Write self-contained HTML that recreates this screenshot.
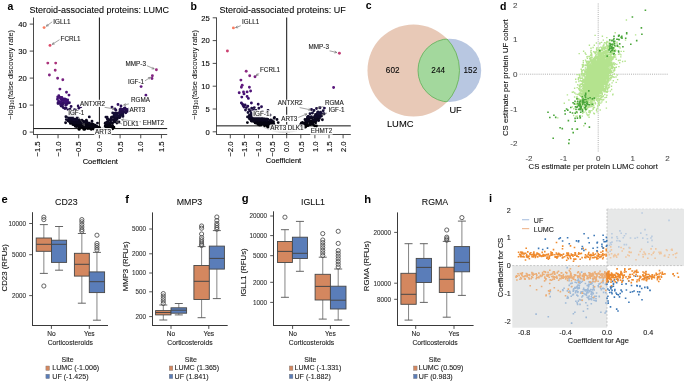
<!DOCTYPE html>
<html><head><meta charset="utf-8"><style>
html,body{margin:0;padding:0;background:#fff;}
body{width:685px;height:381px;overflow:hidden;}
svg{display:block;font-family:"Liberation Sans", sans-serif;will-change:transform;}
</style></head><body>
<svg width="685" height="381" viewBox="0 0 685 381">
<rect width="685" height="381" fill="#fff"/>
<text x="7.5" y="10" font-size="10.5" font-weight="bold" fill="#000">a</text>
<text x="190.5" y="9.5" font-size="10.5" font-weight="bold" fill="#000">b</text>
<text x="365.8" y="9.3" font-size="10.5" font-weight="bold" fill="#000">c</text>
<text x="500" y="9.6" font-size="10.5" font-weight="bold" fill="#000">d</text>
<text x="1.6" y="202.6" font-size="11.2" font-weight="bold" fill="#000">e</text>
<text x="125.2" y="203.1" font-size="11.2" font-weight="bold" fill="#000">f</text>
<text x="241.8" y="202.3" font-size="11.2" font-weight="bold" fill="#000">g</text>
<text x="364.2" y="203.1" font-size="11.2" font-weight="bold" fill="#000">h</text>
<text x="489" y="202" font-size="11.2" font-weight="bold" fill="#000">i</text>
<text x="29.4" y="12.6" font-size="9" stroke="#1a1a1a" stroke-width="0.08">Steroid-associated proteins: LUMC</text>
<line x1="33.5" y1="17.5" x2="33.5" y2="135" stroke="#4a4a4a" stroke-width="1"/>
<line x1="33" y1="134.5" x2="167.2" y2="134.5" stroke="#4a4a4a" stroke-width="1"/>
<line x1="29.7" y1="132.1" x2="33.5" y2="132.1" stroke="#3a3a3a" stroke-width="0.9"/>
<text x="26.9" y="134.8" font-size="7.7" stroke="#1a1a1a" stroke-width="0.12" text-anchor="end">0</text>
<line x1="29.7" y1="105.1" x2="33.5" y2="105.1" stroke="#3a3a3a" stroke-width="0.9"/>
<text x="26.9" y="107.8" font-size="7.7" stroke="#1a1a1a" stroke-width="0.12" text-anchor="end">10</text>
<line x1="29.7" y1="78.1" x2="33.5" y2="78.1" stroke="#3a3a3a" stroke-width="0.9"/>
<text x="26.9" y="80.8" font-size="7.7" stroke="#1a1a1a" stroke-width="0.12" text-anchor="end">20</text>
<line x1="29.7" y1="51.1" x2="33.5" y2="51.1" stroke="#3a3a3a" stroke-width="0.9"/>
<text x="26.9" y="53.8" font-size="7.7" stroke="#1a1a1a" stroke-width="0.12" text-anchor="end">30</text>
<line x1="29.7" y1="24.1" x2="33.5" y2="24.1" stroke="#3a3a3a" stroke-width="0.9"/>
<text x="26.9" y="26.8" font-size="7.7" stroke="#1a1a1a" stroke-width="0.12" text-anchor="end">40</text>
<line x1="37.38" y1="134.5" x2="37.38" y2="138.3" stroke="#3a3a3a" stroke-width="0.9"/>
<text x="40.08" y="141.5" font-size="7.6" stroke="#1a1a1a" stroke-width="0.12" text-anchor="end" transform="rotate(-90 40.08 141.5)">−1.5</text>
<line x1="58.05" y1="134.5" x2="58.05" y2="138.3" stroke="#3a3a3a" stroke-width="0.9"/>
<text x="60.75" y="141.5" font-size="7.6" stroke="#1a1a1a" stroke-width="0.12" text-anchor="end" transform="rotate(-90 60.75 141.5)">−1.0</text>
<line x1="78.73" y1="134.5" x2="78.73" y2="138.3" stroke="#3a3a3a" stroke-width="0.9"/>
<text x="81.43" y="141.5" font-size="7.6" stroke="#1a1a1a" stroke-width="0.12" text-anchor="end" transform="rotate(-90 81.43 141.5)">−0.5</text>
<line x1="99.4" y1="134.5" x2="99.4" y2="138.3" stroke="#3a3a3a" stroke-width="0.9"/>
<text x="102.1" y="141.5" font-size="7.6" stroke="#1a1a1a" stroke-width="0.12" text-anchor="end" transform="rotate(-90 102.1 141.5)">0.0</text>
<line x1="120.08" y1="134.5" x2="120.08" y2="138.3" stroke="#3a3a3a" stroke-width="0.9"/>
<text x="122.78" y="141.5" font-size="7.6" stroke="#1a1a1a" stroke-width="0.12" text-anchor="end" transform="rotate(-90 122.78 141.5)">0.5</text>
<line x1="140.75" y1="134.5" x2="140.75" y2="138.3" stroke="#3a3a3a" stroke-width="0.9"/>
<text x="143.45" y="141.5" font-size="7.6" stroke="#1a1a1a" stroke-width="0.12" text-anchor="end" transform="rotate(-90 143.45 141.5)">1.0</text>
<line x1="161.43" y1="134.5" x2="161.43" y2="138.3" stroke="#3a3a3a" stroke-width="0.9"/>
<text x="164.12" y="141.5" font-size="7.6" stroke="#1a1a1a" stroke-width="0.12" text-anchor="end" transform="rotate(-90 164.12 141.5)">1.5</text>
<text x="100.3" y="164.3" font-size="7.5" stroke="#1a1a1a" stroke-width="0.12" text-anchor="middle">Coefficient</text>
<text x="12.7" y="74.8" font-size="7.5" text-anchor="middle" transform="rotate(-90 12.7 74.8)">−log<tspan font-size="5.2" dy="1.6">10</tspan><tspan dy="-1.6">(false discovery rate)</tspan></text>
<line x1="99.4" y1="17.5" x2="99.4" y2="134.5" stroke="#111" stroke-width="1"/>
<line x1="33.5" y1="128.59" x2="167.2" y2="128.59" stroke="#111" stroke-width="1"/>
<path d="M100.9 128.8h0M109 129.1h0M106.7 130.3h0M94.5 129.2h0M93.4 129h0M103.7 129.4h0M108.7 129.6h0M108.1 129.4h0M103.7 130.4h0M107.8 129.9h0M92.5 128.6h0M104.4 129.5h0M94.6 129.8h0M103.7 129.4h0M104.4 129.9h0M104.3 131.3h0M100.6 130.9h0M105.8 129.9h0M105.5 129.5h0M108.8 128.8h0M93.3 128.8h0M99.2 131.5h0M101.1 129.1h0M106.9 130.6h0M96.1 129.3h0M110 129h0M94 128.9h0M103.6 129.2h0M96 129.7h0M106.9 130h0M99.6 131.8h0M106.9 129.8h0M99.2 129.7h0M107.9 128.8h0M98.6 129.8h0M99.4 129.1h0M106.8 129.4h0M107.4 129.6h0M102.8 131.5h0M105.3 130.7h0M102.6 132h0M99.6 129.9h0M103.8 130h0M97 129.5h0M104.4 129.9h0M99.2 131.4h0M102.5 131.9h0M109 129.3h0M97.5 130.2h0M94.3 128.7h0M110.2 128.6h0M102.8 128.8h0M98.4 130.3h0M95.5 129.7h0M109.2 128.9h0M102.3 130.2h0M103.9 129.9h0M100.6 130.3h0M94.2 129.3h0M104.6 131h0M97.4 129.1h0M94.8 129.9h0M107.3 130.4h0M97.8 128.9h0M99.9 129.2h0M106.3 131.1h0M96.4 128.8h0M98.2 130.4h0M109.4 129.4h0M110 128.7h0M103.8 131.9h0M103.8 129.2h0M99.5 131.7h0M94.8 130.1h0M99.9 129.2h0M93.4 129.1h0M99.7 130.6h0M102 130.2h0M96.1 129.1h0M101.8 130.9h0M109.9 128.7h0M95.3 128.6h0M102.9 130.8h0M96.7 131h0M96.8 130.4h0M98.6 128.6h0M103.1 131.3h0M99.1 130.4h0M93.9 129.2h0M101.6 128.9h0M100.3 129.7h0M104.7 131.1h0M102.7 130.5h0M95.3 130.5h0M110.5 128.6h0M108.5 129.5h0M93.9 128.6h0M104.4 130.5h0M107.6 129.1h0M99.9 129.6h0M105.8 130.8h0M105.4 128.8h0M104.9 129.2h0M110.4 128.6h0M100.9 130.1h0M106.3 129.5h0M93.7 129.5h0M97.3 129.1h0M96.4 130.2h0M107.3 130.4h0M97.5 130.7h0M93.2 128.8h0M98.2 130.4h0M98.4 131.5h0M107.7 130.2h0M97.6 129.4h0M98.7 130.2h0M98.4 130h0M98.1 130.2h0M92.5 128.7h0M101.6 129.2h0M110.5 128.6h0M101.9 129.8h0M104.6 129.4h0M110.4 128.7h0M100.5 129.4h0M96.3 130.7h0M108.7 129.8h0M108.6 128.7h0M95.4 129.1h0M97.6 130.7h0M110.3 128.6h0M106.3 130h0M110.3 128.7h0M110.2 128.7h0M93.2 128.7h0M107.6 128.8h0M103.7 131.8h0M108.2 129.5h0M95.9 130.3h0M96 129h0M93.7 128.7h0M92.7 128.7h0M96.6 129.8h0M95.6 128.8h0M95.2 129.6h0M103.4 130.4h0M96.3 130.3h0M109.4 129.3h0M92.7 128.6h0M108.5 129h0M101 128.8h0M99.9 131.9h0M100.3 130.2h0M102.3 129h0M93.6 128.7h0M101.9 129.5h0M99.9 131h0M98.5 130.9h0M100.6 130h0M107.5 130.2h0M100.6 130.2h0M107.3 129.2h0M103.7 129.7h0M100.5 129.3h0M107.6 129.4h0M94.5 129.4h0M97.2 130.8h0M97.8 129.1h0M98.7 130.4h0M99.3 131.3h0M102.8 130.6h0M109.4 128.9h0M110.2 128.6h0M101.3 132h0M96.2 130.7h0M105.8 130.9h0M104.1 130.8h0M101.1 129.4h0M97.8 131h0M97.6 128.8h0M102.4 131.1h0M95 130.2h0M98.4 129.8h0M100.7 129.2h0M110.5 128.6h0M98.6 129.2h0M94 128.9h0M108.4 128.9h0M94.2 129.1h0M107 129.9h0M107.7 130.1h0M102 130.1h0M106.7 130h0M97.1 129.4h0M94.4 129.5h0M100.9 129.3h0M100.1 130.1h0M104.7 129.6h0M109.9 128.9h0M102.8 132h0M95.9 130.2h0M96.2 129.7h0M96 129.6h0M107.4 130.5h0M96.8 129.9h0M93.2 129.1h0M102.8 130.7h0M108.8 129.1h0M106.1 130.3h0M99.2 129.1h0M103.6 128.9h0M97 130.9h0M104.7 131.3h0M93.8 129.2h0M104.9 130.5h0M106.1 130h0M97.6 129.9h0M103.4 131.4h0M103.1 131.4h0M110 128.8h0M96.1 130.8h0M96.3 130.2h0M102.8 129.7h0M105.3 130.2h0M103.8 130.1h0M97.8 130.9h0M99.6 129.6h0M94.8 129.2h0M92.7 128.8h0M104.6 129.2h0M106.3 129.4h0M97 128.6h0M103.3 128.9h0M109.4 129.2h0M110 129h0M104 131h0M94.1 129.1h0M96.2 129.1h0M100.8 131.1h0M92.6 128.6h0M104 129.2h0M99.3 128.9h0M92.8 128.6h0M106.3 130.9h0M110.3 128.8h0M106 130.6h0M104.9 129.1h0M94.5 129.6h0M108.7 129.3h0M95.2 130.3h0M94.6 129.9h0M98.9 129.3h0M100.6 131.7h0M98.8 130.2h0M100.5 129.8h0M104.8 129.4h0M102.1 132h0M106.4 129.1h0M105.6 130.1h0M108.5 129.9h0M105.8 129.7h0M105.1 131.3h0M110 129h0M95.6 129.6h0M102.8 131.4h0M97.6 128.8h0M98.2 130.3h0M94.4 129.2h0M105.1 129.4h0M96.6 130.2h0M104.3 128.7h0M106.4 130.5h0M93.6 129.2h0M102 131.1h0M106.7 130.3h0M94.6 129.2h0M106.2 130.6h0M98.4 130.9h0M92.9 128.7h0M93.3 128.9h0M103.8 130.1h0M93.1 129.1h0M101.7 130.4h0M92.7 128.8h0M106.4 130.3h0M105.4 130.9h0M97.2 128.9h0M96 129.9h0M101.4 129.6h0M98.2 129.7h0M96.4 129.4h0M92.8 128.8h0M93.5 129.3h0M106 130h0M106.6 128.6h0M95.8 129.1h0M110.1 128.9h0M93.8 129.1h0M102.2 129.7h0M102.8 131h0M95.3 129.9h0M100.9 131.4h0M97.8 128.9h0M100.1 131.6h0M104.5 130.6h0M101.7 130.7h0M94.5 129h0M102.7 128.6h0M92.5 128.6h0M100.1 130.5h0M105.5 130.7h0M99.6 131.5h0M102.7 130.5h0M93.1 129h0M99.6 130.2h0M94.1 129h0M107.2 130h0M93.6 129.3h0M106.3 129.8h0M94.8 130h0M107.5 129.2h0M105 131.1h0M110.4 128.7h0M98.8 131h0M109.5 128.9h0M102.4 130.6h0M105.4 130.1h0M100.8 131.5h0M107.4 130.5h0M108.9 128.7h0M101.9 131.5h0M96.3 130.6h0M105.1 130.5h0M110.2 128.8h0M98.4 129.6h0M108.3 129.3h0M94.6 129.8h0M105.4 129.3h0M110.4 128.6h0M106.6 129.4h0M102.4 129.3h0M96.1 130.5h0M98 130.4h0M109.6 128.7h0M105.9 128.9h0M99.3 128.6h0M108.9 129.5h0M99.2 130.9h0M95.9 128.7h0M99.5 129h0M103.2 131.8h0M100.3 129.3h0M98.2 130.7h0M94.1 129.2h0M109.5 129.3h0M108.5 129.2h0M97.5 128.9h0M109.2 128.6h0M100.8 130.6h0M104.5 128.9h0M98.7 130.7h0M99.8 131.9h0M107.7 129.6h0M100.9 129.9h0M107.1 129.2h0M98.4 130.8h0M98.4 130h0M107.1 130.7h0M103.4 129.1h0M102.6 130.7h0M101 130.3h0M103.8 131.6h0M106.8 129.6h0M97.4 128.8h0M99.6 129.3h0M97.8 129.9h0M95.8 130.2h0M98.4 131.2h0M106.2 130h0M98.7 129.9h0M96.6 130h0M102.7 129.9h0M100.1 129.5h0M108.1 128.6h0M102.6 128.7h0M109.4 128.9h0M94.8 129.2h0M102 129.6h0M97.3 128.6h0M98.7 128.6h0M97.4 130.1h0M104.8 130.8h0M99.8 129.7h0M106.1 128.8h0M102.4 128.7h0M97.5 129.7h0M106.2 131h0M106.7 129h0M102.6 128.9h0" stroke="#d9d9d9" stroke-width="2.8" stroke-linecap="round"/>
<path d="M97.8 129.3h0M91.4 129.3h0M91.1 129.3h0M83.7 129.3h0M78.9 129.3h0M84.1 129.3h0M84.8 129.3h0M96.8 129.3h0M96.5 129.3h0M79.1 129.3h0M79.4 129.2h0M109.3 128.8h0M109 128.8h0M95 128.8h0M112.7 128.7h0M97.2 128.7h0M93.7 128.7h0M87.8 128.6h0M90.1 128.5h0M96.4 128.5h0M94.2 128.5h0M92.1 128.5h0M84.7 128.5h0M93.8 128.4h0M89.9 128.4h0M95.1 128.3h0M90 128.3h0M95.8 128.2h0M93.9 128.2h0M95.6 128.1h0M96.1 128.1h0M93.1 128.1h0M88.9 128.1h0M91.8 128h0M87.1 127.9h0M94.5 127.9h0M107.2 127.8h0M108.9 127.8h0M83.3 127.8h0M90 127.8h0M96.5 127.7h0M94.1 127.7h0M99.6 127.7h0M107.2 127.6h0M112.3 127.6h0M92.9 127.6h0M89.9 127.6h0M91.9 127.5h0M88.8 127.5h0M82.2 127.4h0M107 127.4h0M89.1 127.4h0M87.6 127.4h0M108.4 127.3h0M106.5 127.3h0M94.7 127.2h0M83.3 127.2h0M113.9 127.2h0M82.4 127.2h0M106.1 127.1h0M98.3 127.1h0M83.1 127.1h0M92.3 127.1h0M79 127h0M93.6 127h0M86.7 127h0M87 126.9h0M106.2 126.9h0M80.7 126.9h0M93.1 126.9h0M111.3 126.8h0M85.3 126.8h0" stroke="#000004" stroke-width="2.9" stroke-linecap="round"/>
<path d="M85.6 126.8h0M96.9 126.7h0M91.1 126.7h0M95.3 126.7h0M77 126.6h0M93.7 126.6h0M87.5 126.6h0M76.5 126.6h0M79.5 126.5h0M96.4 126.4h0M84.8 126.4h0M85.5 126.4h0M110.5 126.3h0M91.1 126.3h0M84.4 126.3h0M75.3 126.3h0M94.6 126.2h0M93.5 126.2h0M96.7 126.2h0M105.2 126.2h0M94 126.2h0M92.7 126.2h0M86.9 126.2h0M106 126.1h0M95.4 126.1h0M82.2 126.1h0M94.6 126.1h0M90 126h0M83.3 126h0M112.7 126h0M93 125.9h0M88.5 125.9h0M82.3 125.9h0M94 125.9h0M106.7 125.9h0M95.4 125.9h0M88.2 125.9h0M95.8 125.9h0M79.1 125.8h0M92.1 125.8h0M75.2 125.8h0M106.6 125.8h0M85 125.8h0M91.7 125.7h0M92.9 125.7h0M86.7 125.7h0M95.8 125.7h0M88.2 125.7h0M108.6 125.6h0M105.6 125.6h0M83.1 125.6h0M90.6 125.4h0M108.2 125.4h0M78 125.4h0M90.4 125.2h0M88.8 125.2h0M90.9 125.2h0M80.9 125.1h0M108.8 125.1h0M109.5 125.1h0M83.8 125.1h0M74.5 125.1h0M89.2 125.1h0M94 125.1h0M88.3 125h0M84.1 125h0M107.2 125h0M94.4 125h0M90.7 124.9h0M84.8 124.9h0M109.1 124.9h0M78.8 124.8h0M77.6 124.7h0M75.3 124.6h0M78.7 124.6h0M80.2 124.5h0M75.6 124.5h0M90.3 124.5h0M72.8 124.5h0M91.2 124.4h0M90.2 124.4h0M88.4 124.4h0M74.9 124.4h0M109.5 124.3h0M108.3 124.3h0M80.9 124.3h0M89.7 124.3h0M91.9 124.3h0M92.9 124.2h0M77.5 124.2h0M92.2 124.2h0M105.5 124.2h0M86.3 124.1h0M82.2 124.1h0M74.5 124.1h0M89.9 124.1h0M92.3 124h0M82.5 124h0M109.1 124h0M77.6 124h0M79 123.9h0M86.8 123.9h0M81.7 123.9h0M74 123.8h0M72.5 123.8h0M78.7 123.8h0M83.5 123.7h0M92 123.7h0M74 123.7h0M109.2 123.6h0M81.4 123.6h0M108.4 123.6h0M85.6 123.5h0M108.6 123.5h0M72.3 123.5h0M79.4 123.5h0M72.5 123.5h0M86.7 123.5h0M74.7 123.5h0M76.4 123.4h0M111 123.4h0M112.4 123.4h0M105.1 123.4h0M70.4 123.4h0" stroke="#050410" stroke-width="2.9" stroke-linecap="round"/>
<path d="M74.1 123.3h0M83.5 123.3h0M89.4 123.2h0M82.3 123.1h0M97.5 123.1h0M78 123.1h0M83.1 123.1h0M116.9 123.1h0M106.7 123h0M108.1 123h0M78.2 123h0M75.1 123h0M106.7 123h0M79.4 122.9h0M105.5 122.9h0M81.2 122.9h0M106 122.8h0M111 122.7h0M65.6 122.7h0M83.3 122.6h0M86.4 122.6h0M79.4 122.5h0M108.6 122.4h0M79.4 122.3h0M86.6 122.3h0M82.1 122.3h0M74.3 122.2h0M76.9 122.1h0M113.7 122.1h0M80 122.1h0M110.7 122.1h0M79.4 122.1h0M80.8 122.1h0M73.2 122h0M119 122h0M73.8 122h0M80.4 122h0M117.7 121.9h0M76.4 121.9h0M84.8 121.9h0M114.2 121.9h0M73.9 121.8h0M70 121.8h0M107.5 121.7h0M87 121.7h0M72.1 121.7h0M83.8 121.6h0M81.2 121.5h0M83.8 121.5h0M115 121.5h0M83.7 121.5h0M74.8 121.5h0M71.4 121.4h0M114.1 121.4h0M92 121.3h0M70.3 121.3h0M81.2 121.2h0M75.3 121.2h0M79.9 121.2h0M68.7 121.2h0M75.5 121.2h0M70.6 121h0M73 121h0M80.6 121h0M80.7 121h0M78.4 121h0M75.9 121h0M68.2 120.9h0M81.2 120.9h0M77 120.8h0M80.4 120.8h0M72.9 120.7h0M77.7 120.7h0M71.8 120.7h0M72.9 120.6h0M71.2 120.5h0M76.5 120.5h0M69.7 120.5h0M72.2 120.4h0M69.2 120.3h0M86.4 120.2h0M74.6 120.2h0M82 120.2h0M69.5 120h0M79 120h0M72.1 120h0M70.7 119.9h0M114.2 119.9h0M110.8 119.8h0M108.8 119.8h0M73.4 119.8h0" stroke="#0a071d" stroke-width="2.9" stroke-linecap="round"/>
<path d="M74.1 119.8h0M111.9 119.7h0M116.3 119.7h0M66.3 119.6h0M73.5 119.6h0M77.2 119.5h0M68.2 119.4h0M75 119.4h0M75.7 119.4h0M107.7 119.4h0M72.6 119.4h0M116.7 119.3h0M75.5 119.3h0M115.7 119.3h0M117.1 119.1h0M70.1 119.1h0M70.8 119.1h0M107.3 119h0M107.9 118.9h0M73.3 118.8h0M71.5 118.8h0M69.7 118.7h0M116.4 118.7h0M115.9 118.7h0M116.4 118.6h0M71.3 118.3h0M68.9 118.3h0M115.4 118.3h0M114.5 118.2h0M111.2 117.9h0M119.8 117.6h0M70.1 117.6h0M71.4 117.5h0M119.1 117.5h0M68.8 117.5h0M68.8 117.4h0M111.5 117.3h0M71.2 117.3h0M114.2 117.3h0M77.3 117.2h0M119.8 117.2h0M107.1 117.1h0M112.2 117.1h0M105.9 117.1h0M117.4 116.9h0M89.3 116.9h0M68.3 116.9h0M116 116.9h0M117.2 116.8h0M119.9 116.8h0M65.9 116.7h0M68.5 116.7h0M113.6 116.7h0M71.9 116.6h0M71.4 116.6h0M72.6 116.5h0M116 116.4h0M122.9 116.4h0" stroke="#0f0a29" stroke-width="2.9" stroke-linecap="round"/>
<path d="M119.6 116.2h0M115.8 116.2h0M70 116.1h0M115.6 116h0M118.8 115.9h0M119.9 115.8h0M117.5 115.6h0M119.5 115.5h0M122.8 115.4h0M119.7 115.3h0M121.9 115.1h0M114.2 114.9h0M75.4 114.8h0M115.8 114.6h0M120.2 114.5h0M116.7 114.5h0M122.9 113.9h0M116.8 113.7h0M69.9 113.6h0M73.4 113.6h0M122.3 113.6h0M120 113.5h0M70.2 113.3h0M117.3 113.2h0M115 113.1h0M119.9 113h0M112.7 112.9h0M122.7 112.9h0" stroke="#140e36" stroke-width="2.9" stroke-linecap="round"/>
<path d="M119.4 112.7h0M125.8 112.7h0M120.6 112.5h0M72.2 112.4h0M123 112.1h0M71.8 112h0M119.8 111.8h0M121.3 111.7h0M124 111.7h0M122.2 111.7h0M75.9 111.5h0M127.4 111.4h0M124.3 111.4h0M74.1 111h0M128 111h0M122.5 110.9h0M129.9 110.8h0M127 110.7h0M115.9 110.3h0M122.6 110.1h0M129 110.1h0M75.5 110h0M123 110h0M68.2 109.9h0M120 109.8h0M74.5 109.8h0M123 109.7h0M125.9 109.6h0M70 109.3h0" stroke="#1e0e44" stroke-width="2.9" stroke-linecap="round"/>
<path d="M126.3 109.3h0M123.2 109.2h0M128.8 109.1h0M120.7 109h0M115 109h0M64.9 108.6h0M124.8 108.6h0M66.1 108.3h0M78.8 108.2h0M124.6 108.1h0M125 108h0M63.2 107.6h0M112 107.1h0M80.8 106.7h0M71.1 106.5h0M61.2 106.1h0M78.2 106h0M121 106h0M62.4 106h0" stroke="#280e53" stroke-width="2.9" stroke-linecap="round"/>
<path d="M65.7 105.3h0M60.7 105h0M66.5 104.8h0M118 104.5h0M62.9 104.1h0M67.5 103.6h0M59.8 103.6h0M60.6 103.6h0M60.8 103.5h0M58 103.5h0M65.6 103.1h0M58 102.8h0M69.4 102.7h0M63.7 102.4h0M61.2 102.4h0M67.5 102.3h0" stroke="#310f61" stroke-width="2.9" stroke-linecap="round"/>
<path d="M65.4 102.2h0M60.6 102h0M59.7 102h0M58.8 101.4h0M67.5 100.9h0M62.3 100.5h0M65.8 100.4h0M63.6 100.1h0M67.7 100h0M64.4 99.9h0M63.4 99.5h0M65.6 99.2h0M57.5 99.2h0M60.7 99.1h0M63 99h0M64.8 98.9h0" stroke="#3b0f70" stroke-width="2.9" stroke-linecap="round"/>
<path d="M59.9 97.5h0M61.9 97.4h0M60.5 97.4h0M58.4 97.4h0M57.7 97h0M58.8 95.7h0" stroke="#451274" stroke-width="2.9" stroke-linecap="round"/>
<path d="M145.9 95.2h0M69 95.1h0M66.5 92.3h0" stroke="#501478" stroke-width="2.9" stroke-linecap="round"/>
<path d="M59.9 89.1h0" stroke="#5a177c" stroke-width="2.9" stroke-linecap="round"/>
<path d="M141.1 86.6h0" stroke="#641a80" stroke-width="2.9" stroke-linecap="round"/>
<path d="M62.8 79.8h0M152 78.5h0M57.6 78.3h0" stroke="#782180" stroke-width="2.9" stroke-linecap="round"/>
<path d="M152.4 75.8h0M49.4 75h0" stroke="#822581" stroke-width="2.9" stroke-linecap="round"/>
<path d="M55.2 70.2h0M156.4 69.7h0" stroke="#972c7f" stroke-width="2.9" stroke-linecap="round"/>
<path d="M47.8 63.1h0M55.7 63.1h0" stroke="#ac337b" stroke-width="2.9" stroke-linecap="round"/>
<path d="M50 45.4h0" stroke="#de4968" stroke-width="2.9" stroke-linecap="round"/>
<path d="M44.1 27.6h0" stroke="#f97c60" stroke-width="2.9" stroke-linecap="round"/>
<line x1="52.5" y1="21.6" x2="46.3" y2="26.2" stroke="#666" stroke-width="0.6"/>
<line x1="48.85" y1="25.71" x2="46.3" y2="26.2" stroke="#666" stroke-width="0.6"/>
<line x1="47.51" y1="23.9" x2="46.3" y2="26.2" stroke="#666" stroke-width="0.6"/>
<rect x="52.3" y="17.83" width="19.16" height="7.12" fill="#ffffff" stroke="none" stroke-width="1" rx="1.5" fill-opacity="0.92"/>
<text x="53.3" y="23.5" font-size="6.3" stroke="#222" stroke-width="0.12" fill="#222">IGLL1</text>
<line x1="59.8" y1="39.5" x2="52.2" y2="44.4" stroke="#666" stroke-width="0.6"/>
<line x1="54.78" y1="44.08" x2="52.2" y2="44.4" stroke="#666" stroke-width="0.6"/>
<line x1="53.55" y1="42.18" x2="52.2" y2="44.4" stroke="#666" stroke-width="0.6"/>
<rect x="59.6" y="35.73" width="21.95" height="7.12" fill="#ffffff" stroke="none" stroke-width="1" rx="1.5" fill-opacity="0.92"/>
<text x="60.6" y="41.4" font-size="6.3" stroke="#222" stroke-width="0.12" fill="#222">FCRL1</text>
<line x1="146.5" y1="65.5" x2="154.2" y2="68.9" stroke="#666" stroke-width="0.6"/>
<line x1="152.52" y1="66.92" x2="154.2" y2="68.9" stroke="#666" stroke-width="0.6"/>
<line x1="151.6" y1="68.99" x2="154.2" y2="68.9" stroke="#666" stroke-width="0.6"/>
<rect x="124.6" y="60.03" width="22.3" height="7.12" fill="#ffffff" stroke="none" stroke-width="1" rx="1.5" fill-opacity="0.92"/>
<text x="125.6" y="65.7" font-size="6.3" stroke="#222" stroke-width="0.12" fill="#222">MMP-3</text>
<line x1="144" y1="81.4" x2="150.5" y2="77.3" stroke="#666" stroke-width="0.6"/>
<line x1="147.92" y1="77.59" x2="150.5" y2="77.3" stroke="#666" stroke-width="0.6"/>
<line x1="149.12" y1="79.51" x2="150.5" y2="77.3" stroke="#666" stroke-width="0.6"/>
<rect x="126.9" y="77.93" width="18.1" height="7.12" fill="#ffffff" stroke="none" stroke-width="1" rx="1.5" fill-opacity="0.92"/>
<text x="127.9" y="83.6" font-size="6.3" stroke="#222" stroke-width="0.12" fill="#222">IGF-1</text>
<line x1="104.6" y1="107.3" x2="114.5" y2="109" stroke="#666" stroke-width="0.6"/>
<line x1="112.38" y1="107.49" x2="114.5" y2="109" stroke="#666" stroke-width="0.6"/>
<line x1="112" y1="109.72" x2="114.5" y2="109" stroke="#666" stroke-width="0.6"/>
<rect x="79.1" y="99.83" width="26.86" height="7.12" fill="#ffffff" stroke="none" stroke-width="1" rx="1.5" fill-opacity="0.92"/>
<text x="80.1" y="105.5" font-size="6.3" stroke="#222" stroke-width="0.12" fill="#222">ANTXR2</text>
<line x1="128.9" y1="103.9" x2="123.6" y2="105" stroke="#666" stroke-width="0.6"/>
<line x1="126.12" y1="105.63" x2="123.6" y2="105" stroke="#666" stroke-width="0.6"/>
<line x1="125.66" y1="103.42" x2="123.6" y2="105" stroke="#666" stroke-width="0.6"/>
<rect x="130" y="96.43" width="20.9" height="7.12" fill="#ffffff" stroke="none" stroke-width="1" rx="1.5" fill-opacity="0.92"/>
<text x="131" y="102.1" font-size="6.3" stroke="#222" stroke-width="0.12" fill="#222">RGMA</text>
<rect x="128.4" y="106.63" width="17.99" height="7.12" fill="#ffffff" stroke="none" stroke-width="1" rx="1.5" fill-opacity="0.92"/>
<text x="129.4" y="112.3" font-size="6.3" stroke="#222" stroke-width="0.12" fill="#222">ART3</text>
<line x1="78.7" y1="117.2" x2="84.6" y2="125.7" stroke="#666" stroke-width="0.6"/>
<line x1="84.19" y1="123.13" x2="84.6" y2="125.7" stroke="#666" stroke-width="0.6"/>
<line x1="82.34" y1="124.42" x2="84.6" y2="125.7" stroke="#666" stroke-width="0.6"/>
<rect x="67.2" y="109.63" width="18.1" height="7.12" fill="#ffffff" stroke="none" stroke-width="1" rx="1.5" fill-opacity="0.92"/>
<text x="68.2" y="115.3" font-size="6.3" stroke="#222" stroke-width="0.12" fill="#222">IGF-1</text>
<line x1="141" y1="121.8" x2="121.5" y2="119.7" stroke="#666" stroke-width="0.6"/>
<line x1="123.71" y1="121.08" x2="121.5" y2="119.7" stroke="#666" stroke-width="0.6"/>
<line x1="123.95" y1="118.83" x2="121.5" y2="119.7" stroke="#666" stroke-width="0.6"/>
<rect x="141.7" y="118.93" width="23.35" height="7.12" fill="#ffffff" stroke="none" stroke-width="1" rx="1.5" fill-opacity="0.92"/>
<text x="142.7" y="124.6" font-size="6.3" stroke="#222" stroke-width="0.12" fill="#222">EHMT2</text>
<line x1="122" y1="124" x2="116.3" y2="121.8" stroke="#666" stroke-width="0.6"/>
<line x1="118.08" y1="123.7" x2="116.3" y2="121.8" stroke="#666" stroke-width="0.6"/>
<line x1="118.89" y1="121.59" x2="116.3" y2="121.8" stroke="#666" stroke-width="0.6"/>
<rect x="122.1" y="120.63" width="17.76" height="7.12" fill="#ffffff" stroke="none" stroke-width="1" rx="1.5" fill-opacity="0.92"/>
<text x="123.1" y="126.3" font-size="6.3" stroke="#222" stroke-width="0.12" fill="#222">DLK1</text>
<rect x="94" y="127.93" width="17.99" height="7.12" fill="#ffffff" stroke="none" stroke-width="1" rx="1.5" fill-opacity="0.92"/>
<text x="95" y="133.6" font-size="6.3" stroke="#222" stroke-width="0.12" fill="#222">ART3</text>
<text x="219.6" y="12.9" font-size="9" stroke="#1a1a1a" stroke-width="0.08">Steroid-associated proteins: UF</text>
<line x1="216.5" y1="17.5" x2="216.5" y2="135" stroke="#4a4a4a" stroke-width="1"/>
<line x1="216" y1="134.5" x2="350.8" y2="134.5" stroke="#4a4a4a" stroke-width="1"/>
<line x1="212.7" y1="131.8" x2="216.5" y2="131.8" stroke="#3a3a3a" stroke-width="0.9"/>
<text x="209.9" y="134.5" font-size="7.7" stroke="#1a1a1a" stroke-width="0.12" text-anchor="end">0</text>
<line x1="212.7" y1="109" x2="216.5" y2="109" stroke="#3a3a3a" stroke-width="0.9"/>
<text x="209.9" y="111.7" font-size="7.7" stroke="#1a1a1a" stroke-width="0.12" text-anchor="end">5</text>
<line x1="212.7" y1="86.2" x2="216.5" y2="86.2" stroke="#3a3a3a" stroke-width="0.9"/>
<text x="209.9" y="88.9" font-size="7.7" stroke="#1a1a1a" stroke-width="0.12" text-anchor="end">10</text>
<line x1="212.7" y1="63.4" x2="216.5" y2="63.4" stroke="#3a3a3a" stroke-width="0.9"/>
<text x="209.9" y="66.1" font-size="7.7" stroke="#1a1a1a" stroke-width="0.12" text-anchor="end">15</text>
<line x1="212.7" y1="40.6" x2="216.5" y2="40.6" stroke="#3a3a3a" stroke-width="0.9"/>
<text x="209.9" y="43.3" font-size="7.7" stroke="#1a1a1a" stroke-width="0.12" text-anchor="end">20</text>
<line x1="212.7" y1="17.8" x2="216.5" y2="17.8" stroke="#3a3a3a" stroke-width="0.9"/>
<text x="209.9" y="20.5" font-size="7.7" stroke="#1a1a1a" stroke-width="0.12" text-anchor="end">25</text>
<line x1="230.3" y1="134.5" x2="230.3" y2="138.3" stroke="#3a3a3a" stroke-width="0.9"/>
<text x="233" y="141.5" font-size="7.6" stroke="#1a1a1a" stroke-width="0.12" text-anchor="end" transform="rotate(-90 233 141.5)">−2.0</text>
<line x1="244.4" y1="134.5" x2="244.4" y2="138.3" stroke="#3a3a3a" stroke-width="0.9"/>
<text x="247.1" y="141.5" font-size="7.6" stroke="#1a1a1a" stroke-width="0.12" text-anchor="end" transform="rotate(-90 247.1 141.5)">−1.5</text>
<line x1="258.5" y1="134.5" x2="258.5" y2="138.3" stroke="#3a3a3a" stroke-width="0.9"/>
<text x="261.2" y="141.5" font-size="7.6" stroke="#1a1a1a" stroke-width="0.12" text-anchor="end" transform="rotate(-90 261.2 141.5)">−1.0</text>
<line x1="272.6" y1="134.5" x2="272.6" y2="138.3" stroke="#3a3a3a" stroke-width="0.9"/>
<text x="275.3" y="141.5" font-size="7.6" stroke="#1a1a1a" stroke-width="0.12" text-anchor="end" transform="rotate(-90 275.3 141.5)">−0.5</text>
<line x1="286.7" y1="134.5" x2="286.7" y2="138.3" stroke="#3a3a3a" stroke-width="0.9"/>
<text x="289.4" y="141.5" font-size="7.6" stroke="#1a1a1a" stroke-width="0.12" text-anchor="end" transform="rotate(-90 289.4 141.5)">0.0</text>
<line x1="300.8" y1="134.5" x2="300.8" y2="138.3" stroke="#3a3a3a" stroke-width="0.9"/>
<text x="303.5" y="141.5" font-size="7.6" stroke="#1a1a1a" stroke-width="0.12" text-anchor="end" transform="rotate(-90 303.5 141.5)">0.5</text>
<line x1="314.9" y1="134.5" x2="314.9" y2="138.3" stroke="#3a3a3a" stroke-width="0.9"/>
<text x="317.6" y="141.5" font-size="7.6" stroke="#1a1a1a" stroke-width="0.12" text-anchor="end" transform="rotate(-90 317.6 141.5)">1.0</text>
<line x1="329" y1="134.5" x2="329" y2="138.3" stroke="#3a3a3a" stroke-width="0.9"/>
<text x="331.7" y="141.5" font-size="7.6" stroke="#1a1a1a" stroke-width="0.12" text-anchor="end" transform="rotate(-90 331.7 141.5)">1.5</text>
<line x1="343.1" y1="134.5" x2="343.1" y2="138.3" stroke="#3a3a3a" stroke-width="0.9"/>
<text x="345.8" y="141.5" font-size="7.6" stroke="#1a1a1a" stroke-width="0.12" text-anchor="end" transform="rotate(-90 345.8 141.5)">2.0</text>
<text x="283.5" y="163.2" font-size="7.5" stroke="#1a1a1a" stroke-width="0.12" text-anchor="middle">Coefficient</text>
<text x="196.7" y="74.8" font-size="7.5" text-anchor="middle" transform="rotate(-90 196.7 74.8)">−log<tspan font-size="5.2" dy="1.6">10</tspan><tspan dy="-1.6">(false discovery rate)</tspan></text>
<line x1="286.7" y1="17.5" x2="286.7" y2="134.5" stroke="#111" stroke-width="1"/>
<line x1="216.5" y1="125.87" x2="350.8" y2="125.87" stroke="#111" stroke-width="1"/>
<path d="M303 126.9h0M277.7 126.8h0M274.2 128.6h0M298.9 128h0M291.4 130.4h0M271.9 125.9h0M271.2 128.9h0M263.4 126.2h0M280.2 128.1h0M301.3 125.9h0M278.3 128.6h0M280.3 128.9h0M300.1 127.7h0M295.2 126.5h0M280.6 129.6h0M266.7 126.5h0M297.7 127.3h0M274.8 127.3h0M272.5 126.7h0M303.9 126.8h0M289.1 129h0M277.3 126.4h0M276.5 126.9h0M295.7 129.8h0M298.9 128h0M278.8 128.9h0M280.2 129.2h0M295.7 128.9h0M269.7 126.6h0M281.5 128.6h0M270.3 127h0M289.6 127.9h0M303.4 127.4h0M285.4 131.5h0M278.8 127.8h0M298.3 128.5h0M301.9 126.1h0M303 126.9h0M290.1 128.8h0M265.7 127h0M299.3 128.6h0M282.2 127.8h0M280.8 128.3h0M287.4 131h0M264.4 126.3h0M290.4 128.3h0M305.4 126.5h0M266.5 126.2h0M301.7 125.9h0M301.8 127.3h0M287.5 128h0M287.7 129.2h0M298.9 126.7h0M264.1 125.9h0M281.1 127.4h0M305.1 126.2h0M274.3 127.7h0M281.6 130.6h0M269.4 126.6h0M281.5 129.1h0M278.3 128h0M290.1 127h0M276 127.9h0M284.9 131.2h0M300.4 127h0M283.9 128.7h0M285.6 129.4h0M285.2 126.9h0M279.2 127.2h0M263.3 126.1h0M295.2 127.5h0M266.9 127.2h0M282 127h0M267.5 127.8h0M275.9 128.8h0M293.6 128.9h0M294.1 129.6h0M278.6 127.1h0M281.7 128.7h0M281.3 131.1h0M284.9 131.5h0M269.6 126.7h0M295.2 126h0M295.5 128.6h0M271.7 128.9h0M273.9 126.3h0M281.5 128.6h0M285.3 131.1h0M289.2 131.5h0M290.6 130.1h0M304.7 126.3h0M284.4 131.1h0M274.7 129.3h0M303.4 126.7h0M285.1 129h0M278.2 127.7h0M283.1 128.5h0M293.9 127.6h0M270.5 126.2h0M270.2 127.3h0M302.8 125.9h0M278.3 128.3h0M291.1 130h0M280.8 128.2h0M271.8 126.8h0M306.3 126.1h0M306.3 126h0M297.3 127.9h0M283.1 131.3h0M274.6 130.4h0M286.4 127.9h0M280.3 126.5h0M304.4 126.8h0M277.1 130h0M272.2 127.2h0M296.2 126h0M285.4 129.4h0M304.1 127.1h0M285.6 130h0M294.7 129h0M268.4 126h0M304.7 125.9h0M269.8 128h0M279.3 129.2h0M285.7 126.9h0M306.3 125.9h0M296.2 128.2h0M275.8 126h0M280 126.1h0M295.3 128.9h0M271.7 127h0M291.9 128.1h0M286.4 130.1h0M302.7 126.8h0M302.8 126.2h0M295.4 129.7h0M268.9 127.7h0M304.3 126.9h0M265.3 126.9h0M273.8 127.7h0M268.1 126.5h0M288.2 128.2h0M298.8 128.2h0M304.2 126.6h0M291.5 127h0M279.1 126.9h0M264.6 126.3h0M285.6 131.3h0M287.6 126h0M293 129.3h0M289.2 127.1h0M295.6 127h0M297.9 128.1h0M295.4 128.2h0M278.1 128.9h0M305.3 126.1h0M284.3 126h0M291.1 128.2h0M291.2 129h0M264.6 126.4h0M273.6 126.1h0M294.5 130.1h0M270.6 129.2h0M297.3 126.9h0M277.2 130.2h0M274.1 127.7h0M268.6 128.5h0M275.3 125.9h0M268.8 126.8h0M303.6 126h0M291 128.8h0M294.9 126.5h0M279.5 128.3h0M286.1 131.7h0M300.6 126.3h0M300.9 128.1h0M273.1 128h0M275.8 130h0M263 126h0M270.1 127.5h0M301.8 128.1h0M264.7 125.9h0M263.2 126.1h0M295.3 127.7h0M280.9 126.1h0M267.5 126.8h0M299.5 126.2h0M266.9 126.7h0M273.2 128.6h0M267.8 128.1h0M305.6 126.2h0M283.2 127.7h0M302.2 126.2h0M289.8 126.1h0M274.4 126.7h0M266.3 126.3h0M295.8 127.2h0M291.3 126h0M271 127.7h0M276 128.5h0M296.1 126.8h0M282.5 131.2h0M270.9 127.2h0M291.5 127h0M279.4 128.1h0M275.4 127.1h0M268.1 127.4h0M301.5 126.7h0M285.1 128.9h0M267.7 128.1h0M301.3 127.9h0M288.6 130.4h0M304.4 126.4h0M274.7 127.6h0M277.9 130.1h0M268.5 127.7h0M305.5 126.2h0M280.9 129.1h0M266.2 126.1h0M290.7 129.4h0M280.7 126.7h0M289 129.7h0M269 125.9h0M287.1 127.7h0M280.8 129.5h0M272.8 128h0M299.3 129.1h0M286.8 128.4h0M269.7 128.9h0M286.8 129.2h0M295.4 127.8h0M279.6 128h0M290 129.8h0M273.3 126.4h0M286.3 130.1h0M301.3 127.5h0M270 128.5h0M275.1 127.1h0M274.7 126.2h0M268.1 127.3h0M293.8 126h0M298.8 128.1h0M276.7 130.9h0M270.4 128.9h0M291.7 130.9h0M264.7 126.1h0M264.8 126.3h0M264.6 126.4h0M306.2 126.1h0M305.8 126.1h0M297 128.8h0M287.2 129.7h0M269.7 126.2h0M306.2 126h0M275.1 127.3h0M265.7 127.2h0M264.6 126.2h0M303.7 126.6h0M264.6 126.3h0M298 129.1h0M278.8 128.9h0M279.5 125.9h0M293.8 127.8h0M266.7 127.3h0M279.2 128.6h0M285.1 129h0M293.2 128.6h0M281 131h0M302.9 126.6h0M266.9 127.4h0M289.3 128.1h0M263.4 125.9h0M275.7 126.4h0M299.7 126.1h0M270.7 127.3h0M272 127.1h0M298.6 127.9h0M274.4 130.4h0M304.2 127.1h0M292 126.6h0M277.9 130.2h0M278.3 127.6h0M302.3 127.4h0M283.3 128.9h0M270.5 129h0M293.4 129.3h0M264.8 126.6h0M270.6 128.5h0M271.5 127.3h0M277.6 129.4h0M294.5 128.6h0M290.6 127.2h0M264.7 126.1h0M294.8 126.4h0M284.5 127.9h0M271.8 128.6h0M266 127.5h0M272.4 128.9h0M273.3 130.2h0M263.2 125.9h0M294.8 129.1h0M270.2 128.4h0M275.3 130.7h0M289.7 129.6h0M268.4 126.2h0M297.7 127.6h0M296.6 127.9h0M271.8 126h0M286.5 131.4h0M268.4 127.5h0M296.4 126.4h0M306.2 126h0M301.2 126.8h0M303.2 125.9h0M283.5 130.1h0M283.1 129h0M272.4 126.4h0M301.5 127.9h0M279 128.7h0M265.7 127.3h0M288.3 130h0M296.4 127h0M277.5 128.3h0M282.8 127.3h0M276.9 126.8h0M292.8 128.6h0M276.7 128h0M300.2 128.6h0M302.7 126.3h0M272.7 130h0M286.2 131.4h0M303.8 126.7h0M279.5 131.4h0M285 127.7h0M287.4 126.1h0M295.4 127.3h0M282.3 128.8h0M287.1 126.1h0M300.1 128.5h0M268.4 126.6h0M275.6 129h0M270.3 129.1h0M271.8 126.8h0M289.3 129h0M294.4 127.5h0M271.5 129.5h0M263.8 126.4h0M287.5 130.7h0M292.5 130.8h0M289.7 129.4h0M276.7 126.7h0M296.1 127.6h0M305.7 126h0M262.7 125.9h0M285.8 128.7h0M297.4 128.8h0M291.6 126h0M268.1 126.6h0M291.7 129h0M302.8 127.6h0M275.2 126.9h0M301.3 126.4h0M277.3 128.7h0M273.9 126.7h0M303 126.5h0M269.7 127h0M299.8 126.3h0M284.1 127.6h0M294.7 129.1h0M293.1 128.2h0M285.4 129.5h0M281.8 129.4h0M291.6 128.3h0M287.6 130.4h0M293.1 128.7h0M266.8 127.1h0M272 127h0M268.1 128.3h0M278.1 130.8h0M289.4 131.3h0M265.8 126.9h0M277 130.4h0M294.8 126.7h0M282.1 128.2h0M271.4 126.5h0M265.3 126.8h0M288.4 131.2h0M286.7 128h0M280.4 126.7h0M278.9 129.3h0M298.3 126.6h0M304.4 127h0M287.6 131.7h0M282 127.6h0M297.2 129.1h0M283.6 131h0M286.6 128.8h0M306.3 126h0M294.3 130.3h0M288.4 129.6h0M287.9 130h0M275.3 127.5h0M281.4 128.3h0M296.5 129.9h0M270 128.1h0M264.7 126.8h0M299.2 128.8h0M284.4 129.1h0M285.7 131h0M276 127.3h0M270.3 127.8h0M294.1 129.5h0M267.3 128.1h0M305.9 126.3h0M272.1 126.8h0M268.3 128.3h0M296.1 126h0M305.8 126h0M287 128.2h0M295.6 129.1h0M293.2 127.7h0M265.3 126.1h0M288.3 130.2h0M295.9 129.1h0M283 127.7h0M280.4 128.5h0M301.7 126.4h0M281.3 128h0M286.7 126.8h0M264.9 126.3h0M300 125.9h0M270.8 129.4h0M300.1 128.2h0M274.3 128h0M291.1 127.1h0M279.3 129.5h0M303.1 126.9h0M265.4 126.5h0M283.6 131.6h0M276.2 129.4h0M298 127h0M303.6 126.1h0M302.8 126.6h0M271.2 127.9h0M284.9 126.2h0M300.1 126.8h0M299.6 128.8h0M280.8 128.8h0M285.1 131h0M278.2 127h0M294.6 126.9h0M282.1 130.4h0M282.8 126.2h0M276.6 129.5h0M294.4 128.3h0M271.1 127.8h0M299.5 126.7h0M283.2 131.3h0M297.8 127.6h0M272.9 130h0M268.5 128.3h0M284 129.9h0M296.9 127.6h0M294.4 128.4h0M286.1 126.9h0M303.1 127.6h0M295.3 129.7h0M291.2 128.1h0M270 127h0M276 127.1h0M300.9 127.3h0M265.5 126.3h0M300.4 127.9h0M295.5 127.3h0M279 130.4h0M277.8 129.7h0M293.8 128h0M295.2 126.1h0M299.2 126.7h0M285.5 127.8h0M278 128.8h0M268.5 127.9h0M286.7 130.7h0M302.7 127h0M289.8 129.5h0M290.5 126.1h0M286.8 129.9h0M306.3 125.9h0M288.3 130.8h0M264.9 126.8h0M289.3 128.9h0M290.5 128.2h0M289.6 128.9h0M262.8 125.9h0M300.9 126.9h0M273.3 128.8h0M279.2 130h0M265.7 126h0M299.2 128.4h0M293.1 130.4h0M270.2 127.5h0M296.4 130h0M302.3 127.6h0M271.5 126.3h0M272 128.8h0M304.9 126.7h0M272.2 128.7h0M282.7 129.1h0M273.9 128.1h0M273.2 128h0M289.5 126.7h0M265.6 126.8h0M287.6 126.4h0M266.1 126.5h0M282.7 129h0M264.4 126.4h0M275.2 128.5h0M274.9 126.5h0M296.7 126.2h0M275.8 128h0M289.6 131h0M269.4 127.6h0M284.6 131.2h0M281.2 131.4h0M268.4 126.6h0M292.1 126.6h0M295.8 127.1h0M288.4 131h0M293.8 130.1h0M293.2 126h0M300.1 126.1h0M277.5 128.4h0M285.1 128.1h0M306.1 126.2h0M279.6 128.7h0M287.9 130.4h0M284.8 126.3h0M273.6 130h0M285 128.2h0M304.1 126.1h0M284.8 127.4h0M273.1 126.2h0M306 126.1h0M298.6 128.7h0M267.3 126.6h0M306.4 126h0M294.2 129.2h0M303.8 127.2h0M273.5 126.8h0M303.5 126.1h0M295 129.5h0M277.9 128.2h0M289.8 128.5h0M295.1 129.4h0M276.5 130.9h0M264 126.1h0M283.3 130.7h0M266.2 126.7h0M305.8 125.9h0M295.1 126.7h0M276.9 130.5h0M281 125.9h0M278.3 126.3h0M291.8 127h0M274.4 128.9h0M270.5 127.6h0M267.6 126.1h0M274.1 129.2h0M264.8 126h0M272.3 129h0M295.9 128.1h0M274.9 126.6h0M263.7 126h0M293.8 127.2h0M272.7 128h0M289.3 131.1h0M303.8 126.5h0M267.3 127h0M304.1 126h0M288.8 130.3h0M290.5 129.2h0M286.5 127h0M294.7 128.4h0M304.1 126.2h0M274.8 126.3h0M264.9 126.9h0M294.4 128.5h0M294 130.6h0M265 126.5h0M273.7 127.8h0M283.9 128.9h0M303.5 127.2h0M294.3 127.6h0M290.3 130.1h0M298 126.2h0M300 127.1h0M304.6 126h0M283.3 128.1h0M306.3 126.1h0M302.3 127.3h0M295.3 128.1h0M269 128.5h0M298.1 126h0M300.6 126.8h0M275 126.9h0M306.4 125.9h0M298.6 128.8h0M292 126.9h0M301.3 126.2h0M285.4 131.1h0M269.9 125.9h0M278.4 130.6h0M288.9 126.4h0M264.9 127h0M270.7 127.4h0M279.9 131.1h0M282.8 127.5h0M270.3 127.7h0M265.6 126h0M285.2 128.3h0M290.9 127.3h0M271 126.8h0M286 129.9h0M290.5 129.5h0M275 127.9h0M274.9 125.9h0M287.2 129.2h0M278.2 131.1h0M277.9 126.9h0M271.7 128h0M289.9 129h0M284 129.4h0M290.6 128h0M284.1 126.7h0M278.8 127.2h0M277.4 130.5h0M282.8 131h0M303.6 126h0M268.5 126.4h0M266.3 127h0M274 130h0M267.7 126h0M266.9 126h0M273 127.5h0M264.5 126.1h0M263.8 126h0M267.3 126.7h0M280.5 126h0M268.8 128.2h0M297 126.3h0M263.6 126.2h0M265.2 126.6h0M267.9 126.1h0M296 126.2h0M290.5 130.8h0M266.4 127h0M263.1 126.1h0M288.3 127.7h0M286.9 128.3h0M278.3 129.2h0M289.8 128.2h0M276.6 127.4h0M269.4 126.6h0M270.4 126.2h0M283.6 129.6h0M286.4 126.2h0M306.3 126.1h0M298.2 127h0M290.8 130.8h0M278.1 130.2h0M289.8 130.7h0M272.9 126.2h0M276 130.7h0M301.1 127h0M268.2 126.7h0M299.7 129h0M292.1 129.8h0M271.2 129.3h0M296.6 128.7h0M284.7 131.1h0M290.8 126.3h0M290 129.7h0M297.1 127.4h0M287.5 130.4h0M278.3 130.7h0M295.7 128.1h0M297.5 127.4h0M267.6 127.8h0M273.1 126.1h0M267.9 127.6h0M281 128.3h0M264.9 126.4h0M271.8 125.9h0M277.8 130.3h0M282.5 129.9h0M295 127.5h0M288.6 127.6h0M292.3 128.1h0M266.6 127.7h0M302.4 127.5h0M304.7 126.6h0M266.2 126.6h0M276.8 129.3h0M293.3 126.9h0M267 125.9h0M304.6 126.9h0M278.4 128.2h0M272.7 126.5h0M278.8 129.4h0M277 129.4h0M274 129.5h0M306.3 126.1h0M273 128.5h0M282.3 128h0M267.5 126.5h0M288.5 127.8h0M270.5 128.7h0M298.7 128.1h0M292.9 126.4h0M288.8 130.1h0M300.4 128.6h0M275.4 126.6h0M302.5 127.7h0M267.2 127.8h0M292 130h0M283.5 128h0M301.2 127h0M269.1 126h0M302.4 127.3h0M270.6 127.8h0M283.2 129.9h0M275.6 128.1h0M304.9 126.2h0M287.5 126.3h0M302 127h0M298.2 128.5h0M298.2 126.5h0M286.7 128.5h0M288.5 125.9h0M297.3 128.7h0M294.7 126.4h0M279.8 126h0M282.5 128.7h0M291.2 130.6h0M285.3 129.4h0M305 126.4h0M286.8 128.8h0M263.4 126.2h0M304 127.1h0M281.3 128.5h0M265.1 125.9h0M294 126.4h0M284.3 126h0M275.8 129h0M274.3 127.5h0M294.8 126.5h0M273.8 126h0M281.9 130.8h0M284 131.2h0M285.7 131.7h0M297.9 126.4h0M263.7 126h0M298.9 126.5h0M285.3 126.9h0M306.2 125.9h0M273.5 129.8h0M298 128.7h0M288.9 129.1h0M284.6 126.6h0M267.7 126.6h0M299.8 127.4h0M299.8 127.5h0M264.2 126.6h0M265 127h0M294.3 130.4h0M305.4 126.5h0M287.3 129.3h0M282.8 131.7h0M285.2 127.5h0M281.4 129.3h0M284 131h0M266.6 126.2h0M280.5 126.3h0M302.9 127.3h0M267.1 126.3h0M282.9 131.5h0M291.5 130.2h0M291.1 126.4h0M297.6 126.4h0M263.2 125.9h0M285.1 127.5h0M289.1 126.2h0M263.4 126h0M301.1 127.3h0M300.3 125.9h0M306.1 125.9h0M305.4 126.4h0M285.9 128.1h0M279.7 128.4h0M270.9 128.8h0M304.6 126.9h0M293.1 127.2h0M293.3 126.8h0M275.3 126h0M292.3 126.3h0M300.7 126.3h0M278.4 129.1h0M283 128.4h0M284.2 130.8h0M276.6 130.3h0M303.5 127.4h0M271.4 127.1h0M304.4 127h0M288.3 127.9h0M276.9 128.7h0M269.7 126h0M284.3 126.6h0M278.5 129.2h0M287.9 128.2h0M273.7 128.7h0M269.2 125.9h0M295 130.3h0M298.6 126.7h0M278.2 127.6h0M292 127h0M297.9 126.6h0M282.3 130.8h0M287.4 129.7h0M264.4 126.6h0M271.7 127.3h0M305.8 126h0M298.2 129.2h0M299.3 129.1h0M274 127.7h0M279.1 130.1h0M298.2 129.3h0M268.3 128.3h0M266.5 127.4h0M295.4 127.1h0M293.1 128.3h0M270.5 129h0M296.9 126h0M303.9 126.6h0M296.9 128.2h0M264.7 126.8h0M267.7 126.2h0M303.5 126.1h0M289.5 128.2h0M296.2 128.7h0M305.2 126.6h0M305.1 126.1h0M294.9 127.5h0M296.4 128.4h0M277.1 128.8h0M285.9 127.3h0M274.5 129h0M271.7 125.9h0M297.3 126.8h0M303.9 126.5h0M284.7 129.4h0M280.8 130.3h0M269.2 127.1h0M304.7 126.7h0M289.7 127.3h0M267.4 128h0M289.2 126.4h0M277.5 130.2h0M289.3 130.8h0M277.9 130.8h0M265.7 126.4h0M265.9 126.8h0M276.6 128.6h0M282.1 126h0M285.3 127.9h0M304.4 126.2h0M286.2 130.1h0M296.5 126.6h0M286 127h0M265.7 126.5h0M298.3 129.5h0M286.1 131.1h0M291.5 128.5h0M271.1 128.7h0M289.1 128.6h0M277.4 128.7h0M278.6 130.4h0M292 127.5h0M297.1 126.2h0M302.6 126.7h0M299.8 128h0M305.9 126h0M290.6 130h0M305.3 126.6h0M291.1 129.4h0M277.6 130.8h0M303.8 126.8h0M266.3 126.8h0M284.9 129.9h0M296 129.6h0M273.9 129h0" stroke="#d9d9d9" stroke-width="2.8" stroke-linecap="round"/>
<path d="M274.7 127h0M270.8 127h0M267.9 127h0M305.6 127h0M304.4 127h0M304.9 127h0M267.4 126.6h0M273.5 126.5h0M303 126.4h0M303.8 126.3h0M274 126.1h0M274.9 126.1h0M316.4 126h0M306.1 125.9h0M273.1 125.9h0M314.6 125.8h0M269.4 125.8h0M305.9 125.8h0M273.4 125.8h0M306.9 125.7h0M264.6 125.7h0M272.3 125.6h0M270.7 125.6h0M308.2 125.5h0M307.1 125.5h0M269.3 125.5h0M307.3 125.4h0M273.7 125.2h0M269.9 125.1h0M269.3 125.1h0M267.9 125.1h0M300.5 125h0M259.3 125h0M261 125h0M304.3 124.9h0M266.5 124.7h0M313.3 124.6h0M269.6 124.6h0M270.7 124.5h0M310.4 124.5h0M273.9 124.5h0M306.4 124.4h0M268.1 124.4h0M311 124.3h0M305.8 124.3h0M257.8 124.3h0M262.5 124.2h0" stroke="#000004" stroke-width="2.9" stroke-linecap="round"/>
<path d="M301 124.1h0M263.4 124h0M263.3 123.9h0M273.5 123.9h0M258.5 123.9h0M304 123.9h0M264.4 123.8h0M312.4 123.8h0M260.7 123.7h0M310.9 123.7h0M269.4 123.7h0M265.4 123.7h0M266.5 123.7h0M303.3 123.7h0M273.7 123.6h0M303.5 123.6h0M273.5 123.6h0M270.2 123.5h0M303.2 123.5h0M273.6 123.5h0M269.5 123.5h0M273.5 123.4h0M310.2 123.4h0M267.3 123.3h0M307.3 123.3h0M272.5 123.3h0M268 123.3h0M268.6 123.2h0M304.4 123.2h0M258.5 123.2h0M271 123.2h0M312.8 123.1h0M259.7 123h0M255.9 123h0M273 123h0M270.4 123h0M301.4 122.9h0M255.2 122.9h0M260.1 122.8h0M272 122.7h0M315.7 122.7h0M269.9 122.7h0M269.4 122.7h0M271 122.7h0M259.5 122.6h0M258.2 122.6h0M278.2 122.6h0M305.9 122.6h0M263.5 122.6h0M312.9 122.6h0M247.4 122.6h0M268.9 122.5h0M302.5 122.5h0M262.4 122.5h0M260.8 122.5h0M257.8 122.5h0M312.5 122.4h0M264.6 122.4h0M255.5 122.4h0M268 122.4h0M258.9 122.4h0M264.6 122.3h0M312.6 122.3h0M259.8 122.3h0M266.3 122.2h0M258.9 122.2h0M261.8 122.2h0M262.6 122.1h0M256.2 122.1h0M264 122h0M266.7 122h0M267.4 121.9h0M306.4 121.9h0M259.9 121.9h0M262 121.9h0M264.5 121.9h0M271.6 121.8h0M255.1 121.8h0M273.5 121.8h0M307.4 121.8h0M313.9 121.8h0M306.7 121.8h0M261.1 121.7h0M260.9 121.7h0M269.3 121.6h0M311.9 121.6h0M270.4 121.6h0M308.2 121.6h0M253.9 121.6h0M316 121.4h0M271.9 121.4h0M266.3 121.4h0M256.8 121.3h0M253.4 121.3h0M269.7 121.3h0M253.5 121.3h0M258.3 121.3h0M258.7 121.2h0M305.6 121.2h0M313.2 121.2h0M261.8 121.2h0M270.2 121.1h0M251.4 121.1h0M257.7 121h0M270.1 121h0M309 121h0M271.9 121h0M252.7 121h0M311.3 120.9h0M257.6 120.9h0M254.2 120.9h0M308.6 120.9h0M269.9 120.8h0M263.2 120.8h0M260.6 120.8h0M261 120.8h0" stroke="#050410" stroke-width="2.9" stroke-linecap="round"/>
<path d="M252.6 120.7h0M254.1 120.7h0M251.6 120.7h0M266.8 120.6h0M318.7 120.6h0M271.7 120.6h0M270 120.6h0M253.1 120.6h0M262.4 120.5h0M259.3 120.5h0M306.8 120.5h0M251.2 120.4h0M258.4 120.4h0M253.5 120.4h0M255.3 120.4h0M252.9 120.3h0M306.3 120.3h0M256.6 120.3h0M259.7 120.3h0M267 120.2h0M254.1 120.2h0M315.8 120.1h0M265 120.1h0M313.3 120.1h0M263.2 120.1h0M261.6 120.1h0M260.1 120.1h0M266.5 120h0M306.8 120h0M270.7 120h0M316.8 120h0M264.3 120h0M266.1 119.9h0M259.9 119.9h0M264 119.9h0M256.7 119.9h0M307.2 119.8h0M251.3 119.8h0M308.5 119.8h0M259.9 119.8h0M263.5 119.7h0M256.1 119.7h0M322.4 119.7h0M265.4 119.7h0M260.8 119.6h0M316.8 119.5h0M262.5 119.5h0M277 119.5h0M305 119.5h0M251.3 119.5h0M315 119.5h0M317.9 119.4h0M253.7 119.3h0M262 119.3h0M266.9 119.3h0M252.1 119.2h0M261.4 119.1h0M255.1 119.1h0M267.7 119.1h0M249.6 119h0M255.3 119h0M307.4 118.9h0M266.8 118.9h0M251.7 118.8h0M264.5 118.8h0M254.6 118.8h0M260 118.7h0M319.4 118.6h0M255.5 118.5h0M307.4 118.5h0M317.7 118.5h0M262.2 118.4h0M252.1 118.4h0M255.8 118.3h0M310 118.3h0M257.5 118.3h0M274.1 118.3h0M318.5 118.2h0M251.3 118.1h0M256.1 118.1h0M249.3 118.1h0M250.7 118.1h0M311.5 118.1h0M250.1 118.1h0M254.3 118.1h0M317.2 118h0M253.6 118h0M312.2 117.9h0M318.2 117.9h0M262.2 117.8h0M311.4 117.7h0M257.2 117.6h0M249 117.5h0M309.7 117.5h0M315.6 117.5h0M274.5 117.5h0M258.3 117.5h0M311.5 117.5h0M257.7 117.4h0M314.2 117.4h0M255.3 117.4h0M251.5 117.4h0M252.9 117.4h0M256.8 117.3h0" stroke="#0a071d" stroke-width="2.9" stroke-linecap="round"/>
<path d="M315.8 117.3h0M259.4 117.3h0M249.3 117.2h0M250.7 117.1h0M255.1 117.1h0M259.5 117.1h0M315.4 117.1h0M307.5 117h0M309.3 116.9h0M247.5 116.9h0M319.4 116.8h0M319.9 116.7h0M311.4 116.7h0M251.9 116.7h0M252.3 116.7h0M249.3 116.7h0M256.4 116.7h0M259.6 116.6h0M251.7 116.6h0M249 116.5h0M318.4 116.5h0M320.6 116.4h0M308.1 116.4h0M319.4 116.3h0M251.8 116.2h0M316.2 116.2h0M320 116.2h0M314.8 116.1h0M321.5 116h0M315.8 116h0M251.9 115.9h0M321 115.9h0M320.2 115.9h0M250.7 115.8h0M250 115.8h0M317 115.7h0M319.3 115.7h0M320.9 115.6h0M317.4 115.6h0M249.8 115.5h0M319.5 115.5h0M250.8 115.5h0M250.5 115.4h0M251 115.3h0M320.2 115.1h0M249.5 115h0M316.5 115h0M270 115h0M316.7 114.6h0M315.5 114.5h0M319.3 114.4h0M318.7 114.2h0M317.1 114.2h0M253.7 114.1h0" stroke="#0f0a29" stroke-width="2.9" stroke-linecap="round"/>
<path d="M324.1 113.7h0M310 113.7h0M319.8 113.6h0M319.4 113.6h0M321.5 113.5h0M318.5 113.3h0M318.6 113.3h0M251.3 113.3h0M319.6 113.2h0M266 113h0M312.5 113h0M317.5 112.5h0M248 112.5h0M320.6 112.3h0M318 112h0M262.5 111.5h0M250.4 110.9h0M323.2 110.8h0M256 110.5h0M268 110.5h0M314 110.5h0" stroke="#140e36" stroke-width="2.9" stroke-linecap="round"/>
<path d="M253.6 110.2h0M245.5 110h0M249 109.6h0M311.5 109.5h0M316.5 108.5h0M251.7 108.3h0M258.9 108.3h0M324.4 108.1h0M320 107.8h0M246.4 107.6h0M254.3 107.6h0" stroke="#1e0e44" stroke-width="2.9" stroke-linecap="round"/>
<path d="M244 107h0M261.5 106.7h0M247.8 106.2h0M243.2 105.8h0M245.1 105h0M242.5 104.3h0M258.2 104.3h0" stroke="#280e53" stroke-width="2.9" stroke-linecap="round"/>
<path d="M241.4 103h0M251.4 103h0" stroke="#310f61" stroke-width="2.9" stroke-linecap="round"/>
<path d="M248.4 98.4h0M241.8 97.1h0" stroke="#3b0f70" stroke-width="2.9" stroke-linecap="round"/>
<path d="M247.1 96.5h0M244 93.9h0" stroke="#451274" stroke-width="2.9" stroke-linecap="round"/>
<path d="M239.2 92.8h0M243.5 91.9h0M247.1 91.9h0M250.6 91h0" stroke="#501478" stroke-width="2.9" stroke-linecap="round"/>
<path d="M333.6 87.5h0M241.4 87.3h0M249.4 87.3h0" stroke="#5a177c" stroke-width="2.9" stroke-linecap="round"/>
<path d="M242.2 85.3h0" stroke="#641a80" stroke-width="2.9" stroke-linecap="round"/>
<path d="M240.9 80.1h0" stroke="#6e1e80" stroke-width="2.9" stroke-linecap="round"/>
<path d="M255 76.8h0" stroke="#782180" stroke-width="2.9" stroke-linecap="round"/>
<path d="M249.7 75.8h0" stroke="#822581" stroke-width="2.9" stroke-linecap="round"/>
<path d="M246.2 71.3h0" stroke="#8c2981" stroke-width="2.9" stroke-linecap="round"/>
<path d="M339.4 53.3h0" stroke="#c13c75" stroke-width="2.9" stroke-linecap="round"/>
<path d="M227.4 51h0" stroke="#cb4070" stroke-width="2.9" stroke-linecap="round"/>
<path d="M233.4 27.9h0" stroke="#f97c60" stroke-width="2.9" stroke-linecap="round"/>
<line x1="240.8" y1="25.7" x2="235.6" y2="27.6" stroke="#666" stroke-width="0.6"/>
<line x1="238.19" y1="27.86" x2="235.6" y2="27.6" stroke="#666" stroke-width="0.6"/>
<line x1="237.41" y1="25.73" x2="235.6" y2="27.6" stroke="#666" stroke-width="0.6"/>
<rect x="241" y="18.23" width="19.16" height="7.12" fill="#ffffff" stroke="none" stroke-width="1" rx="1.5" fill-opacity="0.92"/>
<text x="242" y="23.9" font-size="6.3" stroke="#222" stroke-width="0.12" fill="#222">IGLL1</text>
<line x1="259.2" y1="73.5" x2="256" y2="75.5" stroke="#666" stroke-width="0.6"/>
<line x1="258.58" y1="75.22" x2="256" y2="75.5" stroke="#666" stroke-width="0.6"/>
<line x1="257.39" y1="73.3" x2="256" y2="75.5" stroke="#666" stroke-width="0.6"/>
<rect x="259" y="66.13" width="21.95" height="7.12" fill="#ffffff" stroke="none" stroke-width="1" rx="1.5" fill-opacity="0.92"/>
<text x="260" y="71.8" font-size="6.3" stroke="#222" stroke-width="0.12" fill="#222">FCRL1</text>
<line x1="329.5" y1="50.8" x2="336.8" y2="52.5" stroke="#666" stroke-width="0.6"/>
<line x1="334.78" y1="50.87" x2="336.8" y2="52.5" stroke="#666" stroke-width="0.6"/>
<line x1="334.26" y1="53.07" x2="336.8" y2="52.5" stroke="#666" stroke-width="0.6"/>
<rect x="307.6" y="43.53" width="22.3" height="7.12" fill="#ffffff" stroke="none" stroke-width="1" rx="1.5" fill-opacity="0.92"/>
<text x="308.6" y="49.2" font-size="6.3" stroke="#222" stroke-width="0.12" fill="#222">MMP-3</text>
<line x1="299.7" y1="107.6" x2="310.8" y2="109.9" stroke="#666" stroke-width="0.6"/>
<line x1="308.74" y1="108.32" x2="310.8" y2="109.9" stroke="#666" stroke-width="0.6"/>
<line x1="308.28" y1="110.53" x2="310.8" y2="109.9" stroke="#666" stroke-width="0.6"/>
<rect x="276.7" y="99.73" width="26.86" height="7.12" fill="#ffffff" stroke="none" stroke-width="1" rx="1.5" fill-opacity="0.92"/>
<text x="277.7" y="105.4" font-size="6.3" stroke="#222" stroke-width="0.12" fill="#222">ANTXR2</text>
<line x1="323.5" y1="106.5" x2="317" y2="108.1" stroke="#666" stroke-width="0.6"/>
<line x1="319.54" y1="108.64" x2="317" y2="108.1" stroke="#666" stroke-width="0.6"/>
<line x1="319" y1="106.44" x2="317" y2="108.1" stroke="#666" stroke-width="0.6"/>
<rect x="323.9" y="99.33" width="20.9" height="7.12" fill="#ffffff" stroke="none" stroke-width="1" rx="1.5" fill-opacity="0.92"/>
<text x="324.9" y="105" font-size="6.3" stroke="#222" stroke-width="0.12" fill="#222">RGMA</text>
<line x1="327" y1="113" x2="321.8" y2="115" stroke="#666" stroke-width="0.6"/>
<line x1="324.39" y1="115.22" x2="321.8" y2="115" stroke="#666" stroke-width="0.6"/>
<line x1="323.58" y1="113.1" x2="321.8" y2="115" stroke="#666" stroke-width="0.6"/>
<rect x="327.4" y="106.13" width="18.1" height="7.12" fill="#ffffff" stroke="none" stroke-width="1" rx="1.5" fill-opacity="0.92"/>
<text x="328.4" y="111.8" font-size="6.3" stroke="#222" stroke-width="0.12" fill="#222">IGF-1</text>
<line x1="297" y1="118" x2="307" y2="113.9" stroke="#666" stroke-width="0.6"/>
<line x1="304.4" y1="113.74" x2="307" y2="113.9" stroke="#666" stroke-width="0.6"/>
<line x1="305.26" y1="115.83" x2="307" y2="113.9" stroke="#666" stroke-width="0.6"/>
<rect x="280.3" y="114.83" width="17.99" height="7.12" fill="#ffffff" stroke="none" stroke-width="1" rx="1.5" fill-opacity="0.92"/>
<text x="281.3" y="120.5" font-size="6.3" stroke="#222" stroke-width="0.12" fill="#222">ART3</text>
<rect x="252.3" y="110.13" width="18.1" height="7.12" fill="#ffffff" stroke="none" stroke-width="1" rx="1.5" fill-opacity="0.92"/>
<text x="253.3" y="115.8" font-size="6.3" stroke="#222" stroke-width="0.12" fill="#222">IGF-1</text>
<rect x="269.3" y="124.43" width="17.99" height="7.12" fill="#ffffff" stroke="none" stroke-width="1" rx="1.5" fill-opacity="0.92"/>
<text x="270.3" y="130.1" font-size="6.3" stroke="#222" stroke-width="0.12" fill="#222">ART3</text>
<rect x="286.8" y="124.43" width="17.76" height="7.12" fill="#ffffff" stroke="none" stroke-width="1" rx="1.5" fill-opacity="0.92"/>
<text x="287.8" y="130.1" font-size="6.3" stroke="#222" stroke-width="0.12" fill="#222">DLK1</text>
<rect x="309.8" y="127.73" width="23.35" height="7.12" fill="#ffffff" stroke="none" stroke-width="1" rx="1.5" fill-opacity="0.92"/>
<text x="310.8" y="133.4" font-size="6.3" stroke="#222" stroke-width="0.12" fill="#222">EHMT2</text>
<circle cx="413.5" cy="70.4" r="46" fill="#e8c9b7" stroke="none" stroke-width="1"/>
<circle cx="449.6" cy="70.4" r="31.6" fill="#b8c7e1" stroke="none" stroke-width="1"/>
<clipPath id="cl1"><circle cx="413.5" cy="70.4" r="46"/></clipPath>
<circle cx="449.6" cy="70.4" r="31.6" fill="#a3d89d" clip-path="url(#cl1)"/>
<clipPath id="cl2"><circle cx="449.6" cy="70.4" r="31.6"/></clipPath>
<circle cx="449.6" cy="70.4" r="31.6" fill="none" stroke="#6cb35e" stroke-width="0.9" clip-path="url(#cl1)"/>
<circle cx="413.5" cy="70.4" r="46" fill="none" stroke="#6cb35e" stroke-width="0.9" clip-path="url(#cl2)"/>
<text x="392.7" y="73.2" font-size="8.2" stroke="#1a1a1a" stroke-width="0.1" text-anchor="middle">602</text>
<text x="438.2" y="73.2" font-size="8.2" stroke="#1a1a1a" stroke-width="0.1" text-anchor="middle">244</text>
<text x="470.4" y="73.2" font-size="8.2" stroke="#1a1a1a" stroke-width="0.1" text-anchor="middle">152</text>
<text x="400.2" y="126.8" font-size="9.4" stroke="#1a1a1a" stroke-width="0.08" text-anchor="middle">LUMC</text>
<text x="455.6" y="112.8" font-size="9.2" stroke="#1a1a1a" stroke-width="0.08" text-anchor="middle">UF</text>
<line x1="598.2" y1="3.5" x2="598.2" y2="152" stroke="#9a9a9a" stroke-width="0.8" stroke-dasharray="1 1.1"/>
<line x1="519.7" y1="74.2" x2="668.6" y2="74.2" stroke="#9a9a9a" stroke-width="0.8" stroke-dasharray="1 1.1"/>
<text x="517.4" y="7.8" font-size="8" stroke="#4d4d4d" stroke-width="0.1" text-anchor="end" fill="#4d4d4d">2</text>
<text x="667.4" y="160.8" font-size="8" stroke="#4d4d4d" stroke-width="0.1" text-anchor="middle" fill="#4d4d4d">2</text>
<text x="517.4" y="42.4" font-size="8" stroke="#4d4d4d" stroke-width="0.1" text-anchor="end" fill="#4d4d4d">1</text>
<text x="632.8" y="160.8" font-size="8" stroke="#4d4d4d" stroke-width="0.1" text-anchor="middle" fill="#4d4d4d">1</text>
<text x="517.4" y="77" font-size="8" stroke="#4d4d4d" stroke-width="0.1" text-anchor="end" fill="#4d4d4d">0</text>
<text x="598.2" y="160.8" font-size="8" stroke="#4d4d4d" stroke-width="0.1" text-anchor="middle" fill="#4d4d4d">0</text>
<text x="517.4" y="111.6" font-size="8" stroke="#4d4d4d" stroke-width="0.1" text-anchor="end" fill="#4d4d4d">-1</text>
<text x="563.6" y="160.8" font-size="8" stroke="#4d4d4d" stroke-width="0.1" text-anchor="middle" fill="#4d4d4d">-1</text>
<text x="517.4" y="146.2" font-size="8" stroke="#4d4d4d" stroke-width="0.1" text-anchor="end" fill="#4d4d4d">-2</text>
<text x="529" y="160.8" font-size="8" stroke="#4d4d4d" stroke-width="0.1" text-anchor="middle" fill="#4d4d4d">-2</text>
<text x="593.2" y="169.2" font-size="7.75" stroke="#111" stroke-width="0.1" text-anchor="middle" fill="#111">CS estimate per protein LUMC cohort</text>
<text x="507.6" y="77.6" font-size="7.7" stroke="#111" stroke-width="0.1" text-anchor="middle" fill="#111" transform="rotate(-90 507.6 77.6)">CS estimate per protein UF cohort</text>
<path d="M610.9 56.6h0M579.1 88.7h0M599.7 75.1h0M592.9 60.1h0M593.7 72.9h0M595.3 78.2h0M582.8 80.6h0M595.2 79.2h0M590.8 74.9h0M619.8 54h0M598.4 70h0M594.4 78.4h0M594.9 83.4h0M592.2 75.7h0M589.5 71.6h0M594.1 88.8h0M600.2 79.5h0M595.2 89.7h0M603.4 61.9h0M595.4 80.3h0M597 67.4h0M607.5 75.7h0M600.6 64.9h0M593.3 85.8h0M595.6 82.7h0M600.6 67.9h0M610.2 69.1h0M595 84.6h0M595.1 68.9h0M603.8 71.3h0M590.7 69.2h0M594.8 52.2h0M602.9 77.2h0M600.8 76.7h0M597.4 92h0M601.5 84.9h0M577.2 87.6h0M603.9 67.4h0M590.2 79.6h0M585.3 82h0M598.7 83.8h0M601.7 89.9h0M593.7 68.1h0M589.4 80.6h0M597 64.7h0M596.5 77.3h0M606.5 60.3h0M602 77.6h0M598.2 75.5h0M604.5 71.6h0M595.4 74h0M590.4 67.7h0M600.9 66.4h0M600.8 103.1h0M595.3 79h0M591.4 81.3h0M598.4 66.9h0M579.6 90.2h0M601.6 79.7h0M600.2 81.8h0M585.5 90h0M597.2 83.6h0M590.1 67.7h0M602.1 65.7h0M582.7 88.3h0M590.5 72.1h0M601.7 49.9h0M604.8 71.7h0M581.9 89.9h0M593.4 82.7h0M599.1 87.3h0M592.6 86.8h0M607.8 76.6h0M588.6 78.8h0M599.3 69.7h0M589.6 73.8h0M606.5 76h0M596.7 66.4h0M594.2 88.9h0M584.9 88.8h0M608.5 52.9h0M602 59.1h0M602 60.6h0M604.7 47.7h0M599.2 63.5h0M592.4 82.9h0M591.3 83.5h0M591.3 89.3h0M606.3 65.6h0M586.7 93h0M592.7 86.4h0M594.6 88.5h0M598.4 92.5h0M600.8 47.1h0M588.2 74.7h0M584.8 108.3h0M596.8 71.7h0M605.2 74.8h0M602.1 93.9h0M598.3 77.2h0M594.6 76h0M598.8 68.5h0M595.1 66.3h0M602.5 80.2h0M591.3 81.6h0M597.7 68.6h0M596 71.3h0M600.6 69h0M598.4 73.9h0M614.5 48h0M607.2 80.3h0M607.2 82.7h0M582.7 70.6h0M594.5 73.9h0M592.6 68.4h0M600.5 70.6h0M581 93.8h0M604.9 73.8h0M604.2 68.2h0M587.8 88.9h0M590 82.7h0M591.3 81.8h0M597.1 67.3h0M601.3 63.9h0M611 47h0M595.4 84.5h0M602.1 71.7h0M597.9 65h0M609 61.6h0M602 96.7h0M606.3 63.8h0M589.4 82.4h0M595.5 81.9h0M591.2 85h0M607.2 74.1h0M601.4 59.7h0M594.7 70.4h0M593.7 76.2h0M600.2 61.1h0M592 70.2h0M590.4 89.7h0M600.1 83.5h0M613.9 71h0M595.1 69.2h0M593 79h0M588.7 70h0M587.6 78h0M600.4 74.2h0M602.7 83.2h0M596.9 78h0M599.1 50.2h0M597.6 81.7h0M597.8 82.9h0M586.3 86.7h0M593.6 64h0M597.6 75h0M591.4 91.4h0M593.5 84.4h0M591.1 81.6h0M594.5 76.4h0M602.7 59.5h0M594 51.9h0M595.8 62.1h0M602.4 63.7h0M601.3 71.5h0M608.5 73.2h0M582.3 81.9h0M602.7 56.8h0M593.5 69.6h0M597.7 75.7h0M602.6 63.2h0M604.3 70.9h0M604 70.6h0M597.9 76.7h0M608 64.7h0M594.9 77.8h0M595.8 65.7h0M602.3 70.4h0M593 79.6h0M611.8 51.5h0M603.9 62.1h0M611.9 50.6h0M596.6 83.4h0M594.2 64.2h0M598 74.5h0M601.9 81.8h0M592.8 80.6h0M599.4 85.9h0M596.7 85.8h0M608 70h0M592.2 69.8h0M604.1 83h0M592.4 76.6h0M590.2 84.2h0M591.9 64h0M588.6 80.9h0M597.8 68.6h0M604 55.1h0M598 85.9h0M601.1 75.5h0M608.1 81.1h0M598.7 82.7h0M598.2 71.3h0M594.9 79.2h0M585.7 81.5h0M602.1 75.4h0M584.7 93.6h0M601.3 73.4h0M596.7 85.1h0M604.6 80.6h0M596.3 92.7h0M591.1 82.4h0M599.3 69.6h0M592.9 92.2h0M595.6 82.2h0M597.1 99.6h0M595.9 89.5h0M595.5 77.1h0M591.1 95h0M595.5 73.4h0M582 93.8h0M595.7 74h0M588.5 89.7h0M604.6 84.5h0M605.6 69.4h0M583.3 81.4h0M597.8 81.3h0M595.9 73.7h0M589.6 90.4h0M600.5 77.2h0M593.6 67h0M584.6 87.8h0M595 88.1h0M595.8 72.2h0M597.6 75.8h0M588.3 89.8h0M601.1 66.2h0M601.9 101.9h0M588.9 78h0M592.3 61.6h0M596.3 74.4h0M592.9 99.5h0M608.9 52.5h0M598.3 50h0M589.8 77.1h0M591.4 92.4h0M596.4 84h0M612.7 64.2h0M595.6 75.9h0M597.7 64h0M600.4 67.9h0M596.5 99.8h0M612.6 66h0M593.1 81.4h0M602 53.3h0M597.9 81.6h0M601.1 87h0M588.7 86.9h0M609.1 63.2h0M596 96.1h0M597.1 65.4h0M590.3 83.7h0M591.8 72.7h0M600.7 66.3h0M603.6 65.3h0M602 57.9h0M605.2 52.4h0M601.8 76.4h0M597 77.2h0M602.6 61h0M600.9 71.4h0M596.1 83.3h0M601.8 71.2h0M605.7 77.5h0M598.4 80.3h0M594.4 113.7h0M601.8 70.8h0M610 46.3h0M595.4 70.4h0M596.2 70h0M595.9 75.5h0M605.3 76.8h0M584.1 82.5h0M599.3 73.6h0M605.1 70.6h0M591.2 78.9h0M607.1 73.2h0M600.5 71.8h0M593 73.1h0M598.2 65h0M586.2 84.2h0M592.9 71.5h0M609.5 63.5h0M590.6 104.9h0M609.6 84.9h0M596.3 78.9h0M603.7 81.7h0M597.1 70.3h0M581.3 103.4h0M592.9 84h0M598.1 80.8h0M588.9 90.9h0M587.5 90.5h0M599.4 74.4h0M592.3 79.4h0M585.1 92h0M592.1 78.8h0M602.8 65.7h0M593.5 81.2h0M603.3 77.7h0M607.4 74h0M597 81h0M589 88.6h0M587.8 83.4h0M596.6 49h0M602.9 59.5h0M598.7 74.3h0M600.6 66.9h0M593.7 72.9h0M598.9 61.5h0M593.6 64.5h0M594.6 88h0M587.9 61.1h0M585.9 94.4h0M593.5 78.1h0M589.2 91.3h0M590.2 99.2h0M601.5 90.2h0M596.1 56.5h0M617 43.2h0M603.2 80.4h0M592.4 91.2h0M602.2 56h0M599.3 83.6h0M592.1 75.4h0M604.4 48.4h0M591.5 72.8h0M575.7 79.2h0M602.3 68.8h0M592.5 97h0M607.1 75.3h0M592.3 98.2h0M588.6 79.8h0M607.5 80h0M589.4 81.2h0M598.2 79.9h0M606.8 74.4h0M597.6 70.1h0M596.3 81.4h0M597.5 84h0M602.6 60.8h0M591.2 81.4h0M601 87.6h0M600.8 60.4h0M613 76.6h0M594.5 75.8h0M590.5 76.3h0M601.9 74.4h0M594.1 87.1h0M598.8 77.8h0M597.7 79h0M604.9 80.5h0M592.3 71.4h0M596.2 83h0M579.2 99.2h0M590.7 67.5h0M607.4 74.6h0M592.1 96.2h0M592 81.2h0M588.4 83.6h0M600.8 72.5h0M598 53.7h0M588.6 89.2h0M601.4 58.4h0M598.6 65.6h0M602 56.7h0M592.4 81.1h0M608.8 68.9h0M599.7 75.8h0M596 73.6h0M593.2 69.3h0M595.1 60.5h0M602.8 89.1h0M595 66.6h0M604.3 65.6h0M600.8 72h0M606.1 78.5h0M602.4 67.5h0M596.4 95.1h0M583.6 74.7h0M598.9 83.8h0M602.3 72.4h0M597.9 76.7h0M600.7 66.6h0M593.6 92.6h0M594.2 69.7h0M590.3 77.4h0M606.2 51.7h0M597.9 71.9h0M593.4 80.3h0M587.6 103.6h0M595.8 80.7h0M606.8 50.2h0M600 77.9h0M591.8 85.5h0M606.7 68.8h0M606.7 58.5h0M603.6 88.3h0M602.3 52.5h0M604.8 62.9h0M600.6 65.2h0M602.2 71.4h0M591.4 60.3h0M607.2 71.4h0M598.4 66.1h0M610.8 62.6h0M582.7 101.4h0M601.7 73.1h0M603.6 62.6h0M594.4 80.9h0M599.9 77.4h0M602 71.6h0M600.8 81.4h0M593.1 90.7h0M595.8 76.1h0M603.9 79.5h0M605.7 62.3h0M597.5 68h0M597.3 62.1h0M598.2 64.6h0M604 72.5h0M589.5 78h0M587.6 95.9h0M597.7 70.7h0M589.2 87.8h0M592.8 65.5h0M597.4 82.6h0M600.2 71.2h0M589.4 90.4h0M602.4 64.6h0M584.5 80.1h0M600.6 83h0M585.9 65.2h0M588 78.5h0M601.3 86.8h0M594 87.8h0M591.3 99.7h0M593.7 99.4h0M600 74.7h0M596.4 97.9h0M596.6 72.2h0M604.1 86.5h0M591.9 84.3h0M593.6 61.2h0M593.2 82.9h0M604.9 69.3h0M603.7 57.2h0M605.7 71.5h0M596.6 70.7h0M595.7 85.4h0M602.7 74.8h0M594.1 77.1h0M602.6 70.9h0M601.8 79.6h0M592 78h0M596.2 70.4h0M596 70.2h0M608.8 65.2h0M614.7 70.2h0M596.1 69.6h0M596.9 67.2h0M581 100.2h0M598.3 98.7h0M596.8 78.2h0M589.4 72.2h0M602.3 62.4h0M586 97.9h0M595.3 63.8h0M597.8 84.7h0M588.2 74.3h0M602.7 75.5h0M604.1 59.9h0M587.2 79.5h0M587.1 87.2h0M601 65.4h0M596.6 83.4h0M588.4 87.7h0M594.8 81.5h0M596.1 85.9h0M595.8 67.7h0M602.5 61.8h0M599.5 74.1h0M609.1 75.8h0M606.3 63.4h0M601.5 69.5h0M604.3 63.4h0M606 68.6h0M601.7 74.6h0M588.3 69.5h0M602.8 77.7h0M597.3 78.1h0M608 85.3h0M597.5 79.9h0M600.5 78.4h0M599.1 78.2h0M608.5 60.4h0M598 81.9h0M595 74h0M599 78.8h0M593.8 84h0M597.9 95h0M596.8 72.6h0M598.7 68.7h0M610.1 75.4h0M594 85.5h0M597.1 95.5h0M595.4 82h0M601.5 84.4h0M588.6 80.4h0M592 82.7h0M596.5 71.3h0M600.6 82.6h0M596.5 95.2h0M593.4 81.2h0M590.8 88.7h0M600.4 55.4h0M606.8 66.2h0M599.1 60.6h0M598.1 70.8h0M599.9 78h0M590.3 98.9h0M594.7 81.7h0M595 72.6h0M598.9 74.7h0M596.6 74.1h0M588.4 81.6h0M604.6 84.3h0M608.5 63.9h0M595 87.2h0M599.6 75.4h0M598.7 61.6h0M602.2 93h0M586.6 89h0M608 64h0M593.6 69h0M605.6 68.9h0M597.4 85.4h0M594.1 71.6h0M595.8 72.2h0M603 90.1h0M590.8 81.8h0M594.2 97.2h0M593.5 107.4h0M584.9 97.9h0M605.8 79h0M600.8 95.7h0M596.7 57.9h0M604.9 83.6h0M590.2 79h0M596.3 70h0M608.8 43.9h0M603.6 74.5h0M581.4 73.6h0M573.8 108.7h0M589.6 83.4h0M604.2 74.4h0M593.5 89.9h0M595.3 74.4h0M601 53h0M590.7 59.9h0M598.3 68.2h0M602.3 83.5h0M600 82.1h0M599.6 67.8h0M592.6 74.1h0M600.4 67.5h0M593.9 81.9h0M605.8 78h0M614.6 56.2h0M591.7 81.2h0M581.8 74.9h0M593.9 86.3h0M599.4 65.3h0M604.1 55.9h0M604.3 49.2h0M591.4 60.7h0M591.3 91.9h0M605.6 81h0M589.3 81.4h0M604.4 78.8h0M595.2 102.6h0M602.1 56.3h0M601.7 66.8h0M602.2 60.8h0M602.5 69.4h0M590 70h0M598.9 71.7h0M596.9 74.7h0M599 54.3h0M605.4 80.9h0M594.9 72.2h0M591.9 97.1h0M591.8 65h0M594.7 80.5h0M602 84.3h0M591.2 100.2h0M604.8 71.6h0M598.8 53.9h0M595.3 72.5h0M587.6 100.7h0M598.5 96.2h0M601.6 42.4h0M584.6 93.1h0M605.1 84.6h0M608.2 64.9h0M599.2 68.2h0M600.2 56.8h0M613.5 63.9h0M605.3 76.5h0M590.6 74.7h0M596.7 85h0M595.7 73.6h0M595.8 75.5h0M580.5 80.4h0M602.1 79.3h0M592.4 87.5h0M597.9 72.4h0M595.9 72.4h0M602.8 86.7h0M594.8 86.8h0M591.3 79.5h0M600.5 77.2h0M606.5 43.9h0M594.6 70.9h0M606.3 55h0M598.6 75.7h0M593.1 78.8h0M607.4 66h0M591.2 70.2h0M603.8 73.8h0M593.4 62.9h0M599.9 81.5h0M588.3 73.4h0M591 78.7h0M604.2 73.9h0M598.1 58.6h0M597.1 65.9h0M593.8 81h0M599.9 81.9h0M587.1 76.1h0M589.1 91.7h0M595.7 71.6h0M591 91h0M592 79.6h0M596.3 86h0M595.9 79.3h0M595.3 60.3h0M608.3 48h0M603.8 75.3h0M605.3 71.9h0M596.6 94.3h0M593.3 76.4h0M586.8 73.3h0M594.4 87.5h0M582.4 98.7h0M592.8 76.2h0M602.1 77.8h0M608 64.6h0M603.5 54.2h0M590.9 76.7h0M600.2 66.3h0M591.4 61.3h0M602.5 68.8h0M596 69.7h0M602.8 70.5h0M614.6 68.7h0M603.2 53.8h0M613 76.9h0M598 74.4h0M594.5 90.6h0M606 77h0M608.7 79.5h0M593 82.4h0M597.3 71h0M586.9 71.3h0M595.4 97.4h0M603 68.6h0M596.2 81.1h0M592.9 86.3h0M587.1 86.1h0M599.4 72h0M602.3 72.6h0M600.9 72.7h0M598.6 51.7h0M588 82.9h0M609 62h0M596.4 88.7h0M595.8 65.7h0M601.9 77.3h0M581.8 90.4h0M596.4 84.8h0M595.9 78.1h0M599.4 83.8h0M606.1 81.7h0M600.1 88.1h0M584.1 91.4h0M594.5 78.2h0M598.2 67.5h0M597.8 58h0M587.9 64.5h0M585.3 93h0M600.6 80.4h0M599.2 66.2h0M596.7 85.6h0M584.9 74.8h0M609.1 54.5h0M576.7 103.7h0M594.3 70.4h0M611.3 48.3h0M595.7 72.2h0M598.4 77.6h0M588.7 84.8h0M606.2 62.7h0M587.9 91.5h0M598.6 70.8h0M597.7 77.5h0M589.5 90h0M603 80.7h0M587 78.6h0M592.1 89.4h0M596.6 73.7h0M594 97.6h0M600.1 75.1h0M603.2 69.1h0M594.8 73.9h0M593.1 69.3h0M593.2 73.5h0M594.3 72.2h0M602.4 73.7h0M595.3 87.9h0M599.6 85.5h0M596.2 84.3h0M591 78.4h0M602.8 60h0M589.6 78.4h0M596.9 73.6h0M607.1 58.9h0M589.3 85.8h0M596.4 74.3h0M585.8 86.5h0M593.3 76.7h0M586.5 87.1h0M594.3 91.4h0M593.1 83h0M597.7 83.5h0M607.8 48.2h0M598.8 59.2h0M601.4 78.3h0M596.5 85.1h0M595.1 77.1h0M591 96.5h0M584.4 73.8h0M597.3 76.1h0M608.1 71h0M600.1 62.2h0M593.1 65.9h0M608.2 64.4h0M593.8 68.2h0M592.5 97.1h0M588.4 91.3h0M590.2 90.6h0M595.1 94.4h0M610.6 55h0M595.4 52.4h0M589.7 96.1h0M592.6 85.7h0M595.3 66.4h0M585 89.6h0M597.7 75.5h0M601.7 80.3h0M599 70.8h0M601 82.7h0M587.9 76.2h0M585.1 81.1h0M605.7 64.6h0M604.4 77.6h0M586.2 87.8h0M598.2 70.1h0M597 85.4h0M600.6 83.1h0M598.3 98.6h0M593.3 84.9h0M598.2 76.7h0M597.9 65.5h0M596.5 89.1h0M584 102.6h0M576.1 82h0M591.3 69.8h0M585.5 98h0M598.6 80h0M601.8 90.9h0M598.6 75.5h0M594.3 65.2h0M597.3 67.7h0M604.9 80.2h0M591.8 77.9h0M603.2 78.2h0M601.7 68.8h0M598.6 80.4h0M606.9 61h0M591.8 67.6h0M603.3 67.3h0M590.4 78.2h0M591.5 76.9h0M589.5 73.6h0M599.9 77.9h0M590.3 83.7h0M597.2 77.5h0M588.9 69.5h0M604.2 68.1h0M609.5 59.2h0M598.4 78.7h0M608.2 80.3h0M600.7 76h0M611.8 58.1h0M597.5 78.8h0M585.9 91.6h0M607.1 71h0M595.9 71.6h0M589.6 78h0M592.3 80.2h0M585.6 95.8h0M595.7 84.2h0M589.4 45.3h0M607.1 69h0M601.4 65.8h0M585.3 83.1h0M586.4 99.6h0M592.9 65.9h0M583.5 87h0M596.1 86.1h0M596.5 68.6h0M591.5 86.7h0M593 76.2h0M600.3 86.9h0M606.7 69.5h0M607.2 60.3h0M597.1 81.1h0M602.7 85.6h0M591.7 89.2h0M599.7 66.8h0M590.2 98.5h0M601.9 86.2h0M588.2 75.8h0M590.1 81h0M596.8 76.9h0M600.7 77.6h0M586.9 81h0M593.1 71h0M597.8 70.9h0M598.4 93.1h0M591 74.9h0M597.5 92.9h0M595 60.2h0M606.5 72.5h0M600.7 66.7h0M587.7 81h0M581.6 96.3h0M597.5 63.4h0M605 66.8h0M598 53.3h0M602.9 64h0M593.5 75.6h0M587.4 58.4h0M602 57.1h0M597.5 75.2h0M601.5 80.1h0M587.3 64.4h0M598.1 62.1h0M592.5 67h0M602.4 74.3h0M592.8 85.6h0M592.6 88.7h0M592.8 67.5h0M605.6 69.8h0M597 68.8h0M591.6 102.9h0M589.7 71.3h0M589.6 89.6h0M606.9 95.3h0M584.3 100.2h0M590.9 76.9h0M601.2 56.4h0M605 97.6h0M595.8 91.3h0M602.3 70.1h0M602.1 87.8h0M603.6 74.8h0M597.1 86.8h0M608.3 65.4h0M598.3 90.6h0M607.5 70.7h0M589.3 91.9h0M603.5 69.4h0M588.3 84.8h0M586.6 75h0M600.5 70.9h0M591.3 63h0M600.1 90.4h0M589.6 85.5h0M608.2 58.5h0M597.1 75.1h0M589.2 110.7h0M598.3 71.8h0M603.2 76h0M591.8 55.1h0M600.7 74.1h0M611.3 56.6h0M603.2 80.8h0M597.1 68.9h0M593.2 108.7h0M601.2 83.3h0M586.7 89.2h0M576.1 111.3h0M592.6 69.8h0M589.7 82.4h0M609.3 48.1h0M598.2 90h0M590.4 90.7h0M589.2 76.1h0M600.7 78.3h0M591.5 72.2h0M593.2 72.7h0M596.6 84.4h0M597.9 74.1h0M597.9 69.6h0M598.1 72.6h0M606.3 70.1h0M609.1 70.6h0M585.8 88.2h0M615.1 49.8h0M598.2 53.2h0M605.9 83.2h0M592.2 90.9h0M599.6 75.5h0M598.8 59.1h0M598.1 84.1h0M603.2 46h0M601.7 47.8h0M590.4 106.9h0M596.5 69.2h0M602.4 64.8h0M602.1 75.9h0M595 97.2h0M595.4 74.4h0M596.3 80.6h0M589.7 69.7h0M588.4 77.2h0M608.2 75.9h0M594.6 57.1h0M598 55.4h0M592.2 64.1h0M606.3 66.8h0M609.5 54.8h0M595.8 75.4h0M600.9 77.8h0M592.1 99.5h0M609.6 61.5h0M603.7 90.5h0M591.5 72.7h0M606 82h0M599.8 70.7h0M600.2 75.6h0M599.8 85.1h0M592.7 90.1h0M593.6 84.5h0M601.6 55.5h0M597 71.4h0M590.8 83.8h0M611.4 54.2h0M595.9 88.9h0M593.4 94.8h0M592.5 89h0M602.1 60.2h0M604 72.6h0M599 72.8h0M603.3 69h0M586.9 89.1h0M594.7 64.6h0M594 70.9h0M597.3 84.7h0M600.7 83.7h0M583.2 88.5h0M618.9 66.6h0M591.3 81.1h0M599.6 65.9h0M603 70.2h0M603.1 68.7h0M598.9 79.7h0M577.1 102.1h0M589.7 93.4h0M602.5 57.5h0M590.8 89.7h0M589.9 81.5h0M580.9 89.1h0M605.6 63.9h0M600.7 76.5h0M590.9 98.6h0M596.2 54.6h0M596.4 88.1h0M589.3 76.4h0M595.2 89.3h0M598.8 67.5h0M600.9 84.2h0M605.8 50.3h0M597.2 71h0M593.8 95.9h0M599.8 55.7h0M592.6 100.2h0M588.3 87.4h0M604.9 57.4h0M594.3 82.7h0M597.8 61.7h0M601.5 71.8h0M589.3 89.3h0M601.4 58.9h0M600.1 73h0M596.3 82h0M599.7 63.7h0M591.7 83.6h0M581.7 104.4h0M595 85.9h0M590.6 55.3h0M603 46.5h0M598.8 91.5h0M593.3 71h0M597.3 62.7h0M606.3 71.2h0M604.8 62.2h0M599.5 85.1h0M599.9 77.4h0M595 66.8h0M596 77.9h0M601 74.6h0M596.1 79.9h0M599 89.2h0M589.2 94.2h0M585.4 92.4h0M585.2 88.3h0M593.9 88.6h0M606.1 48.2h0M605.1 88.4h0M590 94.3h0M586.2 93h0M602.4 66.1h0M600.1 89.4h0M587.5 82.2h0M604.2 79.4h0M598.1 84.1h0M606.1 64h0M599.3 65.6h0M603.1 60.1h0M599.1 87.3h0M590.3 71.2h0M595.3 66.7h0M592.2 77.1h0M602.7 66.6h0M590 82.1h0M586.3 87.3h0M601.6 63h0M604.8 51.3h0M606.9 70.3h0M604.5 65.8h0M586.5 75.3h0M592.1 95.5h0M593.1 61.8h0M596.7 72.3h0M582 73.5h0M596.8 79.2h0M598.8 83.9h0M590.3 83.4h0M597.7 72.1h0M605.1 78.9h0M597.2 65.9h0M604.2 66.7h0M603.9 81.3h0M599.7 68.4h0M599.5 75.3h0M594.3 77.8h0M605.5 72.7h0M593.6 86.5h0M592.1 93.2h0M601.8 70.3h0M591.9 79.7h0M599.8 68h0M604.2 77h0M597.5 70.5h0M597.6 66h0M603.3 82.8h0M602.1 69.1h0M586.2 61.2h0M587.8 89.2h0M606.1 71.2h0M599.6 74h0M582.5 94.2h0M587.6 74.8h0M597.1 76.7h0M590.1 83.1h0M600.2 81.6h0M597.5 69.7h0M600.3 74.1h0M588.9 87.5h0M601.2 75.7h0M610.5 47.1h0M591.4 80.9h0M606 65.2h0M603.8 55.6h0M601.4 73.3h0M596.5 66.1h0M588.9 93.9h0M590.9 74.3h0M602.3 94.2h0M603.7 68.5h0M605.4 73.3h0M603.6 77.9h0M603.2 59h0M594 70.8h0M588.6 74.2h0M598.4 58.7h0M600.4 67.4h0M597.6 69.4h0M586.5 85.9h0M593.4 59h0M586.8 75.5h0M598 83.6h0M589.7 91.7h0M595.8 85.1h0M599.2 82.1h0M597.9 61.5h0M606.5 64.6h0M589.3 71.5h0M581.9 97.5h0M603.5 78.6h0M606.7 54.6h0M606.9 89h0M599 87.3h0M600.7 95.5h0M597.9 82.7h0M588.1 56.5h0M593.1 87.9h0M600.5 62h0M593 62.2h0M610.2 71.8h0M586.4 93.2h0M594 75.3h0M604.7 62.3h0M592.8 96.7h0M589.2 91.8h0M587.6 66.9h0M592 89.3h0M607.5 63.1h0M599.9 62.7h0M600.6 76.7h0M593.4 81.2h0M602.9 77h0M597.8 82.6h0M590.7 88.3h0M593.9 96.4h0M598.4 80.4h0M605.1 71.5h0M596.6 69h0M600.5 77.7h0M611 71h0M591.5 60.9h0M588.5 83.9h0M603.9 72.7h0M600.1 79.1h0M596.4 76.9h0M598.9 83.8h0M594.8 83.7h0M600.6 82.2h0M594.7 91.2h0M602.6 76.1h0M589 98h0M591.4 62.8h0M597.9 87.8h0M593.8 60.3h0M601.9 68.6h0M596.8 67h0M593.3 64h0M598.5 92.4h0M593.4 61.9h0M586.3 80.3h0M589.2 88.1h0M591.5 88.9h0M593.8 75.1h0M597.8 92.4h0M603.4 51.4h0M600.9 74.3h0M609.4 56.7h0M605.9 66.8h0M595.8 81.3h0M608.5 69.7h0M605.3 77.6h0M594 65h0M599.3 73.8h0M604.7 63.4h0M598.8 69h0M604.2 62.1h0M599.9 68.2h0M602 57.7h0M594.9 84.1h0M599.8 83.6h0M594.6 78.7h0M601.8 74.7h0M585.5 84.9h0M599.5 60.8h0M605.8 57.4h0M601.2 65.7h0M597 83.6h0M600.9 66.5h0M591.3 78.4h0M591.4 72.2h0M594.7 77.4h0M596.1 80.2h0M603.8 67.9h0M591 88.2h0M604.1 78.4h0M586.3 82.2h0M591.7 79.8h0M596.9 64.9h0M605.2 66.5h0M592.9 91.2h0M582.3 73.7h0M600 55.5h0M596.9 86.9h0M589.6 88.1h0M589.9 71.2h0M592.3 77.5h0M597.8 90.1h0M601.7 59.3h0M586.9 83.3h0M613 58h0M596.9 63.3h0M594.6 84.6h0M601.8 78.9h0M597.9 67.8h0M613.3 51.5h0M604.7 67.6h0M594.6 65.6h0M594.4 73.4h0M593.7 67.1h0M594.8 86.1h0M601.8 73.6h0M592.7 68.3h0M608.3 74.7h0M596.6 84.4h0M596.1 75.1h0M603.7 72.7h0M583.4 97.5h0M590.6 98.4h0M601.3 57.9h0M597.2 75h0M597 60.9h0M599.9 82.6h0M593 78.6h0M595.9 78.4h0M587.7 83h0M584.1 103.5h0M605.9 55.4h0M590.6 84.4h0M592.1 77.9h0M606.8 77.7h0M604.4 53.5h0M593.5 94.9h0M593.4 59.4h0M596.5 80.7h0M590.5 85.4h0M600.9 79.8h0M598.1 60.6h0M598 84.2h0M602.3 80.6h0M602.1 81.6h0M609.8 59.9h0M607.6 61.3h0M585.3 94h0M603.3 65.3h0M589.3 66.9h0M587.2 77.5h0M602 67.8h0M592.2 90.9h0M594.9 61.9h0M604.5 62.6h0M592.5 95h0M590.9 89.3h0M599.3 102.9h0M605.5 63.5h0M600.7 85.9h0M586.3 88.4h0M592.6 65.8h0M596 92.1h0M610.4 55.7h0M603.3 74.2h0M603 82.6h0M605.4 55.8h0M594.9 74.1h0M600.4 80.8h0M600.5 68.1h0M590.3 88.7h0M597 85.7h0M601 77.1h0M589.6 72.8h0M602.7 88.3h0M602.3 85.6h0M604.2 61.2h0M591.7 95.9h0M597.8 78.1h0M607.1 71.1h0M602.6 85.4h0M591.6 89.3h0M598.6 76.7h0M606.9 69h0M596.6 70.6h0M599.7 72.1h0M614.9 51.6h0M596.8 74.8h0M596.3 81.9h0M590.1 76.2h0M592.5 76.1h0M607.3 58.7h0M596.1 79.1h0M588.8 85.2h0M590.6 83.6h0M597.1 92.1h0M602.3 67.3h0M591.9 88.1h0M602 80.3h0M593.6 83.4h0M599.5 52.8h0M600.6 81.8h0M601.2 57.3h0M594 101.1h0M595.8 80.7h0M600.5 53.6h0M588 82.6h0M598.1 71.6h0M600.5 79.4h0M604.1 90.7h0M596.7 71.5h0M595.6 68h0M597.9 64.6h0M591.8 61h0M595.4 78.6h0M599.7 68.5h0M598.8 97h0M589.6 86.3h0M594.6 76.9h0M582.2 76h0M602.4 52.3h0M593.1 62.8h0M598.5 70.2h0M589.2 84.5h0M596.2 77.7h0M599.9 74.2h0M603.6 69h0M587.3 72.3h0M602.6 73.3h0M595.6 94.7h0M591.4 93.6h0M600 42.9h0M594.7 64.2h0M594.7 83.4h0M591.8 83.5h0M598.2 67.5h0M597 73h0M595.5 74.1h0M590.1 102.8h0M593.1 93.9h0M599.5 72.4h0M605.5 61.4h0M596.5 73.3h0M606.5 51.4h0M596.6 75.9h0M589.1 80.3h0M601 71.9h0M590 72h0M599.5 80.3h0M604.1 48.5h0M594.5 89.4h0M596.1 68.7h0M613.7 53.8h0M598.3 58.3h0M598.5 86.5h0M602.1 81.1h0M596 79.9h0M596.1 69.3h0M599.3 65h0M580.1 117.8h0M606.5 71.1h0M589.3 80.2h0M589.2 79.3h0M600.4 69.4h0M596.9 77.7h0M588.1 82.8h0M598.2 94.8h0M588.8 74.2h0M591.9 106h0M586.3 87.5h0M591 91.2h0M599.4 70.8h0M597.5 86.2h0M598.8 65.7h0M603.1 67.5h0M596.4 70.5h0M592.1 69.4h0M594.8 66.5h0M608.1 68.8h0M596.9 68.1h0M598.9 69.8h0M596 69.4h0M598.4 73.7h0M599.7 100.7h0M596.6 79.6h0M595.6 78h0M591.3 86.8h0M590.8 89.4h0M599.5 72.9h0M601.9 79.6h0M603.1 64.6h0M597.1 63.6h0M591 81.8h0M601 64.3h0M600.9 85.6h0M586.3 96.4h0M602.2 75.4h0M600.7 83.4h0M608.2 66.4h0M588.9 82.9h0M587.9 68.1h0M602.1 77.6h0M584.3 74.6h0M591.7 91.8h0M589.2 85.9h0M589.7 74.3h0M583.5 84.9h0M595.1 103.5h0M603.4 71.4h0M599.8 69.3h0M599.8 89.7h0M594.3 83.6h0M606.7 71.2h0M600.4 69.4h0M604 57.2h0M586 100.1h0M599.1 83.9h0M588.9 67.4h0M599.2 62.2h0M598.1 57.7h0M589 83.7h0M598 64.9h0M604.8 94.5h0M600.2 68.9h0M600.9 82.9h0M590.8 96.3h0M592.1 91.9h0M589.1 72.9h0M597.7 60.3h0M605 74.4h0M599.8 77.6h0M596.8 64.3h0M589.1 90.3h0M599.9 71.2h0M595.2 71.5h0M583.7 75.6h0M584.9 89.7h0M594.5 107.5h0M590.7 83.9h0M608.2 59.3h0M597.1 81.1h0M589.7 88.7h0M593.5 89.3h0M607.8 62.4h0M590.3 80.5h0M602.1 69h0M599.9 73.8h0M607 54.4h0M600.5 69.8h0M594.1 79.5h0M600.5 84.8h0M597.3 80.2h0M603.6 70.6h0M596.4 61.5h0M610.5 59.5h0M596.2 80.4h0M599.9 65.9h0M592.3 73.8h0M597.7 80.2h0M597.1 71.3h0M598.1 86.5h0M603.1 69.8h0M593.2 58.7h0M591.1 71.3h0M604.5 63.1h0M594.9 68.9h0M592.3 72.9h0M604.9 81.3h0M602.3 76.2h0M578.7 99.2h0M594.3 73.6h0M602.3 62h0M602.7 50.1h0M593.4 80.7h0M607.7 78.3h0M591.5 77.9h0M595.3 77.8h0M597.8 72.6h0M596.9 75.9h0M602.5 66h0M604 75.8h0M596.7 73.2h0M606.6 57.4h0M592.3 78.3h0M595.5 71.6h0M608.8 72.2h0M597.7 66.5h0M604.3 70.6h0M594 85.3h0M595.2 79.8h0M596.3 80.5h0M598.2 76.6h0M594.7 83.6h0M597.1 58.3h0M601.6 62.6h0M605.3 63.8h0M597.8 70.5h0M601.5 73h0M603.3 62.1h0M589.6 84.8h0M586.2 86.2h0M608.2 74.2h0M606.1 55.6h0M597.4 63.6h0M599.5 62.7h0M590.6 70.3h0M587.5 108.7h0M599.2 73.2h0M586.8 74.6h0M603.3 65.4h0M592.4 96.3h0M599 71.3h0M610.4 57.5h0M610 70.4h0M595.2 89.7h0M604.4 76h0M589.9 112.9h0M593 77.3h0M599.6 82.9h0M606.6 71.4h0M593.1 81.7h0M600.8 74.2h0M597.7 59.8h0M588.3 92.9h0M596.1 79.9h0M607.3 89.5h0M596.4 84.3h0M600.5 93.6h0M602.7 64.1h0M591.9 81.6h0M605.5 75.8h0M607.4 58.9h0M608 77.9h0M606.1 70.9h0M593.8 88.2h0M593 90.1h0M591.6 84.1h0M590.7 88.7h0M591.5 83.2h0M603.8 82.3h0M607.1 84.2h0M592.6 66.8h0M602.6 68.1h0M588.2 88.3h0M594.7 76.6h0M590.1 93.1h0M585.7 82.8h0M597.3 91.5h0M597.5 71.5h0M594.1 75.4h0M593.3 80.6h0M590.1 75.3h0M596 78.3h0M592.8 63h0M598.6 68.7h0M588.6 99.6h0M598.5 85.5h0M600.4 56.5h0M605.5 74.7h0M604.2 66.6h0M598.2 81h0M592.2 65.1h0M584.2 76.3h0M596.8 68.2h0M606.6 72.1h0M608.3 69.5h0M579.3 77.5h0M591.6 86.6h0M594.4 100.5h0M589.7 66.5h0M598.2 65.1h0M597.1 89.5h0M593.3 76.5h0M596.6 70.2h0M585.9 83.6h0M590.1 64.9h0M590.7 68.7h0M603.1 78.7h0M585.6 87.4h0M595.4 67.8h0M602.2 61.6h0M596.5 79.9h0M602.5 59.4h0M592.3 88.5h0M599.9 64.8h0M603.1 88.8h0M612.3 57.6h0M601.9 50.4h0M606.7 51.7h0M597 84.4h0M597.6 106h0M607.7 63.7h0M600.9 61.4h0M606.7 66.3h0M601.8 69.3h0M611.6 77.5h0M613.4 67.3h0M591.1 94.5h0M609.8 78.4h0M599.9 79.4h0M600.2 58.8h0M596.1 73.2h0M601.9 80.1h0M589.3 84.8h0M591.9 90.7h0M591.7 87.1h0M599 72.8h0M603.4 86.6h0M602.1 69.1h0M599.5 80.9h0M592.9 69h0M584.8 97h0M599.8 72h0M598 84.7h0M599.5 69.2h0M606.9 86.2h0M595.8 83.3h0M595.6 86.9h0M581 107.2h0M600.9 77.2h0M596.7 79h0M591.9 87.4h0M599.7 85h0M589.8 90.2h0M593.3 87.5h0M610.6 54h0M602.2 66.7h0M603.4 57.4h0M602.2 62.3h0M601.5 53.8h0M598.3 74.6h0M612.8 59.4h0M596.5 75.5h0M602.1 75.5h0M595.5 70.3h0M594.6 73.9h0M580.1 85.4h0M583.7 84.6h0M607.7 55.5h0M607.3 81h0M593.9 72.2h0M596.7 76.1h0M601.2 78.2h0M590.1 84.9h0M609.2 59.6h0M589.8 73.3h0M592 82.1h0M577.8 84.8h0M607.4 62.4h0M597.3 64.5h0M608.2 55.1h0M590 73.5h0M599.3 76.9h0M597.4 86.3h0M598.3 59.9h0M611.3 71.1h0M612.6 53.1h0M606.5 66.2h0M594.1 60.9h0M603.1 71h0M606.2 70.3h0M600.8 93h0M600.8 65.5h0M600.2 72.5h0M590.7 86.9h0M598.6 77.8h0M608 52.5h0M590 77.2h0M597.5 66.1h0M602.7 72.6h0M587.4 80.2h0M595.9 66.3h0M585.1 88.2h0M592.7 65.6h0M587.1 86h0M590.7 60.7h0M593.5 83.6h0M594.9 81.2h0M595.4 74.8h0M580.2 92.9h0M607.8 66.2h0M594.9 76.7h0M589.2 68.9h0M592.5 83.5h0M599 60.9h0M589.9 71.9h0M594 75.8h0M593.6 79.6h0M600.6 52.1h0M591.6 105.1h0M600 76.7h0M599.2 73.9h0M595.8 70.2h0M605.4 66.8h0M597 65.2h0M588.7 76.2h0M598.9 61.8h0M597.7 80.1h0M596.5 70.1h0M598.4 56.3h0M613.1 67.1h0M598.4 71.2h0M600 86.3h0M595.1 72.1h0M605.9 74.8h0M596.4 68.7h0M591.3 91.4h0M588.4 81.9h0M600.5 82.2h0M602 70.8h0M585.8 80.3h0M591.8 55.9h0M601.3 66.8h0M603.9 63.9h0M587.7 64.1h0M594 66.5h0M602.6 80.8h0M593.1 72.8h0M593.7 76.6h0M593.1 70h0M587.8 77.7h0M597.1 93.1h0M598.9 79.3h0M587.1 65.3h0M597.5 66h0M604.5 77.7h0M598.2 79.4h0M603.4 72.8h0M593 93.1h0M606.3 102h0M591.4 75.6h0M609.8 75.8h0M593.7 86.4h0M591.8 88.9h0M590.6 86.2h0M593.9 83.9h0M593.4 63.7h0M592 84.2h0M594.5 72.6h0M601.4 73h0M602.9 58h0M594.5 77.6h0M605.3 90.3h0M589.9 63.9h0M589.7 65.5h0M589 76.5h0M601 89.8h0M586.1 72.3h0M587.1 81.6h0M605.6 77.7h0M608.6 72.4h0M606.1 56.5h0M586.5 92.6h0M596.9 78.6h0M602.5 79.8h0M597.4 70.8h0M585.6 96h0M594.4 72.9h0M585 90.4h0M588.2 62.8h0M611.7 68.6h0M601.5 71.8h0M586.6 75.5h0M586.4 76.7h0M599.9 90h0M592.5 78.5h0M600.8 68.9h0M592.3 73.3h0M595.4 79.5h0M598.4 59.4h0M589.6 68.2h0M583.5 91.9h0M588.5 95h0M591.9 81.3h0M595.3 71.4h0M596.3 65h0M596.3 88.6h0M600.3 79.7h0M590.6 101.9h0M606.4 77.6h0M610.6 51.9h0M599.3 51.3h0M598 66.5h0M605.4 69.2h0M601.2 74.1h0M598 53.5h0M595.6 63.4h0M591.6 77.3h0M588.6 87.7h0M601.3 79h0M604.9 67.8h0M589.4 62.3h0M596.2 77.8h0M598.2 77.3h0M593.8 74.7h0M591.4 82.4h0M594 67.5h0M583.1 97.7h0M596.3 74.6h0M594.7 84.3h0M611.3 53.6h0M603.2 68.1h0M594.3 85.5h0M596.6 81.3h0M608.6 65.9h0M607.8 50.8h0M598 69.1h0M595.8 73.7h0M586.7 95.3h0M594.4 94.2h0M595.5 93.7h0M591.6 87.4h0M608.7 61.9h0M583.7 87.4h0M595.8 65.5h0M599.5 85.7h0M599.7 76.2h0M608.4 69.2h0M587 95.6h0M591.5 104.1h0M597.4 84.7h0M597.6 66.3h0M594 97.4h0M591.4 72.4h0M604.1 61h0M589.4 84.8h0M592.7 77.3h0M606.6 69.5h0M608.7 66.1h0M602.7 56.3h0M590.7 69.9h0M590.8 71.4h0M590.5 79.4h0M588.8 84.8h0M593.8 76.5h0M605.5 82.4h0M598.2 84.5h0M591.5 80.5h0M591.3 100.2h0M588.5 83.8h0M605 70.9h0M582.7 91h0M598.6 76.6h0M586.7 92.6h0M589.3 61.5h0M586.3 106.3h0M603.3 79h0M596.1 96.3h0M615.6 57.1h0M589.4 74.1h0M589 65.1h0M600.7 81.4h0M600.5 67h0M594.7 88.5h0M582.6 90.4h0M606.6 61.8h0M600.5 89.6h0M599.3 76.9h0M592.5 87.8h0M601 69.8h0M592.7 72.4h0M596.8 92.8h0M595.2 80h0M605.2 84.5h0M593.3 104.7h0M594.1 91.4h0M604.1 77.9h0M598.1 89.1h0M596.3 89.5h0M594.8 65.6h0M603.1 70.7h0M592 70.2h0M599.7 59.7h0M610.5 63.4h0M599.2 47.9h0M591 77.3h0M588.1 83h0M597.4 84.8h0M587.9 88.2h0M585.4 82.9h0M591.2 80.8h0M588.8 81.2h0M602.5 68.2h0M586.3 100.3h0M607.3 75.9h0M591.2 86h0M597.2 82.2h0M601 87.3h0M597.9 76.9h0M601.4 82.2h0M589.5 72.9h0M580.6 99.7h0M594.9 76.2h0M584.7 108.6h0M592.3 82.8h0M602.9 61.4h0M594.9 78.3h0M592.2 74.4h0M588.5 82.3h0M594.3 82.6h0M595.1 73.5h0M585.3 82.9h0M598.3 71.8h0M588.8 90.4h0M597.8 81.5h0M593.1 109.3h0M603.1 70.8h0M602.2 83.7h0M596.3 85.7h0M595.5 69.9h0M599.3 73.2h0M605.9 65.3h0M603.7 79h0M597.4 71.8h0M598.5 75.6h0M607.3 66.1h0M585.1 88.8h0M600.2 57.1h0M590.2 94.9h0M605.8 66.9h0M593.1 77.6h0M595.7 68.3h0M589 78.6h0M596.6 82.3h0M602.1 70.8h0M608.2 51.1h0M587.9 73.6h0M593.6 83.9h0M623.7 51.4h0M603.2 72.6h0M596.6 63.1h0M600.3 78.1h0M578.3 79.2h0M607.9 49.7h0M597.8 77.1h0M586.8 61.8h0M604.9 71.9h0M592.4 82.4h0M589.7 75h0M600.4 78.7h0M599.6 73h0M593.6 91.6h0M596.3 81.2h0M587.5 83.7h0M586.8 99.4h0M603 63.6h0M605.9 60.7h0M599.8 75h0M599.4 67.3h0M594.1 71.9h0M595.9 85.6h0M590.3 76.4h0M609 63.6h0M592.9 86.8h0M599.7 70h0M596.8 87.6h0M587.1 114.5h0M610.2 60.1h0M594.2 76.2h0M591.5 62.1h0M597.6 79h0M590.6 72.5h0M597 85.3h0M590.2 93.9h0M600.7 76.1h0M597.2 73.5h0M587.3 84.7h0M604 58.1h0M598.2 62.4h0M589.2 95.7h0M599.3 78.9h0M599.8 54h0M609.7 49.9h0M590.9 92.7h0M602.8 77.9h0M596.2 54.8h0M601.1 81.2h0M595 63.4h0M596.5 96.1h0M600.3 73.9h0M588.6 92.6h0M582.3 83.8h0M596.8 61.3h0M593.8 72.3h0M597.5 63.3h0M601.4 58.2h0M595.4 58.3h0M605.2 63.8h0M596.6 95.1h0M597.7 90.3h0M602.7 60.1h0M601 64.5h0M596.4 63.7h0M597.9 77.4h0M591.7 84.5h0M592.7 98.3h0M597.7 86.5h0M602.7 72h0M594 85.4h0M602.9 87.9h0M610.5 48.8h0M612 62.7h0M597.3 73.1h0M604.4 68.5h0M601.3 72.6h0M602.6 82.5h0M602.9 62h0M600.8 78.9h0M602.9 81.8h0M598.5 61.8h0M595.4 76.6h0M598.9 68.2h0M600.6 93.1h0M605.7 50.2h0M599.8 82.6h0M602.3 83.6h0M607.1 71.7h0M590.7 91.9h0M595.4 87h0M600.9 67.7h0M597.4 60.6h0M590.2 84.7h0M604.1 69.9h0M596.7 75.7h0M590.3 80h0M610.3 77.7h0M588.3 66h0M597.1 91.1h0M592.5 86.9h0M597.9 53.6h0M601.1 73.8h0M591.5 91.5h0M596.4 75.3h0M596.2 52h0M590.2 81.2h0M605.2 80.5h0M598.3 72.3h0M595.1 74.3h0M592.5 88.6h0M594.8 75.2h0M598.1 98.6h0M593.9 73.7h0M605.8 65.8h0M579.5 90.1h0M582.3 95.4h0M595.3 62.7h0M584.3 79.6h0M596.6 61.6h0M592.6 85.9h0M601.1 63.9h0M600 54.6h0M606.2 52.5h0M603.5 79.7h0M605.8 68.2h0M600.8 79.2h0M604.5 72.1h0M600.6 72.6h0M593 60.5h0M588.5 67.1h0M588.7 84.4h0M600.5 63.3h0M580.6 96.4h0M598.3 87.8h0M591.9 100.2h0M602.2 80.3h0M598.5 53.3h0M591.9 78.2h0M597.2 69.9h0M581.4 78.3h0M599 94.9h0M600.4 75.4h0M584.4 86.6h0M603.1 57.1h0M596.3 72.1h0M598.3 92.6h0M587.3 102.7h0M601.3 68.9h0M601.2 70.1h0M597 90.9h0M590.3 96.6h0M602.4 70.4h0M605.8 82.3h0M599.9 69.7h0M604.1 72.4h0M593.1 82.4h0M598.3 54.2h0M599.8 82.4h0M598.2 87h0M616.8 64.4h0M600.2 98.9h0M593.4 71.1h0M603 64.1h0M589.8 81.6h0M599.9 74.1h0M602.7 72.2h0M594 95.5h0M595.2 79.7h0M590.9 82.2h0M598.3 66.6h0M592.7 77.1h0M609.5 54.8h0M601.9 65h0M595.9 98.7h0M587.7 92.7h0M611.6 57h0M606.5 72.6h0M600.8 73.3h0M598.9 65.8h0M598.7 85.5h0M594.3 76.9h0M610.6 47.3h0M599 74.2h0M587.6 92.1h0M593 79.7h0M579.7 95.4h0M602.1 85h0M602.8 64.4h0M609.8 64.9h0M612.1 82.9h0M592.1 67.8h0M600.6 83h0M604.4 69h0M603 66.2h0M594 80.2h0M603.1 84.3h0M600.9 97.6h0M606.9 73.5h0M597.3 73.6h0M595.8 90.2h0M593.9 83.3h0M594.9 64.6h0M592.2 91.1h0M595.1 35.4h0M600.9 68.8h0M600.6 85.8h0M606.6 63.4h0M605 71.7h0M601.7 58.1h0M589.4 96.2h0M601.3 65.1h0M605.4 80.5h0M588.3 80.2h0M589.6 66.5h0M590.7 80.1h0M590.1 67.8h0M595.3 80.8h0M590.8 71.6h0M600 80.5h0M588.9 86h0M596.4 76.5h0M593.8 94.8h0M590.5 91.7h0M604.4 76.1h0M597.4 57.6h0M601 71.1h0M594.9 90.4h0M602.1 84.7h0M601.5 73.4h0M596.2 89.2h0M584.9 84.9h0M602.9 82.9h0M602 83.2h0M598.5 66.2h0M598.9 94.6h0M598.1 51h0M598.5 83h0M590.3 98h0M596.8 70.1h0M599.4 62.6h0M593 65.8h0M590.5 76.2h0M610.1 72.2h0M601.4 74.1h0M595.1 76.4h0M593.8 69.7h0M578.9 81.6h0M587.4 77.1h0M595.5 68.2h0M606.1 92h0M583 94.3h0M592.4 67.7h0M610.5 69.3h0M601.9 72.7h0M600.1 81.1h0M605.5 70.1h0M596.4 83.8h0M596 98.8h0M602.2 67.5h0M603.1 66.2h0M589.8 92h0M607.8 88.8h0M585.2 90.3h0M592.4 93.9h0M618.5 46.9h0M593.7 82.2h0M601.8 89.7h0M590.3 90.1h0M595 59h0M592.3 83.1h0M594.5 88h0M601.8 75.8h0M609.4 78.9h0M603.3 62.4h0M608 82.6h0M593.7 73.6h0M607.4 56.8h0M601.2 63.4h0M606.7 69.6h0M594.4 83.6h0M595.6 77.5h0M606.7 65.5h0M601.5 66.7h0M598 75.8h0M592.5 77.8h0M596.5 81.9h0M600.6 82.1h0M602.2 60h0M593.3 75.1h0M594.8 70.6h0M600.1 55.8h0M589.5 90.6h0M603.6 77.1h0M597 80.4h0M596.1 67.8h0M580.3 106.2h0M585.9 93.3h0M589.7 74.1h0M592.9 96.7h0M589.3 75.5h0M599.4 57.1h0M597.8 71.1h0M595 87h0M582.7 93.5h0M606.5 78.5h0M594.9 78.8h0M600.9 62.6h0M592.2 69.5h0M596.8 100.4h0M601.6 80.4h0M598.4 71.4h0M603.5 74.3h0M595.5 103.7h0M610.6 62h0M583.7 82h0M593 79.7h0M603.6 71.2h0M595 67.9h0M593.7 94.3h0M584.5 90.3h0M605.1 64.8h0M583.6 51.3h0M600.3 81.1h0M598.1 66.8h0M602.8 52.5h0M606.8 59.3h0M591.9 71.3h0M591.1 67.8h0M594.5 97.3h0M584.8 81.3h0M602.4 76.2h0M593.9 62.2h0M597.8 70.7h0M588.8 80.4h0M596.7 74.3h0M592.3 93.6h0M596.1 66.9h0M589 100.3h0M603.7 72.3h0M592.1 84.1h0M578.9 81.2h0M601 72.3h0M594.5 87.3h0M590.4 74.4h0M613.9 42.5h0M596.2 87.7h0M587.3 69.5h0M592.3 87.2h0M599.2 76.5h0M595 79.8h0M605.1 80h0M603.9 52.4h0M591 72.6h0M596.8 69.5h0M601 87.1h0M593.7 71.6h0M593.3 88.7h0M602.6 56.1h0M599.6 92.7h0M586.8 77h0M592.7 96.5h0M593.7 94.7h0M595.7 74.6h0M591.6 71.4h0M605.8 56.1h0M589.8 86.5h0M589 88.8h0M598 65h0M580.9 102.5h0M589.4 94.7h0M600.9 66.8h0M587.4 79.4h0M590.7 80.5h0M604.1 56.2h0M599.7 91.3h0M596.9 70.8h0M598.2 51h0M591.9 84.8h0M598.7 88h0M595.2 63.9h0M613.9 55h0M600.3 59.7h0M594.3 70.5h0M596.2 81.2h0M597 78h0M587.1 97.1h0M590.9 52.6h0M607.2 76.8h0M586.9 88.2h0M592.6 86.8h0M603.7 64.9h0M607.1 51.3h0M589.6 87.6h0M606.8 62.2h0M594.2 70.1h0M608.1 42.1h0M600.1 75.2h0M594.7 74.6h0M601.7 53.6h0M600.6 88h0M591.4 80.6h0M611.6 61.9h0M594.3 90h0M604.7 71.1h0M593.4 76.4h0M584.1 74.8h0M589 72.7h0M596 82.3h0M601.4 81.8h0M608.9 54.9h0M597.3 91.7h0M594.8 83.4h0M588.2 95.5h0M596.4 93.3h0M598.8 71.3h0M581.4 104.7h0M605.8 74.9h0M604.6 55.7h0M612.5 45.5h0M590.4 96.1h0M597 85.8h0M596.8 85.4h0M587.5 98.6h0M590.8 67.1h0M589.9 72.6h0M600.3 67.8h0M599.7 84.1h0M606 59.9h0M593.9 76.6h0M587 85h0M599.7 67.4h0M599.2 59.4h0M601.3 72.9h0M605.3 73.1h0M592.6 90.8h0M602.2 56.4h0M589.7 77.1h0M597.8 101.2h0M601.4 70.6h0M595.9 68.3h0M598.2 92h0M587 100.7h0M592.2 69.1h0M597.7 78.5h0M588.3 99.4h0M590.7 81.2h0M613.5 57.8h0M598.4 85h0M590.9 90h0M589.5 82.3h0M606.2 68.8h0M577.1 74.6h0M594 64.6h0M600.6 67.5h0M592.3 87.4h0M599.8 80.3h0M588.8 107.2h0M596 77.9h0M596.3 81.1h0M596.1 84.1h0M597 68.4h0M596.3 63.4h0M603.7 90h0M594.1 74.4h0M591.9 75.9h0M594 85.5h0M593.8 86.6h0M585.4 68h0M582.7 80.9h0M586.5 62.6h0M597.9 83.6h0M591.3 92.5h0M593 82.5h0M615.8 50.5h0M603.7 56.3h0M594.4 57.5h0M591.5 87.8h0M605.4 84.2h0M590.5 71.3h0M604.5 60h0M600 67.4h0M605.5 53.2h0M590.9 90.1h0M602.1 89h0M583.3 66.1h0M594.7 74.9h0M603.4 73.8h0M600.7 64.3h0M583.2 64.4h0M600.6 70.9h0M599 55.7h0M595.4 76.4h0M590.8 60.9h0M593.9 76.7h0M591.9 67.6h0M602.4 71.4h0M599.1 67.7h0M603.3 68.1h0M600.6 77.3h0M587 83.6h0M596.8 68.6h0M610.7 65.2h0M588.2 89.5h0M597.8 70.8h0M590.4 66.2h0M589.7 83.3h0M597.3 86.5h0M602.2 80.9h0M601.2 72.1h0M599 56.7h0M602.4 82.4h0M584.6 74.7h0M601.5 74.2h0M598.6 81.9h0M594.6 83.9h0M595.8 64.8h0M589.9 87.3h0M603.9 55.5h0M590.6 59.9h0M585.6 95.4h0M595.8 91h0M591.8 99.5h0M595.3 71.9h0M606.3 77.6h0M594.9 84.8h0M596.7 84.9h0M611.5 49h0M586.1 78.6h0M598.4 68.6h0M603.9 88.8h0M606.4 77.2h0M611.4 64.3h0M591.3 82.6h0M600.1 70.3h0M595.2 60.7h0M592.7 72.8h0M590.9 73.2h0M585.7 87.6h0M598.2 79.7h0M601.1 77.9h0M588.5 85h0M601.2 90.4h0M592.1 87h0M588.9 83.3h0M577.7 98.5h0M603.6 71.2h0M600.9 92.8h0M593.7 85.3h0M593.2 79.7h0M586.9 73h0M599.5 73.1h0M595.5 80.2h0M599.7 80.3h0M597.2 76h0M586.2 91.5h0M585.1 79.2h0M598.9 80.7h0M584.2 80.7h0M597.9 82.7h0M602.3 87.8h0M587.1 100.8h0M600.8 63.7h0M596.4 83.4h0M599.8 79.4h0M591.7 54.2h0M596.1 90h0M599.2 75.3h0M609 80.8h0M601.4 79.6h0M599.8 68.8h0M587.3 88.6h0M598.6 55.2h0M591.6 91.6h0M595.9 85.2h0M598.2 90.7h0M603.2 71.2h0M600.5 82h0M597.7 77.7h0M596 86.3h0M605.9 64.2h0M590.3 89.6h0M596.8 76.1h0M606.1 70.1h0M595.1 86.3h0M602.3 72.1h0M602.7 71.8h0M610.3 59.5h0M604.4 91.2h0M585 71.4h0M596.5 75.7h0M598.5 70.7h0M602.3 66.4h0M599.2 89.2h0M609.6 57.7h0M604.1 67.2h0M588.2 89.4h0M592 72.2h0M582 92.3h0M608.4 77.2h0M595.4 68.5h0M595.2 69.7h0M585.2 83.2h0M593.1 81.2h0M599.1 57.6h0M593.2 85.7h0M593.2 77.2h0M591.6 82.9h0M609.7 67.1h0M592 75.5h0M585.7 96.5h0M592.1 75.1h0M593.3 76.5h0M595 81.4h0M593.9 86.5h0M587.8 98.7h0M594.2 77.7h0M598.2 57.2h0M585.7 92.7h0M609.4 75.1h0M607.4 74.1h0M582.8 85.8h0M592.9 74.4h0M602.6 67.5h0M604.9 69.7h0M608 79.4h0M582.5 78h0M587.7 87.8h0M591.9 76.4h0M599.4 73.1h0M588 83.9h0M598.6 66.2h0M598.7 73h0M600.6 50.9h0M586.5 69.7h0M597 66.4h0M596.1 79.5h0M592.7 71.1h0M604.8 65.3h0M593.7 71.2h0M605.9 67.1h0M591.6 91.2h0M607.8 76.4h0M607.4 67.4h0M590.1 72.8h0M598.3 75.4h0M598.1 81h0M589.1 84.6h0M601.5 64.8h0M600.2 78h0M589.9 87.4h0M596.7 74.9h0M602.3 64.2h0M595 90.2h0M591.1 85.1h0M607.7 66.6h0M589.3 87.2h0M598.6 69.1h0M604.1 60.7h0M601.8 79.4h0M583.3 62.6h0M594 74.3h0M595.4 60.6h0M594.9 69.8h0M600.8 91.6h0M600.2 86.2h0M597.4 72.7h0M598.3 69.2h0M603.6 63.6h0M605.3 89.2h0M583.2 94.6h0M611.9 57.8h0M592.7 66.3h0M602.1 65.9h0M585.2 100.7h0M593 85.2h0M587.8 87.4h0M604.3 74h0M602.9 59.9h0M596.7 63.9h0M595.5 63.8h0M599.4 85.3h0M590.1 95.2h0M592.4 95.8h0M591.3 83.6h0M602.5 70.2h0M596.9 90.5h0M587.7 81.3h0M599.1 71.6h0M600.4 75.2h0M606.5 63h0M592.8 90.1h0M599.6 85.1h0M611.3 48.2h0M594.4 82.2h0M594.2 68.3h0M600.3 80h0M593.2 103.2h0M596.7 70.7h0M593.2 92.4h0M591.2 90.3h0M602.9 61.8h0M594.1 94.7h0M589.6 85.4h0M594.7 66.2h0M595.7 56h0M598.8 84.8h0M603.2 68.9h0M609.1 72.4h0M588 71h0M594.9 83h0M583.9 73.6h0M598.2 88.1h0M600.3 65h0M592 64.8h0M590.1 75.1h0M589.6 82.4h0M586 90.9h0M600.9 86.5h0M609.9 54.8h0M588.5 73.7h0M607.9 62.9h0M595.6 90.6h0M586.7 94.6h0M600.4 74.7h0M601.7 54.1h0M599.1 54.6h0M594.5 68.1h0M608.1 81.4h0M594.4 100.2h0M600.8 72.7h0M600.9 68.2h0M590 65.2h0M583.3 97.8h0M584.2 76.1h0M593.5 83.2h0M598.8 69.1h0M583.8 94.3h0M591.2 87.1h0M607 74.5h0M583.6 90.8h0M599.5 85.1h0M598.7 84.3h0M601.7 70h0M585.9 99.9h0M598.6 79.6h0M586.4 92.5h0M605.5 72.2h0M590.1 70.3h0M598.8 83h0M590.5 65.2h0M597.1 96.3h0M585.4 96.6h0M598.1 68.3h0M600.4 99.4h0M596.1 80.1h0M607.5 62.8h0M598.7 90.2h0M601.6 56.8h0M599.7 54.5h0M609.3 64.9h0M591.5 80.9h0M594.2 70.1h0M594.6 67.9h0M600.5 77.9h0M598 79.6h0M602 50.1h0M598.3 72.4h0M592.6 81.7h0M595.8 86.4h0M599.3 105.3h0M580.1 92.5h0M606 67.6h0M592.3 81.1h0M593.8 81h0M598.1 66.6h0M594.5 75.3h0M586.1 83.6h0M594.7 80.1h0M606.1 71.8h0M603.7 69.1h0M605.1 76.5h0M592.5 68h0M594.9 75.1h0M603.8 70.1h0M606.9 45.9h0M596.7 67.8h0M589.7 94.7h0M582.9 97.5h0M606.5 68.6h0M585.8 91.1h0M599.6 59.9h0M602.9 62.9h0M619.6 46.8h0M598 63.8h0M595.8 67.4h0M599.9 92.5h0M600.3 87.8h0M606.2 78.7h0M601.6 66.5h0M591.3 78.7h0M581.8 69.9h0M598.8 60.8h0M591.9 66.1h0M606.8 74.5h0M587.4 85.1h0M598.2 64.4h0M591.6 92.4h0M590.5 88.8h0M608.7 46.6h0M598 52.6h0M595.5 96h0M602.1 72.3h0M591.2 94h0M594.2 99.8h0M592.3 89.3h0M610.9 58.3h0M599.2 67.6h0M601.3 69.7h0M604.8 55.7h0M595.5 86.6h0M595.7 80.3h0M585.1 70.8h0M600.2 65.6h0M598.7 83.4h0M593.9 92.3h0M605.4 68.7h0M584 85.8h0M599.8 70.7h0M586.9 87.1h0M588.6 82.7h0M595.3 84.7h0M606.3 69h0M588.3 91.1h0M589.6 96.5h0M588.1 83.1h0M611.2 72.7h0M600.5 82h0M599.7 68.2h0M611.6 60.2h0M598.6 55.2h0M581.7 71.8h0M593.2 83.8h0M588.2 87.2h0M611.3 71.1h0M586.6 100.2h0M599 58.3h0M593.1 72.8h0M593.6 85.5h0M596.9 57.6h0M595.8 70.2h0M591.9 72.8h0M587.9 89.2h0M592.1 106.2h0M589.3 76.3h0M590.2 90.4h0M597.6 91.8h0M595.7 71.7h0M600.2 67.4h0M595 88.3h0M610.6 65h0M591.5 76.1h0M589.6 82.7h0M604.1 76.4h0M591.7 65.2h0M597.6 79h0M603.8 58.1h0M596 78.1h0M594.2 82.1h0M603.7 57h0M599.1 81.4h0M592.9 76.1h0M588.1 78.5h0M594 66.8h0M584.8 87.6h0M590.4 98.6h0M588.8 101.8h0M598.8 93.8h0M602.2 84.2h0M592 82.3h0M593.5 83h0M588.8 89.1h0M586.7 86.8h0M593.6 87.6h0M600.7 74h0M600 73h0M600.9 50.3h0M594.7 81.4h0M577 96.7h0M603.3 74.3h0M606.2 77.4h0M603.2 62.5h0M603.2 85.1h0M604.6 48.3h0M616 77h0M599 75.5h0M607.9 56.3h0M602.6 65.9h0M601.6 64.4h0M595.8 93.7h0M594.3 69.3h0M588.7 77.5h0M601 56h0M594.5 78.6h0M588.2 83h0M591.3 98.4h0M588.3 78h0M608.3 77.8h0M595 73.9h0M597.6 56.6h0M588.1 93.6h0M589.4 80.3h0M604.3 75.4h0M595.1 84.2h0M598.4 95.4h0M610 69.4h0M611.8 59.7h0M601.8 58.4h0M600.3 56.6h0M598.5 76.5h0M594.8 68.2h0M611.4 64.7h0M588.1 93.7h0M596.2 82h0M583 79.2h0M587.7 76.9h0M599.7 92.2h0M600.1 67.8h0M599.2 77.7h0M594.5 71.8h0M591.7 79.1h0M592.9 93.3h0M594.1 93.4h0M604.7 70.4h0M607.3 67.1h0M600 72.3h0M592.9 92.4h0M590.1 67.4h0M599 99.9h0M595.2 63.7h0M583.7 89.9h0M606.7 73.5h0M596.8 58.4h0M594.5 79.7h0M590.6 81.3h0M590.5 87.6h0M603.3 65h0M590 76.5h0M597.5 59.8h0M601.4 59.8h0M610.1 64.6h0M601.2 79.2h0M596.6 81h0M593.7 87.2h0M603 75.7h0M604 76.2h0M593.8 75.6h0M601 71.3h0M595.8 85h0M585.1 83.7h0M589.6 106.5h0M602.6 72.4h0M607.2 92.2h0M601.7 76.5h0M595.4 71.2h0M591.7 79.1h0M600.7 85.2h0M599.2 76.8h0M585.2 88.6h0M601.5 79h0M591.7 79.9h0M601.6 79.8h0M600.7 82.7h0M602 83h0M604.5 65.5h0M601.9 82.6h0M589.3 99.7h0M589.5 75h0M604.3 78.6h0M600.3 89.7h0M585.5 80.5h0M582.4 96.6h0M603.3 77.9h0M612.8 72.4h0M602.8 65.3h0M595.1 71.7h0M598.8 65.1h0M577.2 101.8h0M589.7 58.4h0M604.1 77.5h0M603 84.1h0M581.5 94.3h0M605.3 89h0M600.7 82.4h0M603.6 76h0M595.4 76.8h0M596.9 63h0M589.1 79h0M599.1 77.8h0M603.3 70.6h0M590.1 95.3h0M599.5 58.9h0M593 77.7h0M604.3 65.2h0M603.9 76.2h0M579.9 100.3h0M600.1 84.4h0M604.1 79.5h0M592.8 86.4h0M595.3 69.2h0M595.7 85.2h0M588.6 77.7h0M596 68.5h0M608 62.9h0M600.3 64.6h0M607.8 91.3h0M604 67.5h0M605.5 73.7h0M597.7 61.5h0M602.4 67.8h0M611.3 67.2h0M607.4 66.7h0M599.2 72h0M591.8 62.1h0M590.2 86.3h0M598.6 71.7h0M600 79.3h0M583.6 84.9h0M598.4 70.9h0M599.3 71.9h0M599 75.8h0M592.9 63.4h0M613.4 50.1h0M603.1 65.3h0M587 90.7h0M591.7 75.7h0M602.6 69.3h0M600.5 62.8h0M597.7 69h0M596.6 82.8h0M595.3 70.9h0M593.6 59h0M589.4 76.3h0M600.9 83.5h0M576.8 97.7h0M591.5 70h0M605.6 54.6h0M591 96.4h0M588.1 71.7h0M610.2 45.7h0M604.1 53.2h0M595.5 90h0M592.4 78.6h0M594.9 62.4h0M594.1 69.2h0M594.8 80.5h0M591.2 89.9h0M600.4 72.3h0M592.5 73h0M583.5 97.1h0M587.2 85h0M596.5 61.8h0M589.2 67.7h0M578.7 88.8h0M607.2 51.4h0M600 73.6h0M593 85h0M592.7 85.7h0M600.1 83.5h0M606.2 71.8h0M591.9 83.1h0M599.3 50.6h0M591.9 69h0M598.7 49.7h0M588.2 93.4h0M583.2 79.6h0M596.9 80h0M595.9 91.3h0M601.5 65h0M591.5 87h0M606.1 59.1h0M597 47.8h0M607.4 65.1h0M593.9 79.1h0M607.1 73.7h0M595.8 92.3h0M597.3 77.6h0M603.2 78.7h0M583.6 85.3h0M588.7 86.3h0M609.5 61.2h0M585.5 80.2h0M592.7 66.6h0M600.2 84.5h0M606.8 75.3h0M592.7 64.1h0M597.3 65.7h0M588.2 90.7h0M593.6 51.8h0M603.7 99.5h0M598.7 78.4h0M596.1 79.8h0M599.4 68.5h0M597.4 89.6h0M597.6 75.2h0M593.9 76.3h0M589.4 70.2h0M601.2 92.3h0M588.1 90.9h0M603.7 76.7h0M611.6 52.8h0M607.3 46.6h0M613 44h0M589 90.6h0M598.2 72.8h0M590.5 83.7h0M591.2 81.7h0M584.2 94.9h0M587.8 82.3h0M602.6 72.3h0M601.5 66.2h0M605.1 70.8h0M604.6 42.6h0M602.2 89.2h0M590.8 87.8h0M595.8 83.3h0M601.9 70h0M605.6 58.9h0M594 79.3h0M593.1 47.5h0M593.5 75.1h0M608.1 50.9h0M600.7 73.3h0M594.4 85.9h0M591.2 54.7h0M599.8 82.3h0M584.7 102.5h0M595.1 85.1h0M592.7 77.6h0M592.6 64.9h0M598.2 77.6h0M599.7 76.2h0M618.5 54.2h0M597.5 67h0M601.8 80.3h0M591.1 77.8h0M585 92.2h0M605 64.2h0M610.8 58.3h0M589.7 71.3h0M596.4 57.1h0M604.8 74.3h0M597.6 84.6h0M579.8 89h0M604.1 68.6h0M595.9 75.8h0M602.1 62.1h0M590 79.7h0M603.2 60.5h0M604.3 68.1h0M591.8 80.8h0M600.4 80.9h0M592.4 71.9h0M593.3 77.7h0M590.5 67.9h0M593.8 71.1h0M592.1 84.9h0M605.3 65.5h0M595.3 77.7h0M588.9 83.7h0M606.7 81.1h0M600.8 69.8h0M604 68.3h0M596.5 88.4h0M601.9 68h0M596.3 72.2h0M590.2 93.2h0M597.7 86.5h0M598 71.9h0M598 66.8h0M603 67.2h0M584.7 104.9h0M599.1 85.1h0M591.3 75h0M595 88h0M600.2 61.9h0M597.5 63.7h0M592.3 88.5h0M602.4 68.4h0M596.7 68.7h0M603.7 64.9h0M605.9 72.7h0M594.6 80h0M589.3 83.4h0M597.7 58.6h0M602.9 63.8h0M599.4 61.6h0M588.9 80.3h0M585.2 80.5h0M590.5 72.4h0M590.5 83.3h0M601.6 79.4h0M597.6 71.1h0M603.4 74.4h0M596.6 81.9h0M609.1 73.2h0M597.3 89.9h0M601.2 70.9h0M594.3 87.9h0M600.4 81h0M604.9 72.2h0M602.7 83.5h0M606.3 62.4h0M593 70.4h0M600.5 84.5h0M609.4 68.9h0M599.1 76.5h0M596.1 79.3h0M595.7 76.3h0M593.6 75.4h0M598.3 81.4h0M607.1 59.6h0M600.5 92.7h0M597.1 86.5h0M591.7 71.1h0M589.3 87.1h0M614.1 57.4h0M594 66.5h0M598 57.5h0M593.9 90.1h0M598.5 82.5h0M594.3 86h0M598 82.4h0M607.5 64h0M592 100.3h0M600.9 68.2h0M596.7 76.7h0M602.3 56.3h0M592.4 95.9h0M600 66.9h0M590.3 86h0M584.3 94.5h0M587.9 75.2h0M590.4 72.9h0M589.1 97h0M594.7 69.6h0M604.7 72.2h0M589 87.2h0M600.1 78.4h0M598 76.1h0M591.9 86.7h0M590.3 81h0M599.9 98.7h0M600.2 63.9h0M594.4 75.5h0M595.8 83h0M596.8 72.5h0M587.6 86.6h0M597.6 69.6h0M599 63.6h0M609.1 60.8h0M587.9 115.5h0M590.7 68.2h0M597.4 75.2h0M592.7 73h0M594 87.1h0M596.9 78.1h0M594.8 80.6h0M596.6 70.9h0M599.9 66.3h0M585.5 82.7h0M600.7 70.4h0M581.1 81.2h0M608.7 54.6h0M603.3 63.9h0M592.6 83.7h0M603.9 61.7h0M595.8 83.6h0M599.9 71.3h0M602.1 56.9h0M599.3 89.4h0M596.9 88.3h0M601.2 95.8h0M595.6 58.5h0M594.3 77.5h0M590.3 77.9h0M584.3 85.3h0M607.9 68.7h0M602.3 81.2h0M587.2 83.3h0M599.7 84.4h0M598.4 69.4h0M581.6 74.3h0M591.1 58.9h0M596.2 87h0M608.9 70.8h0M604.6 79.7h0M605.7 87h0M599.2 87.5h0M603.9 72.8h0M588.8 74.4h0M601.3 61.1h0M602 82.1h0M588.2 78.2h0M598.7 77.9h0M607.6 65.6h0M610.4 55h0M606.9 58.4h0M592.1 71.7h0M596.4 74.3h0M593.5 77.2h0M605.6 66.7h0M591.2 75.8h0M589.8 84h0M585.8 81.9h0M598.4 74h0M600.1 60h0M592.9 90.1h0M591.8 85.2h0M595.8 76.8h0M606.4 69.3h0M587.8 107.6h0M596.8 65.8h0M598.6 60.2h0M599.7 91.4h0M605.8 82.8h0M602.9 58.1h0M599 90.3h0M607.3 66.6h0M605.1 70.7h0M599.2 79.1h0M598.8 71.5h0M589 94.9h0M598.1 92.3h0M591.7 87.5h0M589.3 85.5h0M595.2 76.3h0M585.2 78.9h0M591 66.9h0M593.6 74.5h0M599.4 75.4h0M594.9 73.9h0M599.8 86.7h0M608 74.6h0M602.7 79.7h0M589 99.9h0M584.7 79.8h0M590.6 93.3h0M590.8 97h0M583.2 99.3h0M585 72.4h0M585 74.7h0M592.6 78.2h0M606.7 61.9h0M608.6 85.8h0M589.6 92.9h0M593.5 77.2h0M587.1 96.6h0M585.3 102h0M596 85.7h0M596.8 69.6h0M592 66.6h0M600.7 84.6h0M594 66h0M603.9 84.2h0M592.8 79.8h0M602.2 73.3h0M594.9 83h0M597.1 59.8h0M600.5 66h0M587 85.5h0M591.1 71.6h0M595.7 85.2h0M594.3 75.2h0M598 61.5h0M590.6 78.4h0M587 65.9h0M595.4 89.4h0M598.2 88.5h0M590.6 85.4h0M604.6 72.5h0M601 78.7h0M602.1 57.8h0M601.6 69.1h0M590.3 92.8h0M611 71.6h0M591.4 77.3h0M599 87.7h0M601.5 69.1h0M598.8 85.8h0M597.9 76.7h0M591 79.6h0M593.9 94.6h0M597 81.7h0M605.8 73.3h0M592.3 79.9h0M601.6 65.3h0M599.9 75.2h0M597.6 90.5h0M593.2 84.6h0M596.1 87.1h0M585.1 89.6h0M597.9 66.3h0M599.4 65.7h0M593.7 68.1h0M600.9 82h0M599.5 92.1h0M592.3 90.8h0M603.2 71.8h0M593.7 86h0M614.1 74.3h0M590.3 83.5h0M591.8 68.9h0M593 83.6h0M599.1 71h0M605.5 48.3h0M598.1 81.7h0M594.7 70.6h0M610.6 79.9h0M604.5 78.9h0M595.5 79.8h0M596.6 65.8h0M586.8 84.1h0M597.6 81h0M609.3 59.2h0M589.3 67.7h0M587.5 69.7h0M598.2 84.2h0M580.8 84.2h0M606.9 73.5h0M586.8 78.1h0M592.2 69.3h0M596.1 88.7h0M605.5 46.9h0M599.9 93.4h0M584 86.1h0M585.4 104.6h0M598.4 80.4h0M582.5 73.1h0M594.9 64.7h0M591.2 61.8h0M602.4 74.9h0M605.2 79.2h0M579.4 101.7h0M599.8 43.7h0M601.2 62.2h0M591.4 91h0M592.6 80h0M588.4 84.7h0M594.3 68.8h0M599.5 80.3h0M605.9 86.7h0M606.6 75.9h0M594.6 72.7h0M590.8 80.9h0M603.5 76.5h0M577.5 106.7h0M586.9 72.6h0M601 66.6h0M612 72.2h0M591.1 87.2h0M597.3 57.1h0M588.8 86.5h0M596 63.3h0M596 78.7h0M591.3 82.8h0M599.3 79.1h0M595.4 71.4h0M600.1 68.5h0M595.2 86.9h0M588.3 65.9h0M597.6 79.9h0M602.6 77h0M591.2 69h0M605.9 76.1h0M599.8 75.7h0M594.2 75.9h0M596.9 66.7h0M593.8 95.7h0M590.5 91.8h0M603.1 95.8h0M603 65.4h0M593.6 76.4h0M595.5 71.7h0M595.3 74.8h0M601.6 79.1h0M606.9 61.7h0M592.2 91.7h0M598.9 84.6h0M596.6 80.3h0M600.7 62.9h0M606.8 81.5h0M590.8 51.1h0M582.5 96.9h0M595.6 94.1h0M585.7 85h0M608.4 75.7h0M592 74.2h0M594.9 69.6h0M598.5 85.9h0M598.3 70.4h0M594 85.2h0M596.9 74.2h0M603.4 76.3h0M594.8 80.2h0M609.7 62.3h0M599.4 59.8h0M580.6 95.5h0M603.1 63.5h0M584.8 71.4h0M599.3 83.2h0M612.6 51.8h0M604.4 73.5h0M589.1 80.1h0M591.3 76.9h0M597.1 79.4h0M607 52.6h0M591.9 68.1h0M604.7 68.6h0M599.1 75.2h0M596.3 76.6h0M595.9 71.9h0M608.7 60.8h0M586.6 100.1h0M589.1 76.5h0M603.2 66.1h0M603.9 74.3h0M588 92.5h0M590.6 99.8h0M589 80.3h0M600.8 80.3h0M592.4 85.2h0M606.9 41.4h0M602.3 87.2h0M598.8 95.4h0M598.4 68h0M600.7 92.2h0M602.8 77.7h0M597.1 76.9h0M598.8 85.5h0M602.4 60.3h0M596.5 77.5h0M603.9 69.7h0M596 85.5h0M591.6 92.9h0M598.3 78.8h0M608.4 47.9h0M607.3 69.2h0M585.9 81.4h0M599.1 70.8h0M593.5 89.9h0M594.7 71.6h0M594.5 85.1h0M595.3 97.1h0M593.2 100h0M594.9 72.6h0M598.4 56.4h0M588.5 78h0M588.3 73.5h0M589.1 96.2h0M589 114.7h0M600.9 55.5h0M589.2 74.1h0M596.3 94.8h0M597.3 74.6h0M601.8 73.4h0M597 78.7h0M604.1 82.1h0M596.4 73.6h0M598.5 68.6h0M602.1 87h0M586.7 82.3h0M599.5 90.4h0M607.3 61.2h0M597.6 79h0M595.1 69.3h0M610 61h0M597.5 93.7h0M605.4 80.9h0M580.4 90.9h0M597.5 70.6h0M593.3 67.7h0M599.5 87.3h0M605 71.6h0M595.8 53.2h0M595.3 77.5h0M577.3 104h0M602.3 90.9h0M606 64.6h0M597.9 66.7h0M593.5 88h0M599.4 66.1h0M604 59.1h0M601.3 58.1h0M611.2 57.2h0M593 83h0M587.4 92.7h0M600.2 64.3h0M605.6 83.4h0M593.7 63.6h0M596.9 70.2h0M592.4 83.6h0M588.1 103.6h0M591.7 90.3h0M582.5 105.2h0M598.7 86.5h0M600 69.2h0M602.9 48.2h0M591.1 93h0M592.4 89.6h0M585.2 65.5h0M586.7 85h0M602.9 68h0M616.3 67.3h0M589.5 66.9h0M594 78.5h0M603.2 63.4h0M591.9 72.5h0M600.8 57.2h0M594.7 74.5h0M594.7 84.9h0M603 65.7h0M595 79.3h0M588 103h0M602.5 78.4h0M596.9 92.8h0M592.9 82.1h0M591.2 86.9h0M600.8 77.3h0M591.8 98.8h0M597.6 70.7h0M603.7 69.2h0M596 66.7h0M604.3 83.1h0M587.2 90.8h0M601 80.5h0M600.5 69.3h0M609.8 73.2h0M596.9 71.4h0M603 83.4h0M595.7 73.6h0M589.4 82.1h0M590.7 83.1h0M591.9 83.4h0M602.2 73.6h0M591.4 72h0M597.1 66.3h0M603 62.4h0M605.4 68.2h0M603.3 76.9h0M607.1 74.5h0M589 86.8h0M593.4 81h0M599 81.4h0M604.5 83h0M600.3 85.2h0M591.5 74.1h0M595.5 85.7h0M585.4 87.8h0M602.4 77h0M584.5 85.2h0M598.3 78.8h0M604.3 59.2h0M603.1 69.9h0M585.7 99h0M598.3 76.1h0M594.4 91h0M594.8 83.3h0M608.2 58.3h0M598.8 90.2h0M586.9 80.5h0M589.3 84.9h0M601.7 62.6h0M598.4 76.1h0M589 74.7h0M585.2 86.6h0M593 68.7h0M593.7 77.7h0M602.4 80.3h0M592.5 79.4h0M601.4 73.2h0M605.1 52.1h0M585.6 95.4h0M592.7 97h0M607.5 55.2h0M593.6 86.8h0M596.6 95.2h0M603.4 81.4h0M591.4 90.1h0M593.8 84.5h0M585.2 65h0M600.5 76.9h0M593.2 74.3h0M594 75h0M578.8 99.4h0M603.3 90.1h0M601.4 54.3h0M591 87.8h0M605 79.1h0M579.5 87h0M596 87.3h0M584.8 93.8h0M615.4 51.5h0M578.4 98.8h0M588 83.3h0M591.2 86.5h0M602 57.6h0M602.2 89.6h0M599.1 104.5h0M594.7 78.5h0M611.2 68.5h0M591.4 53.1h0M598.5 75.2h0M608.5 66.3h0M587.8 77.4h0M590.7 79.8h0M604 64.9h0M599.5 84.6h0M587.2 89.2h0M596.5 62.6h0M609.7 78.6h0M594.5 83.5h0M601.9 69.2h0M597.2 69.4h0M591.5 81.6h0M607.5 61.4h0M603 63.5h0M604.6 69.4h0M595.2 86.3h0M597 72.2h0M597.8 82.3h0M599.4 80.7h0M593.9 66.8h0M592.8 75.8h0M605.4 81.2h0M588.6 102.6h0M593.2 88.8h0M593.6 77.5h0M592.7 74.7h0M587.8 85.4h0M590.9 61.6h0M601.8 74.1h0M593.7 90.3h0M591.1 83.4h0M607.8 58h0M586.9 81.3h0M603.4 67.9h0M598.7 62h0M586.8 75h0M593.4 63.9h0M593.5 84.3h0M605.2 65.4h0M602.6 69.1h0M594.3 77.4h0M588 64.8h0M584.4 82h0M595 72.7h0M586.4 97.3h0M595 80.7h0M594.8 72.4h0M598.8 72.7h0M603.1 80.4h0M596.9 69.3h0M599.5 73.9h0M595 66.5h0M603.4 63.1h0M601.8 60.9h0M607.3 75.4h0M605.8 74.4h0M591.1 71.2h0M586 54.4h0M600.7 64.3h0M604.1 62.3h0M591.5 83.2h0M606.6 44.7h0M596.9 71.1h0M595.6 75.6h0M598.7 68.5h0M586.4 88.4h0M584.7 77.9h0M593.7 75.3h0M588 83.7h0M596 89.7h0M596 86.6h0M578.2 94.5h0M590.5 103.3h0M599.7 81.4h0M579.9 90h0M593.6 78.3h0M586.6 61.8h0M582.3 108.8h0M603.7 71.6h0M603.4 73.9h0M593 75.9h0M592.4 82.4h0M605.6 76.1h0M604.2 67.3h0M595.8 79.6h0M601.9 49.2h0M596.6 79.6h0M593.7 73.7h0M600.2 63.3h0M592.9 74.7h0M600 74.8h0M594.2 78.9h0M592.7 81.4h0M591.9 89h0M599 73.1h0M602.4 54h0M598.8 58.9h0M589.8 90.8h0M600.1 64h0M589.6 82.1h0M588.1 84.8h0M594.5 80.5h0M601.5 62.7h0M600.6 81.7h0M599.8 82.2h0M605.4 55.5h0M601.9 89.4h0M593.5 84h0M601.4 67.2h0M594.1 78.8h0M598.7 77.1h0M600.1 53.6h0M595.5 63.1h0M585.8 81.6h0M595.1 66.6h0M594 78.6h0M595.4 80.1h0M593.2 66h0M588.4 68.6h0M585.1 97.8h0M600.8 56h0M617.2 75h0M606.7 42.8h0M586.7 69.4h0M604.7 91.6h0M591.6 74.1h0M609.4 65.4h0M597.5 71.6h0M596.8 72.5h0M589.2 72.1h0M596.9 93.6h0M599.1 88.6h0M584.4 94.9h0M591.7 70.1h0M587.9 85.4h0M607.4 69.1h0M599 78.9h0M592.6 71.1h0M607.4 63.1h0M598.4 57.4h0M595.1 53.6h0M593.4 71.9h0M608.4 78.4h0M598.3 92.3h0M580.6 93.6h0M591.2 79.5h0M594.5 78.8h0M574.8 93h0M606.2 68.3h0M609.4 48h0M588.4 85.3h0M607.2 51.3h0M601.9 69.7h0M599.4 79.5h0M588.8 83.1h0M614.8 68.1h0M600.5 72.3h0M590.2 112.2h0M604.8 69.2h0M598.3 63.2h0M588.8 69.7h0M604.1 80.3h0M600.7 88h0M578.5 77.7h0M596.7 95.8h0M601 74.9h0M605.7 73.7h0M608 63.7h0M598.5 64h0M599.9 56.8h0M586.4 112.9h0M595.9 83.3h0M590.3 110.9h0M605.1 79.8h0M608.6 87.8h0M591.6 86.7h0M576.1 104.1h0M600.1 71.7h0M606.8 61.8h0M594.6 79h0M583.4 81.2h0M603.4 57.9h0M589 87.3h0M597.7 78.2h0M595.1 90.3h0M603.9 84.3h0M583.9 80.9h0M608.7 47.2h0M600 73.6h0M617.6 79.6h0M587.1 97.3h0M576.1 94.1h0M595.7 78.2h0M583.1 103h0M597 76.3h0M577.7 94.4h0M604.5 90.4h0M597.5 91h0M603.4 64.6h0M595.6 91.7h0M583.6 93.2h0M607 53.1h0M608.9 56.8h0M611.5 56.2h0M591.9 99.2h0M598.3 86.9h0M602.4 73.9h0M591.6 83.8h0M597.2 68h0M598 67.7h0M605.7 56.3h0M579.1 74.8h0M611.4 66.3h0M597.6 90.5h0M598 65h0M591.9 80.2h0M607.4 65.8h0M603.8 77.8h0M598.2 78.5h0M606.8 37.6h0M591.8 106.6h0M605.2 60.6h0M589.2 80.4h0M594 71.3h0M614.8 67.7h0M591.4 82.2h0M590.2 89.5h0M595.5 82.2h0M599.4 80.9h0M602.7 50.3h0M598.6 61.7h0M597.8 68.8h0M598.2 70.4h0M622.6 61.5h0M582.4 110.1h0M600.9 69.2h0M606.2 81.3h0M588.9 92.2h0M603.9 83.6h0M603.7 77.7h0M572.3 106.9h0M617 42.3h0M608.2 47.8h0M603 72h0M590.4 76h0M596.6 78.4h0M591.6 78.5h0M591.3 88.5h0M608.4 62.1h0M577.4 116.1h0M576.3 129.3h0M592.1 57.4h0M605.2 68h0M588.1 85.3h0M605.2 62.9h0M591.5 80.4h0M596.9 66.9h0M597.3 91.9h0M601.3 82.3h0M603.5 54.6h0M596.1 74.7h0M588.6 94.8h0M584.1 107.3h0M609.8 42.1h0M601.6 59.6h0M608.3 59.7h0M591.4 102h0M604 79.7h0M607 84.1h0M610.3 91.1h0M597.7 84.8h0M610.9 70.6h0M585.5 60.1h0M595.9 96.7h0M588.5 72.2h0M585.4 83.7h0M599 66.5h0M607.3 66.6h0M590.8 70.2h0M593.1 82.4h0M592.4 66.3h0M592.6 71.8h0M606 82.2h0M607.9 70.5h0M583.5 65.5h0M602.6 49.3h0M602.1 84.1h0M593.2 76.2h0M581.2 69.2h0M595.8 71.5h0M585.7 95.9h0M601.7 64.2h0M601.4 70.8h0M611.5 86.2h0M592.4 74.6h0M599.6 72.2h0M594.5 70.6h0M602 48.3h0M591.8 57.4h0M592.9 59.5h0M587.1 63.7h0M598.1 88.7h0M598.8 89.4h0M614.4 56.3h0M601.5 73h0M595.4 72.4h0M607.7 73.5h0M607.1 59.9h0M593.5 58.6h0M599.5 76.3h0M594.6 80.5h0M595.3 85.4h0M598.3 103.5h0M595.4 81.3h0M591.2 85.2h0M601.2 69.9h0M592.3 90.7h0M579.2 74.5h0M591.1 68.3h0M607.5 42h0M600.2 110h0M602.7 79.3h0M599.1 65.9h0M589.1 77.8h0M582.3 84.5h0M583.7 88.8h0M596.7 62.5h0M593.9 83.6h0M598.1 77.7h0M591 48.2h0M618.5 60.5h0M588.9 70.4h0M610.2 62h0M593.3 68.7h0M609.7 63.9h0M615.6 46.2h0M614.4 44.3h0M611.6 64.4h0M602.5 77.6h0M582.5 97.1h0M580.9 102.3h0M599.5 53.5h0M606.1 43.2h0M583.9 112.2h0M608.6 76.1h0M597.6 73.5h0M586.5 73.3h0M599.4 89.8h0M619.7 62.8h0M591.3 79.3h0M600.2 61.5h0M600.7 84.6h0M593.4 65.7h0M608.3 77.5h0M611.6 50.5h0M603.5 78.7h0M612.3 67h0M598.9 64h0M605 63.5h0M586.9 75.4h0M608.4 67.9h0M595.8 80.9h0M579.8 75.3h0M596.2 51.7h0M582.4 83.6h0M585.8 80.6h0M604.1 80.1h0M603.8 45.3h0M586 91.1h0M573.5 92h0M601.8 53.6h0M583.8 125.8h0M603 75.5h0M603.1 89.2h0M599.9 80h0M616.2 59.3h0M603.2 90.7h0M594.5 63.9h0M591.2 50.4h0M595.6 82.1h0M599 75.1h0M582.7 66.8h0M592.6 75.4h0M595.8 92.7h0M580.3 84.1h0M582.3 98.4h0M598.4 57.9h0M581.2 99.9h0M607.6 47.8h0M600.7 90.4h0M598.5 78.2h0M588.9 112.3h0M585.2 53h0M597.5 75.7h0M599.3 78.7h0M605.6 63.3h0M568.9 100h0M600.5 67h0M603.3 40.1h0M589.3 61.5h0M599.3 80.4h0M589.8 78.6h0M590.7 83.3h0M581.4 83.9h0M602.9 85.2h0M596.6 81.9h0M592.1 101.7h0M592.1 73.6h0M598.9 83.8h0M610.1 48.8h0M610.2 62.4h0M597.4 95.4h0M587.7 61.6h0M601.7 99.8h0M579.2 53.6h0M611.2 40.3h0M603.6 47.7h0M590.8 57.8h0M594 62.4h0M588.8 84.8h0M599.8 83.3h0M586.9 83.6h0M596.5 110.2h0M589.4 77.6h0M578.1 94.6h0M595.6 74.8h0M591.7 87.8h0M586.9 106h0M583.1 88.3h0M590.5 88.6h0M591 88h0M587.6 84.7h0M589.2 72.4h0M592.8 63.1h0M586.5 102.8h0M603.7 68.5h0M598.7 102.3h0M601.8 88.7h0M586.9 101.6h0M591.2 86.2h0M597.2 78.2h0M595.2 74.8h0M589.3 83.9h0M589.8 85.5h0M601.5 92.1h0M604.8 64.1h0M611.3 78.1h0M593.2 72.4h0M603.1 76.6h0M604 44.1h0M598.8 89.7h0M597.6 70.4h0M596.3 63.4h0M604.6 76.9h0M604.7 74.8h0M588.2 62.4h0M593.2 67.5h0M588.1 80.6h0M598.1 83.5h0M591.5 89.2h0M599.7 96.3h0M609.8 42.8h0M591.5 81h0M606.8 59.2h0M598.6 56.5h0M594.8 67.6h0M595 80.1h0M595.3 58.9h0M603.1 95.6h0M614.7 42.8h0M597.5 68.9h0M593.5 80.2h0M608.1 56.8h0M603.2 55h0M589.4 91.8h0M604.8 64.7h0M593.6 83.8h0M599 75.3h0M603.6 58.3h0M591.3 86.4h0M594.9 91.4h0M601.1 75.7h0M582.5 67.3h0M592.8 61.1h0M578.9 80.9h0M598.4 52.7h0M594.6 79.8h0M586.2 93.6h0M589.2 93.4h0M579.4 85.8h0M594.9 70.9h0M587.4 100.4h0M596.4 43h0M604.4 57.7h0M591.3 101.9h0M585.5 110.9h0M608.1 63.5h0M590 80.7h0M606.7 83.9h0M600.3 74.4h0M607.3 68.8h0M591.6 84.7h0M579.9 76.5h0M591 100.9h0M597.3 79.4h0M613.3 80.7h0M587.9 85.3h0M600.8 72h0M583.3 60.7h0M592.7 94.9h0M606.6 66.7h0M605.5 72.6h0M600.4 74.1h0M597 87.8h0M600.8 91.1h0M605.4 79.8h0M594.9 91h0M594.9 67.1h0M597.8 80.1h0M599.3 56.6h0M579.4 106.2h0M593.7 105.6h0M592.8 89.9h0M595.4 84.7h0M589.7 56.5h0M606 85.3h0M603.4 61h0M596.9 82.6h0M625.1 61.2h0M604 58.7h0M608.7 75.4h0M599.7 49.7h0M602.2 63.8h0M606.6 57.8h0M589.8 86.6h0M582.3 84.8h0M616 46.4h0M580.5 102.2h0M583.5 90.2h0M594 91.8h0M590.4 87.4h0M597.5 74.3h0M611.6 89.5h0M604.3 70.4h0M576.3 104.6h0M590.6 72.3h0M598.4 92.3h0M594.8 84.7h0M577 99.2h0M590.3 68.7h0M606.8 69h0M596.2 57.4h0M590.9 71.7h0M583.3 102.7h0M605.8 87.8h0M620.1 60.2h0M588.7 77.6h0M606 72.5h0M597 92.5h0M585.9 82.1h0M582.4 95.9h0M599.8 87.7h0M595.3 77h0M589.5 88.3h0M598.9 99h0M600.9 77.3h0M621.2 51.4h0M595.4 91.4h0M589.4 106h0M586.7 79.7h0M601.5 61h0M604.5 75.4h0M594.9 78.6h0M606.1 81.5h0M597.8 78h0M594.5 100.7h0M592 88.7h0M597.2 76.6h0M599.1 86.3h0M593.4 84.8h0M586.7 88h0M586.4 71.9h0M608 76.8h0M591.3 103.6h0M614.4 74h0M583.5 101.8h0M596 74.5h0M593.7 65.7h0M584 108.2h0M579.4 94.2h0M588.1 81.4h0M608 74h0M587.7 90.6h0M599.4 89.1h0M600.1 61.3h0M602.1 66.9h0M573.6 115.5h0M589.7 83.7h0M576.1 116.2h0M600.2 71.7h0M602.9 62.6h0M606.5 97.2h0M603.2 79.3h0M607.8 73.3h0M606.1 43h0M600.1 69.1h0M604.9 63.3h0M587.8 89.4h0M598.3 76h0M586.3 79.9h0M590.1 83h0M597.7 70.3h0M609.8 69h0M594.4 97.7h0M602.6 70h0M596.9 77.7h0M609.4 87.1h0M603.2 86.7h0M591.5 91.3h0M605.9 51.7h0M599.5 68.6h0M595.3 58.8h0M613 94.1h0M596.6 74.3h0M590.3 64.5h0M575.5 104.3h0M581.7 86.6h0M605.1 83.6h0M564.3 103.2h0M606 71.2h0M584.9 109h0M584.8 74.7h0M605.5 69.9h0M579 88.7h0M590.2 106.9h0M587.2 75.9h0M593.6 88.9h0M607.2 58.9h0M614.1 77.2h0M579.9 77.4h0M586 92.1h0M621 54.9h0M603.8 78.3h0M616.2 82.4h0M615.2 63.8h0M597.5 61.2h0M589 68.1h0M605.6 74.4h0M601 56.7h0M612 65.5h0M601.4 88.9h0M620.8 56.9h0M581 91.1h0M580.3 78.6h0M591.9 110.6h0M585.5 71.6h0M597.8 65.1h0M589.7 75.6h0M609.5 84.1h0M598.2 96.6h0M601 60.1h0M591.4 86.1h0M596.6 64.3h0M592.9 96.5h0M587.5 77.1h0M599.3 68.1h0M577.3 112.7h0M591.9 85.8h0M590.2 59.7h0M608.1 77.4h0M593.4 65.8h0M579.1 93.5h0M594.9 91.8h0M599.8 82.1h0M600.9 87.7h0M604.9 47h0M604.1 91.7h0M601.3 89.6h0M610 65.6h0M593.2 67.9h0M601.9 90.6h0M598.5 87.9h0M600.5 77.5h0M601.5 78.2h0M593.6 80h0M594.2 88.8h0M597 78.1h0M574.6 88.3h0M600 90.3h0M605.9 91.2h0M594.6 89.9h0M592.7 80.1h0M594.3 45.3h0M607.3 57.2h0M591.4 76h0M606.4 108.1h0M582.3 116.1h0M590.4 75.2h0M611.3 72.7h0M591 92.8h0M582.3 80.6h0M599.1 60h0M591.7 75h0M595.6 76.6h0M601.7 97.8h0M591.7 85.6h0M600.7 63.2h0M593.8 83.5h0M596.7 97.9h0M593.7 113.1h0M583.1 95.2h0M587.8 78.7h0M589.8 94.3h0M603.7 74.6h0M588.2 80.3h0M586.4 94.2h0M597.9 78.7h0M603.3 80.6h0M597.3 87.4h0M593.1 74.9h0M581.3 84.4h0M600.5 77.5h0M607 87.8h0M593.7 75.1h0M598.5 65.6h0M588.1 76h0M589.8 74.7h0M597.7 76.9h0M594.9 82.5h0M601.3 66.4h0M598.2 68.1h0M591.8 74h0M590.4 94.8h0M601.5 97.5h0M584.8 83.5h0M601.2 69.1h0M592.8 77.5h0M582.8 83.2h0M587.1 106.7h0M592.5 89.8h0M620.1 48h0M594.8 85.7h0M583.9 91.5h0M605.3 50.8h0M585.9 77.4h0M582.9 96.6h0M599.6 71.1h0M605.8 78.9h0M615.5 54.8h0M599.5 92.7h0M588.6 106.7h0M596.7 57.4h0M609.3 52.8h0M612 75.5h0M588.2 78.8h0M612.7 94.9h0M594.2 79h0M584.9 73.2h0M602.9 61.8h0M597.7 74.2h0M582.1 91.3h0M586.9 83.1h0M596.6 50h0M600.7 79.6h0M585.4 84.4h0M607.1 57.6h0M587.9 96.6h0M587 65.9h0M603.2 96.6h0M608.2 69.7h0M593.2 86.2h0M594.2 80.4h0M599.7 91.4h0M607.2 72.8h0M592.2 77.5h0M594.5 90.1h0M590.3 71.4h0M580 118.4h0M602.8 73.9h0M592.3 60.2h0M606 81.3h0M591.5 81h0M609.2 70.8h0M598.5 83.2h0M606.2 60.2h0M583.9 106.3h0M589.7 76.8h0M590.8 101.1h0M614.5 64.8h0M600.5 63.8h0M591.4 89.9h0M574.6 97h0M586.8 56.9h0M609.3 64.1h0M591.5 78.6h0M602.1 64h0M580.1 84.9h0M600.1 74.4h0M606.5 72.2h0M600.5 71h0M586.6 82h0M585.7 69.9h0M601.9 71.7h0M585.8 76.8h0M582.3 64.8h0M597.6 98.3h0M585.3 90.7h0M584.8 91.7h0M594.1 82.1h0M594.9 60.7h0M582.7 93.9h0M596.1 75.6h0M608 45.5h0M602.9 100h0M606.2 85.6h0M605.6 84.8h0M596.7 77.3h0M598.5 69.1h0M586.5 98.3h0M587.2 68h0M588.6 63.6h0M584.5 88.9h0M588.2 87.4h0M580.9 102.8h0M606.5 61h0M589.8 90.5h0M611.2 75.7h0M613.9 62.6h0M597 111.9h0M583.8 69.7h0M557.8 117.9h0M601.7 57.4h0M604.6 89.3h0M597.6 108.1h0M583.7 102.9h0M613.2 56.7h0M595.8 57.9h0M607 46.4h0M609 48.8h0M612 75.7h0M607.1 76.4h0M572.3 92.3h0M602.4 60.6h0M595.3 93.2h0M588.5 99.2h0M582.9 109.9h0M581.9 71.2h0M589.3 98.1h0M592.1 76.5h0M597.5 75.2h0M567.4 94.9h0M582.7 113.2h0M607 67.4h0M613.5 48.5h0M592.2 71.3h0M589.1 89.4h0M625.5 40.1h0M580.7 87h0M612.6 68.2h0M609.6 64.5h0M602.4 36.3h0M613.1 70.1h0M607.1 91.7h0M594.4 68h0M608 54.6h0M635.6 34.9h0M599.8 75.9h0M612.6 47.2h0M626.4 20h0M582.9 65.6h0M596.7 109.2h0M582.1 102.5h0M598.9 70.8h0M589.1 117.2h0M615.2 32.7h0M592.8 67.3h0M607.8 79.3h0M600.1 89.5h0M604 52h0M583.1 93.4h0M612 58.4h0" stroke="#b4e38e" stroke-width="1.4" stroke-linecap="square"/>
<path d="M577 98.7h0M576.8 112h0M579.9 101.5h0M582.3 96.7h0M586.1 109.4h0M579.6 103h0M585.9 99.5h0M579.9 106h0M577.9 103.4h0M580 109.4h0M579.8 103.9h0M576 109.3h0M573.1 102.7h0M584.5 102.4h0M583.1 102.7h0M585.6 97.2h0M574.4 103.9h0M580.3 107.2h0M575.5 106.9h0M588.3 104.8h0M590.1 97.8h0M585 95.6h0M588.8 90.9h0M575 101.4h0M581.3 107.4h0M583.1 99h0M584.7 107.8h0M582.5 110.3h0M585.5 107.5h0M583.5 100.9h0M580.7 112.3h0M588.1 98.5h0M580.1 104.7h0M585.7 93.3h0M585 102.4h0M576.9 107.2h0M580.2 109.8h0M592.3 104.2h0M582.5 102.1h0M585.7 109.4h0M580.3 117.8h0M587.7 104.5h0M582.8 104.1h0M587.2 103h0M586.8 103.9h0M578.5 109.4h0M582.6 111.4h0M585.7 94.8h0M577.8 101.3h0M582.9 101.5h0M581.5 106.3h0M585.7 106.5h0M577.6 106.5h0M584.7 99.5h0M586.9 101.5h0M580.2 104.4h0M580.6 101.1h0M586.1 105.7h0M580.1 108.8h0M585 104.6h0M570.8 107.5h0M589.5 104.8h0M594.3 98.1h0M562.3 128.6h0M564.9 110.8h0M572.5 113h0M553.9 115.3h0M566.6 109h0M585.2 123.5h0M565.2 114h0M567.8 110.1h0M582.6 100.2h0M589.4 127.1h0M570.2 112.3h0M572.2 129h0M575.2 121.3h0M581.1 108.1h0M555.7 117.4h0M575.3 113.1h0M568.4 120.6h0M575.1 118.4h0M578.4 105.1h0M549.8 117.5h0M582.1 109.7h0M573.2 132.6h0M569.2 139.7h0M577.4 129.1h0M577.4 118.1h0M592.4 98.9h0M579.9 116.1h0M612.2 44.3h0M614 38.6h0M613.4 54h0M612.5 50.4h0M610.9 44.3h0M611.3 50.4h0M613.7 41.8h0M614.7 41.3h0M611.9 40.6h0M618.7 52h0M609.5 46h0M616.9 39.3h0M611.3 48.3h0M617.6 39.2h0M609.8 48.1h0M614.6 50.9h0M619.2 35.4h0M618.5 51h0M610.7 45.9h0M611.8 46.8h0M609.1 49.9h0M612.9 48.6h0M607.2 56.1h0M612.7 44.6h0M610.6 51.9h0M614 36.3h0M613.4 47.7h0M614.2 53.5h0M614.6 43.5h0M619.1 39.6h0M613.3 40h0M612 47.8h0M619.7 43.9h0M599.8 50.7h0M609.9 43.9h0M609.7 40h0M622 38.1h0M617.6 46.1h0M617.3 45.2h0M614.7 45.6h0M621.1 37.4h0M618.6 36.2h0M621.8 36.4h0M626.7 32.7h0M626.7 33.8h0M618.6 35.6h0M625.7 38.2h0M622.9 46.7h0M645.4 10.2h0M632.4 17h0M641.4 27.9h0M641.9 34.3h0M636.7 40.6h0M630.8 44.2h0M553.2 138.2h0M568.8 143.4h0M548 112.3h0M560.1 127.8h0" stroke="#4aa63b" stroke-width="1.6" stroke-linecap="square"/>
<text x="66.3" y="205.4" font-size="8.8" stroke="#111" stroke-width="0.08" text-anchor="middle" fill="#111">CD23</text>
<line x1="32.5" y1="212.2" x2="32.5" y2="326" stroke="#3a3a3a" stroke-width="1"/>
<line x1="32" y1="325.5" x2="108" y2="325.5" stroke="#3a3a3a" stroke-width="1"/>
<line x1="29.2" y1="223.5" x2="32.5" y2="223.5" stroke="#444" stroke-width="0.9"/>
<text x="26" y="225.8" font-size="6.3" stroke="#333" stroke-width="0.1" text-anchor="end" fill="#333">10000</text>
<line x1="29.2" y1="254.7" x2="32.5" y2="254.7" stroke="#444" stroke-width="0.9"/>
<text x="26" y="257" font-size="6.3" stroke="#333" stroke-width="0.1" text-anchor="end" fill="#333">5000</text>
<line x1="29.2" y1="295.6" x2="32.5" y2="295.6" stroke="#444" stroke-width="0.9"/>
<text x="26" y="297.9" font-size="6.3" stroke="#333" stroke-width="0.1" text-anchor="end" fill="#333">2000</text>
<line x1="43.85" y1="224.6" x2="43.85" y2="238" stroke="#777" stroke-width="0.9"/>
<line x1="43.85" y1="251.3" x2="43.85" y2="273.4" stroke="#777" stroke-width="0.9"/>
<line x1="39.85" y1="224.6" x2="47.85" y2="224.6" stroke="#555" stroke-width="0.9"/>
<line x1="39.85" y1="273.4" x2="47.85" y2="273.4" stroke="#555" stroke-width="0.9"/>
<rect x="36.2" y="238" width="15.3" height="13.3" fill="#d4875f" stroke="#474747" stroke-width="0.9"/>
<line x1="36.2" y1="244.3" x2="51.5" y2="244.3" stroke="#474747" stroke-width="1"/>
<circle cx="43.85" cy="217.2" r="2.1" fill="none" stroke="#4a4a4a" stroke-width="0.85"/>
<circle cx="43.85" cy="219.6" r="2.1" fill="none" stroke="#4a4a4a" stroke-width="0.85"/>
<circle cx="43.85" cy="286" r="2.1" fill="none" stroke="#4a4a4a" stroke-width="0.85"/>
<line x1="59.05" y1="226.5" x2="59.05" y2="240.2" stroke="#777" stroke-width="0.9"/>
<line x1="59.05" y1="262.4" x2="59.05" y2="270.2" stroke="#777" stroke-width="0.9"/>
<line x1="55.05" y1="226.5" x2="63.05" y2="226.5" stroke="#555" stroke-width="0.9"/>
<line x1="55.05" y1="270.2" x2="63.05" y2="270.2" stroke="#555" stroke-width="0.9"/>
<rect x="51.5" y="240.2" width="15.1" height="22.2" fill="#5a7db9" stroke="#474747" stroke-width="0.9"/>
<line x1="51.5" y1="244.3" x2="66.6" y2="244.3" stroke="#474747" stroke-width="1"/>
<line x1="81.85" y1="233.5" x2="81.85" y2="253.3" stroke="#777" stroke-width="0.9"/>
<line x1="81.85" y1="276.1" x2="81.85" y2="303.2" stroke="#777" stroke-width="0.9"/>
<line x1="77.85" y1="233.5" x2="85.85" y2="233.5" stroke="#555" stroke-width="0.9"/>
<line x1="77.85" y1="303.2" x2="85.85" y2="303.2" stroke="#555" stroke-width="0.9"/>
<rect x="74.4" y="253.3" width="14.9" height="22.8" fill="#d4875f" stroke="#474747" stroke-width="0.9"/>
<line x1="74.4" y1="264.3" x2="89.3" y2="264.3" stroke="#474747" stroke-width="1"/>
<circle cx="81.85" cy="219.6" r="2.1" fill="none" stroke="#4a4a4a" stroke-width="0.85"/>
<circle cx="81.85" cy="221.8" r="2.1" fill="none" stroke="#4a4a4a" stroke-width="0.85"/>
<circle cx="81.85" cy="224.5" r="2.1" fill="none" stroke="#4a4a4a" stroke-width="0.85"/>
<circle cx="81.85" cy="227" r="2.1" fill="none" stroke="#4a4a4a" stroke-width="0.85"/>
<circle cx="81.85" cy="229.5" r="2.1" fill="none" stroke="#4a4a4a" stroke-width="0.85"/>
<circle cx="81.85" cy="231.2" r="2.1" fill="none" stroke="#4a4a4a" stroke-width="0.85"/>
<line x1="96.95" y1="252.4" x2="96.95" y2="271.9" stroke="#777" stroke-width="0.9"/>
<line x1="96.95" y1="292.6" x2="96.95" y2="320.2" stroke="#777" stroke-width="0.9"/>
<line x1="92.95" y1="252.4" x2="100.95" y2="252.4" stroke="#555" stroke-width="0.9"/>
<line x1="92.95" y1="320.2" x2="100.95" y2="320.2" stroke="#555" stroke-width="0.9"/>
<rect x="89.3" y="271.9" width="15.3" height="20.7" fill="#5a7db9" stroke="#474747" stroke-width="0.9"/>
<line x1="89.3" y1="281.7" x2="104.6" y2="281.7" stroke="#474747" stroke-width="1"/>
<circle cx="96.95" cy="235.2" r="2.1" fill="none" stroke="#4a4a4a" stroke-width="0.85"/>
<circle cx="96.95" cy="243.4" r="2.1" fill="none" stroke="#4a4a4a" stroke-width="0.85"/>
<circle cx="96.95" cy="245.5" r="2.1" fill="none" stroke="#4a4a4a" stroke-width="0.85"/>
<circle cx="96.95" cy="247.8" r="2.1" fill="none" stroke="#4a4a4a" stroke-width="0.85"/>
<circle cx="96.95" cy="250" r="2.1" fill="none" stroke="#4a4a4a" stroke-width="0.85"/>
<line x1="51.4" y1="325.5" x2="51.4" y2="328.9" stroke="#3a3a3a" stroke-width="0.9"/>
<text x="51.4" y="336.4" font-size="6.6" stroke="#222" stroke-width="0.1" text-anchor="middle" fill="#222">No</text>
<line x1="89.3" y1="325.5" x2="89.3" y2="328.9" stroke="#3a3a3a" stroke-width="0.9"/>
<text x="89.3" y="336.4" font-size="6.6" stroke="#222" stroke-width="0.1" text-anchor="middle" fill="#222">Yes</text>
<text x="70.3" y="345" font-size="6.8" stroke="#222" stroke-width="0.1" text-anchor="middle" fill="#222">Corticosteroids</text>
<text x="7.4" y="267.8" font-size="7.8" stroke="#111" stroke-width="0.1" text-anchor="middle" fill="#111" transform="rotate(-90 7.4 267.8)">CD23 (RFUs)</text>
<text x="67.6" y="361.8" font-size="7" stroke="#222" stroke-width="0.1" text-anchor="middle" fill="#222">Site</text>
<rect x="45.9" y="366" width="3.6" height="4.4" fill="#d4875f" stroke="#777" stroke-width="0.4"/>
<rect x="45.9" y="374.2" width="3.6" height="4.4" fill="#5a7db9" stroke="#777" stroke-width="0.4"/>
<text x="52.3" y="370.3" font-size="7.1" stroke="#222" stroke-width="0.1" fill="#222">LUMC (-1.006)</text>
<text x="52.3" y="378.5" font-size="7.1" stroke="#222" stroke-width="0.1" fill="#222">UF (-1.425)</text>
<text x="189.5" y="205.4" font-size="8.8" stroke="#111" stroke-width="0.08" text-anchor="middle" fill="#111">MMP3</text>
<line x1="152.5" y1="212.4" x2="152.5" y2="326" stroke="#3a3a3a" stroke-width="1"/>
<line x1="152" y1="325.5" x2="227.7" y2="325.5" stroke="#3a3a3a" stroke-width="1"/>
<line x1="149.2" y1="229" x2="152.5" y2="229" stroke="#444" stroke-width="0.9"/>
<text x="146" y="231.3" font-size="6.3" stroke="#333" stroke-width="0.1" text-anchor="end" fill="#333">5000</text>
<line x1="149.2" y1="253.8" x2="152.5" y2="253.8" stroke="#444" stroke-width="0.9"/>
<text x="146" y="256.1" font-size="6.3" stroke="#333" stroke-width="0.1" text-anchor="end" fill="#333">2000</text>
<line x1="149.2" y1="273" x2="152.5" y2="273" stroke="#444" stroke-width="0.9"/>
<text x="146" y="275.3" font-size="6.3" stroke="#333" stroke-width="0.1" text-anchor="end" fill="#333">1000</text>
<line x1="149.2" y1="291.8" x2="152.5" y2="291.8" stroke="#444" stroke-width="0.9"/>
<text x="146" y="294.1" font-size="6.3" stroke="#333" stroke-width="0.1" text-anchor="end" fill="#333">500</text>
<line x1="149.2" y1="316.6" x2="152.5" y2="316.6" stroke="#444" stroke-width="0.9"/>
<text x="146" y="318.9" font-size="6.3" stroke="#333" stroke-width="0.1" text-anchor="end" fill="#333">200</text>
<line x1="163.3" y1="305" x2="163.3" y2="310.6" stroke="#777" stroke-width="0.9"/>
<line x1="163.3" y1="314.9" x2="163.3" y2="320" stroke="#777" stroke-width="0.9"/>
<line x1="159.3" y1="305" x2="167.3" y2="305" stroke="#555" stroke-width="0.9"/>
<line x1="159.3" y1="320" x2="167.3" y2="320" stroke="#555" stroke-width="0.9"/>
<rect x="155.6" y="310.6" width="15.4" height="4.3" fill="#d4875f" stroke="#474747" stroke-width="0.9"/>
<line x1="155.6" y1="312.5" x2="171" y2="312.5" stroke="#474747" stroke-width="1"/>
<circle cx="163.3" cy="293.6" r="2.1" fill="none" stroke="#4a4a4a" stroke-width="0.85"/>
<circle cx="163.3" cy="296.05" r="2.1" fill="none" stroke="#4a4a4a" stroke-width="0.85"/>
<circle cx="163.3" cy="298.5" r="2.1" fill="none" stroke="#4a4a4a" stroke-width="0.85"/>
<circle cx="163.3" cy="300.95" r="2.1" fill="none" stroke="#4a4a4a" stroke-width="0.85"/>
<circle cx="163.3" cy="303.4" r="2.1" fill="none" stroke="#4a4a4a" stroke-width="0.85"/>
<line x1="178.8" y1="303.5" x2="178.8" y2="307.8" stroke="#777" stroke-width="0.9"/>
<line x1="178.8" y1="313.2" x2="178.8" y2="314.9" stroke="#777" stroke-width="0.9"/>
<line x1="174.8" y1="303.5" x2="182.8" y2="303.5" stroke="#555" stroke-width="0.9"/>
<line x1="174.8" y1="314.9" x2="182.8" y2="314.9" stroke="#555" stroke-width="0.9"/>
<rect x="171" y="307.8" width="15.6" height="5.4" fill="#5a7db9" stroke="#474747" stroke-width="0.9"/>
<line x1="171" y1="310.2" x2="186.6" y2="310.2" stroke="#474747" stroke-width="1"/>
<line x1="201.6" y1="246.6" x2="201.6" y2="265.5" stroke="#777" stroke-width="0.9"/>
<line x1="201.6" y1="299.5" x2="201.6" y2="317.7" stroke="#777" stroke-width="0.9"/>
<line x1="197.6" y1="246.6" x2="205.6" y2="246.6" stroke="#555" stroke-width="0.9"/>
<line x1="197.6" y1="317.7" x2="205.6" y2="317.7" stroke="#555" stroke-width="0.9"/>
<rect x="193.9" y="265.5" width="15.4" height="34" fill="#d4875f" stroke="#474747" stroke-width="0.9"/>
<line x1="193.9" y1="281.3" x2="209.3" y2="281.3" stroke="#474747" stroke-width="1"/>
<circle cx="201.6" cy="226" r="2.1" fill="none" stroke="#4a4a4a" stroke-width="0.85"/>
<circle cx="201.6" cy="228.2" r="2.1" fill="none" stroke="#4a4a4a" stroke-width="0.85"/>
<circle cx="201.6" cy="234" r="2.1" fill="none" stroke="#4a4a4a" stroke-width="0.85"/>
<circle cx="201.6" cy="237.5" r="2.1" fill="none" stroke="#4a4a4a" stroke-width="0.85"/>
<circle cx="201.6" cy="239.8" r="2.1" fill="none" stroke="#4a4a4a" stroke-width="0.85"/>
<circle cx="201.6" cy="242" r="2.1" fill="none" stroke="#4a4a4a" stroke-width="0.85"/>
<circle cx="201.6" cy="244.2" r="2.1" fill="none" stroke="#4a4a4a" stroke-width="0.85"/>
<circle cx="201.6" cy="245.5" r="2.1" fill="none" stroke="#4a4a4a" stroke-width="0.85"/>
<line x1="216.85" y1="230.6" x2="216.85" y2="246.1" stroke="#777" stroke-width="0.9"/>
<line x1="216.85" y1="269.1" x2="216.85" y2="298.6" stroke="#777" stroke-width="0.9"/>
<line x1="212.85" y1="230.6" x2="220.85" y2="230.6" stroke="#555" stroke-width="0.9"/>
<line x1="212.85" y1="298.6" x2="220.85" y2="298.6" stroke="#555" stroke-width="0.9"/>
<rect x="209.3" y="246.1" width="15.1" height="23" fill="#5a7db9" stroke="#474747" stroke-width="0.9"/>
<line x1="209.3" y1="258.4" x2="224.4" y2="258.4" stroke="#474747" stroke-width="1"/>
<circle cx="216.85" cy="217" r="2.1" fill="none" stroke="#4a4a4a" stroke-width="0.85"/>
<circle cx="216.85" cy="220.5" r="2.1" fill="none" stroke="#4a4a4a" stroke-width="0.85"/>
<circle cx="216.85" cy="223.5" r="2.1" fill="none" stroke="#4a4a4a" stroke-width="0.85"/>
<circle cx="216.85" cy="225.5" r="2.1" fill="none" stroke="#4a4a4a" stroke-width="0.85"/>
<circle cx="216.85" cy="227.5" r="2.1" fill="none" stroke="#4a4a4a" stroke-width="0.85"/>
<circle cx="216.85" cy="229.2" r="2.1" fill="none" stroke="#4a4a4a" stroke-width="0.85"/>
<line x1="171" y1="325.5" x2="171" y2="328.9" stroke="#3a3a3a" stroke-width="0.9"/>
<text x="171" y="336.4" font-size="6.6" stroke="#222" stroke-width="0.1" text-anchor="middle" fill="#222">No</text>
<line x1="208.8" y1="325.5" x2="208.8" y2="328.9" stroke="#3a3a3a" stroke-width="0.9"/>
<text x="208.8" y="336.4" font-size="6.6" stroke="#222" stroke-width="0.1" text-anchor="middle" fill="#222">Yes</text>
<text x="189.9" y="345" font-size="6.8" stroke="#222" stroke-width="0.1" text-anchor="middle" fill="#222">Corticosteroids</text>
<text x="128.2" y="266.4" font-size="7.8" stroke="#111" stroke-width="0.1" text-anchor="middle" fill="#111" transform="rotate(-90 128.2 266.4)">MMP3 (RFUs)</text>
<text x="190.8" y="361.8" font-size="7" stroke="#222" stroke-width="0.1" text-anchor="middle" fill="#222">Site</text>
<rect x="169.2" y="366" width="3.6" height="4.4" fill="#d4875f" stroke="#777" stroke-width="0.4"/>
<rect x="169.2" y="374.2" width="3.6" height="4.4" fill="#5a7db9" stroke="#777" stroke-width="0.4"/>
<text x="174.6" y="370.3" font-size="7.1" stroke="#222" stroke-width="0.1" fill="#222">LUMC (1.365)</text>
<text x="174.6" y="378.5" font-size="7.1" stroke="#222" stroke-width="0.1" fill="#222">UF (1.841)</text>
<text x="313" y="205.4" font-size="8.8" stroke="#111" stroke-width="0.08" text-anchor="middle" fill="#111">IGLL1</text>
<line x1="273.5" y1="211.3" x2="273.5" y2="326" stroke="#3a3a3a" stroke-width="1"/>
<line x1="273" y1="325.5" x2="349.6" y2="325.5" stroke="#3a3a3a" stroke-width="1"/>
<line x1="270.2" y1="216" x2="273.5" y2="216" stroke="#444" stroke-width="0.9"/>
<text x="267" y="218.3" font-size="6.3" stroke="#333" stroke-width="0.1" text-anchor="end" fill="#333">20000</text>
<line x1="270.2" y1="235.6" x2="273.5" y2="235.6" stroke="#444" stroke-width="0.9"/>
<text x="267" y="237.9" font-size="6.3" stroke="#333" stroke-width="0.1" text-anchor="end" fill="#333">10000</text>
<line x1="270.2" y1="255.7" x2="273.5" y2="255.7" stroke="#444" stroke-width="0.9"/>
<text x="267" y="258" font-size="6.3" stroke="#333" stroke-width="0.1" text-anchor="end" fill="#333">5000</text>
<line x1="270.2" y1="282.3" x2="273.5" y2="282.3" stroke="#444" stroke-width="0.9"/>
<text x="267" y="284.6" font-size="6.3" stroke="#333" stroke-width="0.1" text-anchor="end" fill="#333">2000</text>
<line x1="270.2" y1="302.4" x2="273.5" y2="302.4" stroke="#444" stroke-width="0.9"/>
<text x="267" y="304.7" font-size="6.3" stroke="#333" stroke-width="0.1" text-anchor="end" fill="#333">1000</text>
<line x1="284.95" y1="229.7" x2="284.95" y2="241.5" stroke="#777" stroke-width="0.9"/>
<line x1="284.95" y1="262.5" x2="284.95" y2="297.3" stroke="#777" stroke-width="0.9"/>
<line x1="280.95" y1="229.7" x2="288.95" y2="229.7" stroke="#555" stroke-width="0.9"/>
<line x1="280.95" y1="297.3" x2="288.95" y2="297.3" stroke="#555" stroke-width="0.9"/>
<rect x="277.5" y="241.5" width="14.9" height="21" fill="#d4875f" stroke="#474747" stroke-width="0.9"/>
<line x1="277.5" y1="251.4" x2="292.4" y2="251.4" stroke="#474747" stroke-width="1"/>
<circle cx="284.95" cy="217.2" r="2.1" fill="none" stroke="#4a4a4a" stroke-width="0.85"/>
<line x1="299.95" y1="221.4" x2="299.95" y2="237.2" stroke="#777" stroke-width="0.9"/>
<line x1="299.95" y1="258.5" x2="299.95" y2="271.3" stroke="#777" stroke-width="0.9"/>
<line x1="295.95" y1="221.4" x2="303.95" y2="221.4" stroke="#555" stroke-width="0.9"/>
<line x1="295.95" y1="271.3" x2="303.95" y2="271.3" stroke="#555" stroke-width="0.9"/>
<rect x="292.4" y="237.2" width="15.1" height="21.3" fill="#5a7db9" stroke="#474747" stroke-width="0.9"/>
<line x1="292.4" y1="253.3" x2="307.5" y2="253.3" stroke="#474747" stroke-width="1"/>
<line x1="322.75" y1="257.2" x2="322.75" y2="274.3" stroke="#777" stroke-width="0.9"/>
<line x1="322.75" y1="300" x2="322.75" y2="319.1" stroke="#777" stroke-width="0.9"/>
<line x1="318.75" y1="257.2" x2="326.75" y2="257.2" stroke="#555" stroke-width="0.9"/>
<line x1="318.75" y1="319.1" x2="326.75" y2="319.1" stroke="#555" stroke-width="0.9"/>
<rect x="315.1" y="274.3" width="15.3" height="25.7" fill="#d4875f" stroke="#474747" stroke-width="0.9"/>
<line x1="315.1" y1="286.4" x2="330.4" y2="286.4" stroke="#474747" stroke-width="1"/>
<circle cx="322.75" cy="233.6" r="2.1" fill="none" stroke="#4a4a4a" stroke-width="0.85"/>
<circle cx="322.75" cy="240" r="2.1" fill="none" stroke="#4a4a4a" stroke-width="0.85"/>
<circle cx="322.75" cy="242.58" r="2.1" fill="none" stroke="#4a4a4a" stroke-width="0.85"/>
<circle cx="322.75" cy="245.17" r="2.1" fill="none" stroke="#4a4a4a" stroke-width="0.85"/>
<circle cx="322.75" cy="247.75" r="2.1" fill="none" stroke="#4a4a4a" stroke-width="0.85"/>
<circle cx="322.75" cy="250.33" r="2.1" fill="none" stroke="#4a4a4a" stroke-width="0.85"/>
<circle cx="322.75" cy="252.92" r="2.1" fill="none" stroke="#4a4a4a" stroke-width="0.85"/>
<circle cx="322.75" cy="255.5" r="2.1" fill="none" stroke="#4a4a4a" stroke-width="0.85"/>
<line x1="338.2" y1="269" x2="338.2" y2="286.2" stroke="#777" stroke-width="0.9"/>
<line x1="338.2" y1="309" x2="338.2" y2="320" stroke="#777" stroke-width="0.9"/>
<line x1="334.2" y1="269" x2="342.2" y2="269" stroke="#555" stroke-width="0.9"/>
<line x1="334.2" y1="320" x2="342.2" y2="320" stroke="#555" stroke-width="0.9"/>
<rect x="330.4" y="286.2" width="15.6" height="22.8" fill="#5a7db9" stroke="#474747" stroke-width="0.9"/>
<line x1="330.4" y1="300.2" x2="346" y2="300.2" stroke="#474747" stroke-width="1"/>
<circle cx="338.2" cy="231.3" r="2.1" fill="none" stroke="#4a4a4a" stroke-width="0.85"/>
<circle cx="338.2" cy="243.4" r="2.1" fill="none" stroke="#4a4a4a" stroke-width="0.85"/>
<circle cx="338.2" cy="250.6" r="2.1" fill="none" stroke="#4a4a4a" stroke-width="0.85"/>
<circle cx="338.2" cy="253.33" r="2.1" fill="none" stroke="#4a4a4a" stroke-width="0.85"/>
<circle cx="338.2" cy="256.07" r="2.1" fill="none" stroke="#4a4a4a" stroke-width="0.85"/>
<circle cx="338.2" cy="258.8" r="2.1" fill="none" stroke="#4a4a4a" stroke-width="0.85"/>
<circle cx="338.2" cy="261.53" r="2.1" fill="none" stroke="#4a4a4a" stroke-width="0.85"/>
<circle cx="338.2" cy="264.27" r="2.1" fill="none" stroke="#4a4a4a" stroke-width="0.85"/>
<circle cx="338.2" cy="267" r="2.1" fill="none" stroke="#4a4a4a" stroke-width="0.85"/>
<line x1="292.6" y1="325.5" x2="292.6" y2="328.9" stroke="#3a3a3a" stroke-width="0.9"/>
<text x="292.6" y="336.4" font-size="6.6" stroke="#222" stroke-width="0.1" text-anchor="middle" fill="#222">No</text>
<line x1="330.4" y1="325.5" x2="330.4" y2="328.9" stroke="#3a3a3a" stroke-width="0.9"/>
<text x="330.4" y="336.4" font-size="6.6" stroke="#222" stroke-width="0.1" text-anchor="middle" fill="#222">Yes</text>
<text x="311.5" y="345" font-size="6.8" stroke="#222" stroke-width="0.1" text-anchor="middle" fill="#222">Corticosteroids</text>
<text x="246" y="272.6" font-size="7.8" stroke="#111" stroke-width="0.1" text-anchor="middle" fill="#111" transform="rotate(-90 246 272.6)">IGLL1 (RFUs)</text>
<text x="310.3" y="361.8" font-size="7" stroke="#222" stroke-width="0.1" text-anchor="middle" fill="#222">Site</text>
<rect x="289.3" y="366" width="3.6" height="4.4" fill="#d4875f" stroke="#777" stroke-width="0.4"/>
<rect x="289.3" y="374.2" width="3.6" height="4.4" fill="#5a7db9" stroke="#777" stroke-width="0.4"/>
<text x="294.5" y="370.3" font-size="7.1" stroke="#222" stroke-width="0.1" fill="#222">LUMC (-1.331)</text>
<text x="294.5" y="378.5" font-size="7.1" stroke="#222" stroke-width="0.1" fill="#222">UF (-1.882)</text>
<text x="435" y="205.4" font-size="8.8" stroke="#111" stroke-width="0.08" text-anchor="middle" fill="#111">RGMA</text>
<line x1="397.5" y1="212.4" x2="397.5" y2="326" stroke="#3a3a3a" stroke-width="1"/>
<line x1="397" y1="325.5" x2="473.6" y2="325.5" stroke="#3a3a3a" stroke-width="1"/>
<line x1="394.2" y1="232.4" x2="397.5" y2="232.4" stroke="#444" stroke-width="0.9"/>
<text x="391" y="234.7" font-size="6.3" stroke="#333" stroke-width="0.1" text-anchor="end" fill="#333">20000</text>
<line x1="394.2" y1="283.2" x2="397.5" y2="283.2" stroke="#444" stroke-width="0.9"/>
<text x="391" y="285.5" font-size="6.3" stroke="#333" stroke-width="0.1" text-anchor="end" fill="#333">10000</text>
<line x1="394.2" y1="299.3" x2="397.5" y2="299.3" stroke="#444" stroke-width="0.9"/>
<text x="391" y="301.6" font-size="6.3" stroke="#333" stroke-width="0.1" text-anchor="end" fill="#333">8000</text>
<line x1="408.55" y1="243.7" x2="408.55" y2="273.3" stroke="#777" stroke-width="0.9"/>
<line x1="408.55" y1="304.3" x2="408.55" y2="320.1" stroke="#777" stroke-width="0.9"/>
<line x1="404.55" y1="243.7" x2="412.55" y2="243.7" stroke="#555" stroke-width="0.9"/>
<line x1="404.55" y1="320.1" x2="412.55" y2="320.1" stroke="#555" stroke-width="0.9"/>
<rect x="400.9" y="273.3" width="15.3" height="31" fill="#d4875f" stroke="#474747" stroke-width="0.9"/>
<line x1="400.9" y1="294.3" x2="416.2" y2="294.3" stroke="#474747" stroke-width="1"/>
<line x1="423.85" y1="243.7" x2="423.85" y2="258.4" stroke="#777" stroke-width="0.9"/>
<line x1="423.85" y1="282.5" x2="423.85" y2="302.4" stroke="#777" stroke-width="0.9"/>
<line x1="419.85" y1="243.7" x2="427.85" y2="243.7" stroke="#555" stroke-width="0.9"/>
<line x1="419.85" y1="302.4" x2="427.85" y2="302.4" stroke="#555" stroke-width="0.9"/>
<rect x="416.2" y="258.4" width="15.3" height="24.1" fill="#5a7db9" stroke="#474747" stroke-width="0.9"/>
<line x1="416.2" y1="267.4" x2="431.5" y2="267.4" stroke="#474747" stroke-width="1"/>
<line x1="446.75" y1="241.4" x2="446.75" y2="267.2" stroke="#777" stroke-width="0.9"/>
<line x1="446.75" y1="292.5" x2="446.75" y2="317.2" stroke="#777" stroke-width="0.9"/>
<line x1="442.75" y1="241.4" x2="450.75" y2="241.4" stroke="#555" stroke-width="0.9"/>
<line x1="442.75" y1="317.2" x2="450.75" y2="317.2" stroke="#555" stroke-width="0.9"/>
<rect x="439.3" y="267.2" width="14.9" height="25.3" fill="#d4875f" stroke="#474747" stroke-width="0.9"/>
<line x1="439.3" y1="279.3" x2="454.2" y2="279.3" stroke="#474747" stroke-width="1"/>
<circle cx="446.75" cy="230" r="2.1" fill="none" stroke="#4a4a4a" stroke-width="0.85"/>
<circle cx="446.75" cy="237.2" r="2.1" fill="none" stroke="#4a4a4a" stroke-width="0.85"/>
<circle cx="446.75" cy="238.8" r="2.1" fill="none" stroke="#4a4a4a" stroke-width="0.85"/>
<circle cx="446.75" cy="240.2" r="2.1" fill="none" stroke="#4a4a4a" stroke-width="0.85"/>
<line x1="461.9" y1="221.1" x2="461.9" y2="246.6" stroke="#777" stroke-width="0.9"/>
<line x1="461.9" y1="271.8" x2="461.9" y2="295.4" stroke="#777" stroke-width="0.9"/>
<line x1="457.9" y1="221.1" x2="465.9" y2="221.1" stroke="#555" stroke-width="0.9"/>
<line x1="457.9" y1="295.4" x2="465.9" y2="295.4" stroke="#555" stroke-width="0.9"/>
<rect x="454.2" y="246.6" width="15.4" height="25.2" fill="#5a7db9" stroke="#474747" stroke-width="0.9"/>
<line x1="454.2" y1="262.4" x2="469.6" y2="262.4" stroke="#474747" stroke-width="1"/>
<circle cx="461.9" cy="217.6" r="2.1" fill="none" stroke="#4a4a4a" stroke-width="0.85"/>
<line x1="415.7" y1="325.5" x2="415.7" y2="328.9" stroke="#3a3a3a" stroke-width="0.9"/>
<text x="415.7" y="336.4" font-size="6.6" stroke="#222" stroke-width="0.1" text-anchor="middle" fill="#222">No</text>
<line x1="454" y1="325.5" x2="454" y2="328.9" stroke="#3a3a3a" stroke-width="0.9"/>
<text x="454" y="336.4" font-size="6.6" stroke="#222" stroke-width="0.1" text-anchor="middle" fill="#222">Yes</text>
<text x="435.1" y="345" font-size="6.8" stroke="#222" stroke-width="0.1" text-anchor="middle" fill="#222">Corticosteroids</text>
<text x="369.5" y="266.1" font-size="7.8" stroke="#111" stroke-width="0.1" text-anchor="middle" fill="#111" transform="rotate(-90 369.5 266.1)">RGMA (RFUs)</text>
<text x="434.9" y="361.8" font-size="7" stroke="#222" stroke-width="0.1" text-anchor="middle" fill="#222">Site</text>
<rect x="413.5" y="366" width="3.6" height="4.4" fill="#d4875f" stroke="#777" stroke-width="0.4"/>
<rect x="413.5" y="374.2" width="3.6" height="4.4" fill="#5a7db9" stroke="#777" stroke-width="0.4"/>
<text x="418.8" y="370.3" font-size="7.1" stroke="#222" stroke-width="0.1" fill="#222">LUMC (0.509)</text>
<text x="418.8" y="378.5" font-size="7.1" stroke="#222" stroke-width="0.1" fill="#222">UF (0.983)</text>
<rect x="512.3" y="265.6" width="94.7" height="62.1" fill="#e7e8e8" stroke="none" stroke-width="1"/>
<rect x="607" y="208.9" width="77" height="56.7" fill="#e7e8e8" stroke="none" stroke-width="1"/>
<line x1="607" y1="208.9" x2="607" y2="327.7" stroke="#b0b0b0" stroke-width="0.7" stroke-dasharray="2 1.5"/>
<line x1="512.3" y1="265.6" x2="684" y2="265.6" stroke="#b0b0b0" stroke-width="0.7" stroke-dasharray="2 1.5"/>
<line x1="607" y1="208.9" x2="684" y2="208.9" stroke="#d0d0d0" stroke-width="0.5" stroke-dasharray="2 1.5"/>
<text x="510.8" y="212.7" font-size="7.2" stroke="#222" stroke-width="0.1" text-anchor="end" fill="#222">2</text>
<text x="510.8" y="240.4" font-size="7.2" stroke="#222" stroke-width="0.1" text-anchor="end" fill="#222">1</text>
<text x="510.8" y="268.1" font-size="7.2" stroke="#222" stroke-width="0.1" text-anchor="end" fill="#222">0</text>
<text x="510.8" y="295.8" font-size="7.2" stroke="#222" stroke-width="0.1" text-anchor="end" fill="#222">-1</text>
<text x="510.8" y="323.5" font-size="7.2" stroke="#222" stroke-width="0.1" text-anchor="end" fill="#222">-2</text>
<text x="524.1" y="334.8" font-size="7.2" stroke="#222" stroke-width="0.1" text-anchor="middle" fill="#222">-0.8</text>
<text x="565.5" y="334.8" font-size="7.2" stroke="#222" stroke-width="0.1" text-anchor="middle" fill="#222">-0.4</text>
<text x="606.9" y="334.8" font-size="7.2" stroke="#222" stroke-width="0.1" text-anchor="middle" fill="#222">0.0</text>
<text x="648.3" y="334.8" font-size="7.2" stroke="#222" stroke-width="0.1" text-anchor="middle" fill="#222">0.4</text>
<text x="598.3" y="342.8" font-size="7.5" stroke="#111" stroke-width="0.1" text-anchor="middle" fill="#111">Coefficient for Age</text>
<text x="503" y="267.5" font-size="7.6" stroke="#111" stroke-width="0.1" text-anchor="middle" fill="#111" transform="rotate(-90 503 267.5)">Coefficient for CS</text>
<line x1="522" y1="219.7" x2="529.2" y2="219.7" stroke="#b2c6e2" stroke-width="1.2"/>
<line x1="522" y1="228.6" x2="529.2" y2="228.6" stroke="#f0bc98" stroke-width="1.2"/>
<text x="533.8" y="222.6" font-size="7.1" stroke="#222" stroke-width="0.1" fill="#222">UF</text>
<text x="533.8" y="231.5" font-size="7.1" stroke="#222" stroke-width="0.1" fill="#222">LUMC</text>
<path d="M588.5 297.1h0M591.6 299.7h0M583.7 288.9h0M575.5 288.2h0M590.7 282h0M579.4 285.2h0M599.3 296.7h0M593.3 293.6h0M603 282.6h0M588.3 285h0M577.1 280.5h0M579.3 288.2h0M594.2 290h0M565.7 303h0M593.7 288.8h0M567.2 298.3h0M590.7 289.6h0M550.2 296.6h0M587.2 285.5h0M593.4 287.9h0M580.7 293.1h0M581.3 278.6h0M583.8 293.5h0M593.7 288.9h0M573.4 289.5h0M581.6 272.1h0M593.8 297.9h0M582 291.9h0M578.6 281.9h0M581.1 291.8h0M579.2 287.1h0M586.2 294.4h0M577.5 291.8h0M598.2 285.7h0M591.1 294.2h0M577.8 295.9h0M587.2 297.3h0M602.6 288.5h0M567.6 296.6h0M572.1 283.1h0M568.2 297.9h0M592.7 279.1h0M585.9 290.6h0M577.2 286.3h0M591.4 291.9h0M577.9 288.6h0M593.4 281.6h0M575.5 292.6h0M591.4 284h0M601.3 289.7h0M591.8 295h0M575 288.3h0M550.3 291.8h0M580.8 300h0M573.4 294.4h0M582.4 281.3h0M571.4 286.8h0M570.3 293.3h0M595.4 300.7h0M578.5 276.7h0M588.5 290.2h0M588.4 286.9h0M605.5 284.3h0M572.6 295h0M596.3 296.3h0M578.6 280.3h0M596.2 300.9h0M583.7 288.4h0M576.9 295.1h0M576.6 282.7h0M603.6 292.4h0M578 285.1h0M591.3 303.8h0M594 300.3h0M591.1 283.4h0M592.4 289.9h0M599 284.1h0M592.4 297.8h0M564.1 288.2h0M577.6 304.4h0M569.1 278.7h0M586.9 292.7h0M592 283.1h0M603.2 288.3h0M562.7 289.7h0M563 290.4h0M588.9 284.3h0M586.3 289.9h0M590 299h0M588.9 285.7h0M573.2 291.1h0M581.9 297h0M587.4 291.7h0M587 290.2h0M581.4 282.2h0M576.6 287h0M599.2 296.2h0M584.8 289.9h0M577.1 302.7h0M583.3 289.7h0M589.2 296h0M582.8 291.7h0M580 304.4h0M595.6 280h0M582.7 295.9h0M588.9 299.5h0M569.1 280.6h0M575.2 282.2h0M579.9 281.4h0M578 280.7h0M585.4 291h0M591.5 293.6h0M602.9 281.3h0M569.2 285.4h0M573.8 288.8h0M579.5 299.6h0M585.9 302.8h0M592.7 292.4h0M588.6 297.7h0M570.6 283.6h0M591 298.8h0M590.6 284h0M606.6 284.9h0M586.6 293.2h0M573.6 290.3h0M589.1 281.9h0M603.1 279.4h0M594.7 296.2h0M567.2 267.6h0M571.2 296.2h0M604.1 288.7h0M585.1 294.4h0M586.5 295.1h0M575.6 291h0M587.5 305.5h0M582.3 300.4h0M576.8 290.7h0M605.8 292.8h0M598.6 286.7h0M580.1 283.2h0M593.9 287.1h0M600.7 288.3h0M587.9 288.9h0M585.4 283.5h0M589.2 291.8h0M569.5 291h0M591.3 296.7h0M585.2 290.8h0M578.1 291.7h0M577.6 292.4h0M567.4 290.9h0M577.7 287.9h0M600.2 283.5h0M590.1 284.3h0M605.9 303.3h0M605.9 302.9h0M589.9 290.9h0M596.6 293h0M593.3 285.6h0M577.6 288.7h0M578.3 279h0M578.3 301.1h0M588 292.8h0M576.4 287.5h0M575.9 301.3h0M569.9 291.8h0M574.8 287.5h0M595.6 296.4h0M579 283h0M596 298.7h0M586.2 317.4h0M600.9 312.2h0M573.4 313.8h0M605.1 313h0M587.6 308.7h0M583.4 311.3h0M574.9 312.3h0M606.2 311.4h0M548.3 316.7h0M536.1 314.1h0M571.6 323.1h0M588.3 298.1h0" stroke="#a0bad7" stroke-width="1.6" stroke-linecap="square"/>
<path d="M545.6 272.4h0M554.3 271.9h0M563.3 278.1h0M583.9 278.8h0M521.8 274h0M600.1 274.5h0M516.9 280h0M536.2 273.7h0M598.7 273.1h0M522.4 272.9h0M582.3 275.6h0M582.4 276.1h0M596.3 273.9h0M548 272.2h0M583.3 275h0M545.1 278.3h0M552.6 273.6h0M571.7 276.5h0M599.8 277.8h0M562.1 277.6h0M606.8 273.7h0M527 274h0M568.8 276.8h0M540.9 276.4h0M563.1 276.6h0M561.7 272.8h0M554.4 279.2h0M567.6 280.4h0M527.2 276.6h0M606.8 278.7h0M590.7 275.9h0M570.4 277.7h0M606.3 273.8h0M587.5 276.1h0M549.2 277.3h0M595.1 278.7h0M584 276.3h0M548.2 275.6h0M542.6 272.6h0M544.8 277.1h0M603.2 278.2h0M592 273.8h0M556.8 276.4h0M566.6 273.5h0M539 276.8h0M518 273.8h0M593.9 278.2h0M527.3 275.3h0M553.1 276.4h0M595.3 273.7h0M516.1 277.1h0M548.1 272.6h0M549.7 283.5h0M605.4 275.5h0M570.1 271.8h0M556.9 278.1h0M567.1 276.2h0M547.2 276.1h0M567.9 278.4h0M605.9 276.3h0M562.9 278.2h0M600.7 275.2h0M534.7 274.3h0M557.2 273h0M550.2 279.9h0M573.5 279.1h0M525.8 276h0M555.4 277.2h0M588 278.6h0M569.9 277.5h0M542.5 274.4h0M559.6 274.7h0M606.7 274.4h0M584.4 279.7h0M588.6 277.5h0M606.6 276.6h0M524.5 276.6h0M566.7 277.6h0M519.9 279.2h0M599.1 274h0M592.8 278.3h0M596.2 277.9h0M605.8 274.8h0M585 275.1h0M606.8 276.3h0M532.7 277.5h0M527.7 275h0M571 273.4h0M545.7 279.8h0M542.2 275.6h0M603.5 274.7h0M606.6 276.4h0M587 278.6h0M516 276.8h0M565.7 278.9h0M557.5 272.2h0M584.2 280.3h0M574.9 275.5h0M593 275.3h0M570.7 275.1h0M595 281.7h0M601 277.8h0M605.3 273.5h0M559.6 275.7h0M596.4 279.7h0M579.4 276.4h0M596.1 277.6h0M517.2 276.2h0M595.7 278.3h0M529.2 278.9h0M591.8 276.1h0M592.1 275.4h0M606.8 279.9h0M596.3 277.3h0M538 277.8h0M606.4 277.7h0M604.8 271.9h0M529.4 274.7h0M589.5 277h0M604.6 277.2h0M552.6 279.5h0M580 277.2h0M574.9 274.9h0M590.2 276.6h0M528.8 277.8h0M579.9 275.3h0M575.1 275.3h0M521.9 273.6h0M590.4 278.3h0M561.3 275.8h0M572.2 278.5h0M570.4 275.5h0M588.9 272.7h0M571.2 276.7h0M592.1 274h0M605.9 277h0M571.1 275.4h0M557.1 278h0M525.1 275.8h0M533.2 275.3h0M580.1 277.6h0M604.6 276h0M592.9 281.3h0M601.9 273.9h0M544.6 280.9h0M583.1 279.7h0M553.2 277.6h0M567.8 276.1h0M563.4 274.6h0M523 276.5h0M551.5 274.3h0M606.6 275.8h0M596.7 276.3h0M570.9 274.9h0M533 273.6h0M546.6 275h0M524.6 278.9h0M595.1 272h0M554.8 273.3h0M559 275.1h0M588 277.7h0M595.5 277.5h0M554.6 274h0M597.1 275.6h0M598.1 273.6h0M546.1 278.7h0M544 274.5h0M532.2 274.3h0M599.2 276.9h0M589.2 275.3h0M602.5 277h0M593.1 275.8h0M549.8 270.3h0M561 278.8h0M583.2 278.2h0M529.6 275.1h0M592.2 274.6h0M594.6 272.3h0M604.7 273.6h0M604.2 277.4h0M604.9 275.7h0M526.4 273.6h0M545.1 271.9h0M540.3 275.2h0M573 278.5h0M605 276.3h0M529.5 275.5h0M570.1 277.2h0M554.9 274.3h0M571.5 276.9h0M605.8 272.9h0M584.1 277.1h0M573.7 278.3h0M521.8 274.6h0M573.9 276.7h0M551.7 276.5h0M523.3 276.8h0M591.5 276.1h0M602.6 281.1h0M569.4 277.1h0M520.7 277.5h0M533.2 274.5h0M606.5 276.9h0M566.8 272.8h0M589.8 273.7h0M583.7 273.7h0M596.4 274h0M578.4 271.9h0M589.9 273.5h0M570.7 273.8h0M569.3 270.5h0M586.2 275.3h0M548.2 274.9h0M519.1 275.5h0M580.7 278.5h0M551.5 280.3h0M566 277.3h0M596.7 276.5h0M603.9 277.8h0M554.2 276.9h0M564.1 277.1h0M538.9 273.1h0M580 274.9h0M590.3 273.9h0M522 275.5h0M536.8 275.1h0M600.8 274.3h0M574.4 274.8h0M606.9 275.7h0M606 275.3h0M606.9 275.2h0M521.3 278.6h0M554.3 277.6h0M571.5 280.7h0M571.8 276.4h0M578.8 282.3h0M577.7 272.6h0M575.9 275.4h0M563.1 275.7h0M559.9 278.6h0M561.3 272.9h0M562 277.7h0M585.2 273.5h0M531.8 276.6h0M593.4 274h0M569.1 276.4h0M585 273.5h0M577.9 275.7h0M602.3 276.3h0M592.7 274.6h0M556.6 276.3h0M594.2 276.6h0M589.8 273h0M606.8 278.8h0M599.3 276.9h0M602.4 275.4h0M565.7 276.4h0M558.7 280.3h0M589.6 274.6h0M525.2 279.3h0M580 273.5h0M590.1 282.1h0M521.6 274.2h0M525 278.8h0M561.5 277.5h0M544 271.5h0M606.4 273.5h0M531.2 278.6h0M532.9 273.4h0M605.5 276.2h0M601.6 277h0M516.5 275.8h0M556.8 277h0M603.3 280.5h0M531.9 272.6h0M596.9 274.5h0M550 274.6h0M606.1 275.5h0M570.4 268.8h0M606.7 278.7h0M565.8 272.3h0M580.1 275h0M577.8 277.4h0M592.7 273.3h0M558.5 271.2h0M584.2 276.8h0M598.1 281.2h0M606.2 277h0M552.7 273.3h0M606.5 280.4h0M536.2 278.8h0M536.7 277.1h0M600 271.4h0M603.4 274.3h0M561.4 275.9h0M606.9 276h0M596 277h0M539 277.6h0M574 276.8h0M520.4 273.6h0M546 295.6h0M593.7 297.3h0M590.6 275.3h0M546.2 295.1h0M601.4 282.5h0M530.2 285.8h0M565.5 295.8h0M606.3 283.1h0M554.3 287.7h0M558.2 290.5h0M596 281h0M582.2 293.1h0M550.3 290.1h0M601 286.3h0M560.4 291.6h0M571.8 286.5h0M541.6 286.5h0M553.4 271.9h0M575 274.8h0M587.2 276.6h0M590.8 282.5h0M600.3 287h0M548.6 290.7h0M549.3 293.8h0M536.6 289.8h0M572.2 277.9h0M568.7 292.3h0M568.3 289.1h0M549.3 291.5h0M605.8 290.4h0M582.2 300.3h0M575.3 279.9h0M594.6 286.8h0M593.2 279.4h0M578.6 266.3h0" stroke="#ebae78" stroke-width="1.6" stroke-linecap="square"/>
<path d="M616.9 240.7h0M652 240.4h0M642.8 238.1h0M640.8 233.1h0M618.8 246.9h0M610.2 251.2h0M652.3 246.2h0M625.9 233.8h0M612 242.1h0M610.5 242.9h0M630.5 238h0M624.4 235.7h0M629.1 247.6h0M611.3 244.5h0M611.9 233.8h0M647.4 238.7h0M626.4 244.6h0M624.3 244.6h0M650.9 238h0M611.8 237.6h0M619.9 230.9h0M619.2 240.7h0M616.9 236.8h0M637.4 237.5h0M645 229.6h0M651.9 236.4h0M609.5 245.3h0M620.1 241.2h0M635.1 238.2h0M617.5 238.5h0M621.2 233.3h0M623.3 237.8h0M647.8 242.1h0M646.6 234.7h0M612.1 237.5h0M642.1 213h0M669 220.4h0" stroke="#b9cbe0" stroke-width="1.6" stroke-linecap="square"/>
<path d="M613.7 255.5h0M644 252h0M668.4 257.3h0M660.8 252.2h0M611.6 253.7h0M671.9 249.2h0M666.4 249.8h0M655.8 248.9h0M653.2 253.2h0M651.6 254.7h0M631.2 252.4h0M629.3 252.3h0M647.8 258.2h0M676.7 253.1h0M661.1 253.5h0M610.7 246.9h0M629.2 251.7h0M625.9 257h0M629.8 252.5h0M616 255.8h0M659.1 252.3h0M629.9 248h0M611.4 249.9h0M664.8 256h0M643 254.5h0M667.1 250.5h0M636 259.7h0M673.2 254.7h0M608.2 252.5h0M645.4 254.4h0M614.9 254.5h0M640.2 251.5h0M664.8 255.3h0M643.2 256.9h0M617.9 254.7h0M610.6 257.8h0M645 253.6h0M654 252h0M641.5 249.4h0M623.6 248.8h0M651.1 248.9h0M675.4 253.7h0M616.7 257.3h0M672.2 250.2h0M622.2 251h0M609.3 254.6h0M675.9 257.5h0M629.2 255.7h0M669.3 254.7h0M655.1 258.2h0M621.1 247.5h0M618.3 254.1h0M671.4 249.7h0M615 255.8h0M649 253.7h0M638.7 254.6h0M613.7 256.7h0M627.8 255h0M664.3 256h0M659.7 253.7h0" stroke="#efc6a0" stroke-width="1.6" stroke-linecap="square"/>
<path d="M593.1 253.4h0M600.2 256.8h0M568.4 253.2h0M562.4 257.9h0M571.3 254.1h0M522.4 252.3h0M549.4 258.2h0M557.7 256.8h0M562 255.5h0M566.8 255.3h0M602.7 258.7h0M519.6 254.4h0M566.7 260.3h0M529.4 258.6h0M534.5 254.2h0M569.1 255.5h0M560.5 254.9h0M576.8 256.2h0M525.5 260h0M598.3 254.8h0M596.9 259h0M598.3 253.8h0M566.2 255.5h0M543.4 254.9h0M520.2 254.3h0M603.3 257.5h0M559.7 254.7h0M550.7 254h0M572 254.8h0M558 256.4h0M556.8 257.9h0M551.7 255.1h0M587.7 256.4h0M535.7 256.5h0M546.6 254.6h0M588.8 252.6h0M602.1 254.9h0M592 255.2h0M551.8 254.8h0M520.8 256.6h0M535.1 256.2h0M532 256.7h0M548.1 255h0M542.7 255.5h0M538 253.9h0M532.9 254.6h0M568.3 253.2h0M568.4 258.8h0M567.6 257.8h0M561.6 254.7h0M592.9 255.3h0M577.2 256.1h0M544.5 255.6h0M535.7 255.7h0M539.6 254.6h0M572.9 254.9h0M567.5 255.6h0M601 252.2h0M597 256h0M575.7 259.1h0M571.5 255.3h0M559.5 254.1h0M590.9 254.5h0M597.2 258.5h0M595.5 254h0M602.9 255.5h0M537 253.1h0M547.2 257.1h0M549.2 256.8h0M533.2 256.9h0M518.6 252.2h0M529.8 253.5h0M578.4 256.8h0M544.8 251.6h0M578.8 252.9h0M602.8 253.6h0M546.8 258.3h0M520.4 254.8h0M573 256.3h0M558.6 253.3h0M570.1 256.9h0M572 254.7h0M570.8 258.5h0M575.4 253.1h0M556.5 256.8h0M578.5 254.1h0M526.7 254.8h0M575.6 254.7h0M536.6 254.6h0M568.2 253.1h0M535.5 256.5h0M528 257.4h0M574.8 255.1h0M606.1 254.2h0M555.1 256.8h0M539.6 256h0M539.8 254.5h0M558.2 254.5h0M599.9 257.4h0M535.3 257.4h0M557 254.3h0M543.6 256h0M560.2 255.9h0M589.6 255.1h0M573.9 259h0M542.9 255.9h0M592.6 257.7h0M556.3 253h0M598 258.5h0M557 256.5h0M552.9 254.6h0M545.5 255.6h0M537.7 256.9h0M522.4 256.7h0M552.2 252.7h0M555.3 257.3h0M549 257.2h0M593.2 255.4h0M585.9 257h0M523.2 254h0M540.9 255.9h0M528 256.4h0M593.9 257.8h0M588.2 257.2h0M584.8 257.4h0M527.8 251.9h0M548.4 259.1h0M554.9 254.7h0M588.2 254.2h0M596.7 257.7h0M580.2 259.2h0M524 253.2h0M593.9 254.9h0M521 255.8h0M575 252.9h0M521.4 252.2h0M567.4 255.6h0M581.4 253.4h0M522 253.6h0M606.1 254.6h0M598.3 256.4h0M550 255.7h0M567.6 254.6h0M524.1 257h0M601.2 256.6h0M520.4 256h0M541.6 256.4h0M535 255.2h0M530.1 254.2h0M574.3 259.4h0M537.5 253.3h0M563 257.4h0M573.5 261.3h0M564.6 256.8h0M566.9 253.1h0M557.1 257.9h0M585.8 257.7h0M544.9 255h0M590.3 255.8h0M526.5 255.2h0M533.6 253.2h0M543.5 256.3h0M606.1 256h0M570.1 256h0M563.5 254.1h0M533.9 252.1h0M520.6 254.2h0M524.1 254h0M590.1 257.6h0M592.4 257.8h0M599.8 254.7h0M595 257.1h0M521.9 253.2h0M585.5 254.9h0M542.2 252.4h0M604.3 254.6h0M550.9 252h0M539.1 254.9h0M543.3 254.5h0M525.7 253.2h0M597.4 251.9h0M548.4 254h0M523.4 256.4h0M529 256.1h0M518.5 256.7h0M589.8 259.4h0M580.1 253.8h0M551.7 253.5h0M538.8 254h0M606.3 250.8h0M591.4 255.6h0M527.8 256.2h0M568.5 254.1h0M531.4 254.9h0M526.6 256.9h0M570.1 256.2h0M582.1 257.6h0M533.4 255.9h0M587 256h0M560.3 254.5h0M556.5 242.5h0M583.2 248.3h0M562.5 248.7h0M585.7 249.5h0M606.2 249.2h0M562.7 246.1h0M593.1 253h0M574.5 247.5h0M526.2 248.3h0M570.5 245.9h0M603.5 247.9h0M520.9 252.1h0M602.8 251.1h0M530.9 252.7h0M553.5 249.6h0" stroke="#ef8a2d" stroke-width="1.6" stroke-linecap="square"/>
<path d="M606.8 240.6h0M576.5 240.9h0M582.4 246.5h0M578.5 241.8h0M588.3 238h0M589.2 242.7h0M567.6 237.8h0M581.9 248.9h0M594.2 235.5h0M604.2 241.7h0M578.7 240.8h0M603.1 248.1h0M606.4 246.2h0M606.9 245.5h0M545.3 239.1h0M597 250.9h0M582.3 246.5h0M606.4 237.4h0M603.5 239.8h0M562.6 241h0M547.5 248.1h0M597.4 242.2h0M597.1 242.9h0M559 238.8h0M606.1 241.5h0M604.9 241.8h0M569.3 243.7h0M583.9 250.4h0M601.9 244.2h0M603.1 235.3h0M597.4 247.5h0M593.1 248.3h0M602 246.4h0M584.1 233.8h0M538.6 248.4h0M542.7 249.5h0M560.3 237.9h0" stroke="#3e79b7" stroke-width="1.6" stroke-linecap="square"/>
<path d="M614.9 289.5h0M621.9 284.2h0M628.8 281h0M607.2 273.9h0M614.4 297.1h0M623 280.5h0M635.6 276.3h0M618 311h0M607.9 296.2h0M638.8 294.6h0M607.1 298.4h0M637.2 285.9h0M614.6 279.6h0M640 286h0M647.7 288.1h0M618.4 294.9h0M609.7 292.5h0M637.7 291.7h0M622 291.6h0M613.4 284.2h0M621.1 290.1h0M608.4 281.5h0M630.4 292.3h0M636.8 285.5h0M613.5 283.6h0M611.6 292.2h0M631.5 285.5h0M608.2 303.1h0M612.1 290.3h0M608.1 301h0M642 299.7h0M634.1 291h0M616.7 282.6h0M613.4 286.2h0M647.4 287.1h0M612.5 281.4h0M611 286.5h0M616.1 293h0M616.7 309.1h0M639.7 291.9h0M620.2 293.5h0M610.5 306.9h0M650.1 290.4h0M617.9 279.6h0M611.8 287h0M608.2 282h0M625.6 298.3h0M607.8 289h0M607 284.2h0M626.1 283.9h0M644.8 287.4h0M614.8 290.6h0M610.9 288.6h0M641.7 288.5h0M632.5 291.8h0M647.5 277.4h0M639.9 286.4h0M612 293.6h0M609.2 290.3h0M616.8 294.2h0M628.9 302.3h0M610.5 287h0M626.4 290h0M649.9 290.4h0M619.5 296.9h0" stroke="#3e79b7" stroke-width="1.6" stroke-linecap="square"/>
<path d="M624.3 275.1h0M629.1 277.7h0M616.2 273.1h0M636.4 272.5h0M618.5 275.1h0M614.1 280.4h0M654.4 277.4h0M614 274.6h0M628.6 276.5h0M610.8 279.8h0M622.1 274.4h0M642.9 274.8h0M619.6 276.4h0M629.1 277.4h0M661.2 276.2h0M623.8 275.5h0M613.7 275.4h0M619.8 277.6h0M608.1 278.4h0M612.2 274.2h0M648.8 276.8h0M620.8 273.3h0M656.3 274.9h0M609 277.5h0M645.9 277.2h0M642.1 279.5h0M651.8 278.9h0M624.8 268.9h0M652 277.1h0M648.9 278.6h0M622.6 278.4h0M640.6 277.1h0M615.7 276.2h0M619.4 277h0M620.2 277h0M621 271.5h0M644.4 277.4h0M622.3 281.1h0M619.3 274.8h0M607 275h0M659.1 274h0M612.9 276h0M621.1 271.8h0M609.7 276.7h0M643.1 275.5h0M647.3 276.8h0M624.4 272.1h0M618.2 277h0M645.8 273.7h0M607.9 275.3h0M643 272h0M654.3 275.3h0M609.4 276.8h0M608.2 272.2h0M662.1 274.3h0M647 279.2h0M608.5 278.3h0M646.2 280.2h0M628.8 269.2h0M618.6 274.6h0M615.2 275.1h0M639 279.2h0M659.5 270.6h0M608.4 278.4h0M620.5 280.1h0M618.3 274.1h0M637.2 280h0M647 274.5h0M617.7 278.9h0M624.8 270.3h0M607.5 278.1h0M626 276.9h0M614.6 277.8h0M607.4 280h0M649.8 275.8h0M607.2 279.7h0M607.4 281.6h0M608.8 272.9h0M610.3 274.9h0M620.1 277.8h0M617.9 280.7h0M633 279.9h0M645.5 275.4h0M657.4 279.6h0M623.3 277.4h0M611 282.1h0M632.5 274.2h0M607.1 278.2h0M654.4 275.5h0M648.8 274.5h0M611.3 275.3h0M608.8 275.4h0M654.4 277.6h0M652.9 277.2h0M634.9 271.4h0M632.1 271h0M656.6 274.5h0M659.1 276.3h0M606.9 281.8h0M612.2 275.5h0M607.9 280.7h0M620.9 274.9h0M636.5 271h0M607 275.7h0M606.9 278.8h0M657.6 277.2h0M607.8 276.2h0M617.4 273.6h0M621.9 282.2h0M639.2 280.8h0M613.4 277.4h0M646.1 271.6h0M632 279.7h0M643.1 278.8h0M607.5 275.5h0M607.3 277h0M639.8 278.3h0M607.5 275.1h0M617.6 274.5h0M649.4 278.5h0M612 275.7h0M639.9 276.3h0M643.8 276.1h0M630.3 277.1h0M629.7 274.6h0M609.8 276.5h0M662.3 272.2h0M611.5 273h0M653.4 277.1h0M660.3 273h0M636.7 270.4h0M608 271.7h0M613.4 276.1h0M643.9 279.6h0M616.8 279.2h0M642.9 275.8h0M631.3 282.6h0M636.1 274.5h0M657.4 277.9h0M618.7 275.9h0M608.6 273.6h0M644.9 278.2h0M611.6 285.8h0M609 271.4h0M658.7 281.5h0M612.2 277.5h0M611.9 274h0M617.5 276.6h0M640.3 276.6h0M619.7 275.7h0M627.6 278.7h0M652.2 274.7h0M610.8 278.3h0M607.6 278.1h0M611.7 277.3h0M663.2 274.2h0M607 273.2h0M616 277.4h0M652.1 275.4h0M615.3 281.9h0M617.1 268.9h0M632.5 271h0M621.7 274.1h0M637.6 276.1h0M658 277.6h0M630.3 268.8h0M646.6 280.7h0M636.9 281.8h0M626.1 271.7h0M607.2 278.7h0M612.5 277.2h0M610.5 275.2h0M607.6 279h0M609.6 274.4h0M646.6 277.7h0M607.7 281h0M630.4 274.5h0M644.1 273h0M640.8 276.7h0M610 279.1h0M628.7 281h0M656.2 273.3h0M645.6 272h0M633.9 275.7h0M607.2 274.3h0M661.5 277.1h0M650.6 276.6h0M609.9 278.6h0M611.4 279.9h0M638 272.3h0M634 272.7h0M659 277.5h0M608.5 271.2h0M622.8 275.7h0M613.4 277.6h0M644.8 278.8h0M621.6 273h0M608 276.3h0M660.1 279.3h0M607.2 275.2h0M656.3 273.6h0M673.2 273.8h0M673 274.3h0M657.3 274.5h0M674.3 275.7h0M664.9 273.9h0M657.7 276.7h0M678.4 277.1h0M662.3 273.9h0M677.5 273.2h0" stroke="#ef8a2d" stroke-width="1.6" stroke-linecap="square"/>
</svg>
</body></html>
